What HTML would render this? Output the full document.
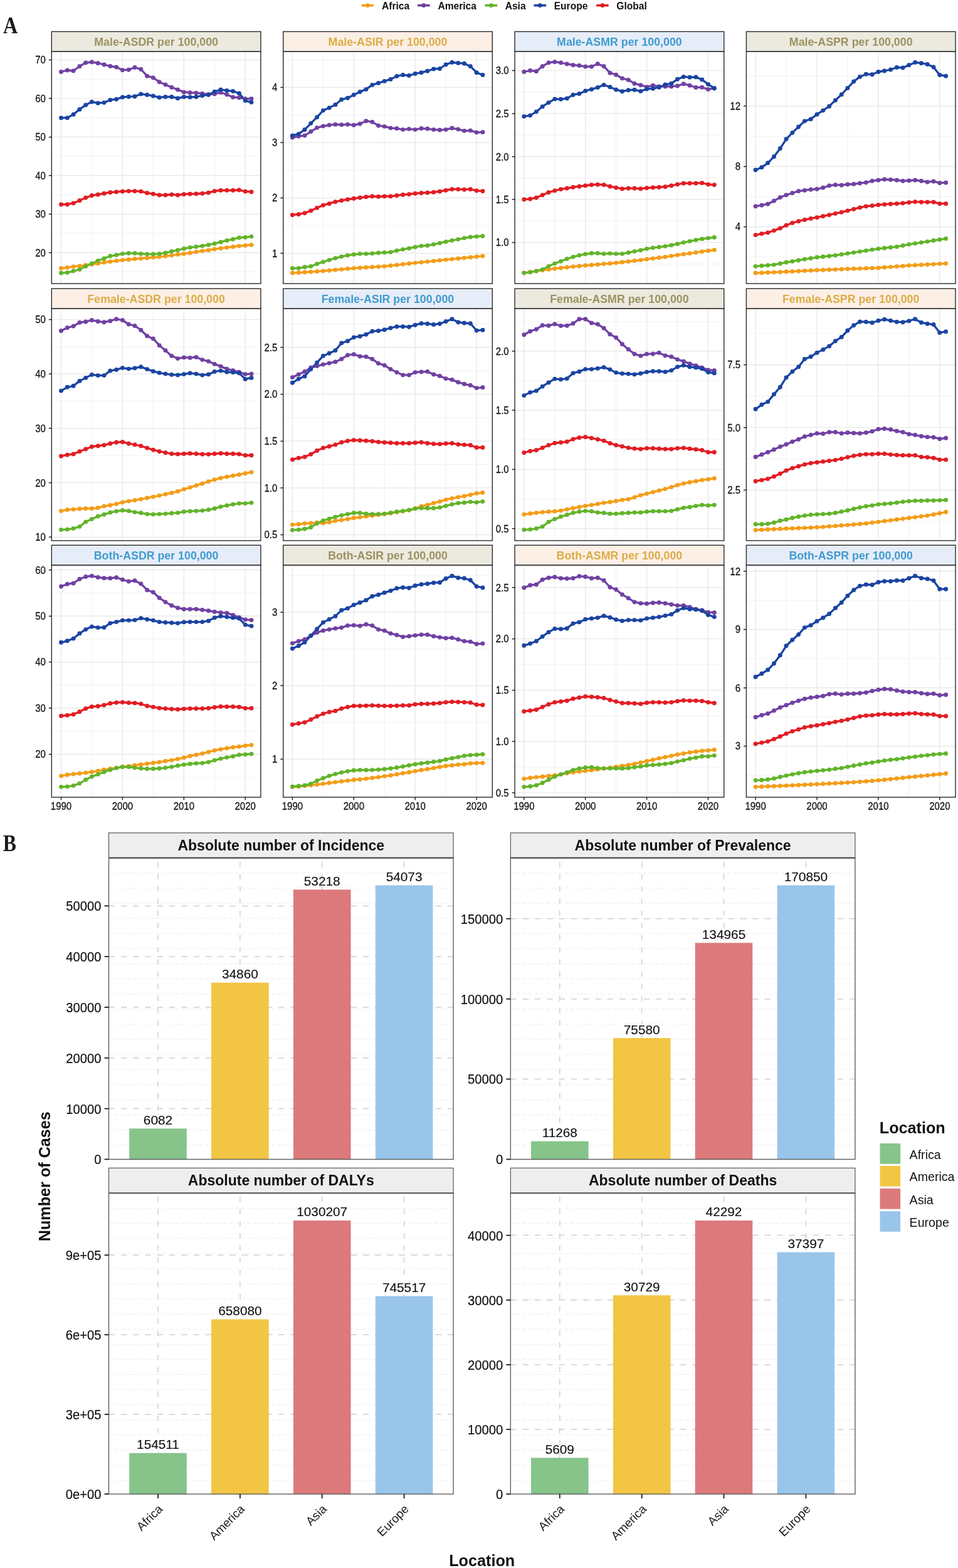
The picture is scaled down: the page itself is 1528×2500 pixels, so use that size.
<!DOCTYPE html><html><head><meta charset="utf-8"><title>Figure</title>
<style>html,body{margin:0;padding:0;background:#fff;}svg{display:block;}text{font-family:"Liberation Sans",Arial,Helvetica,sans-serif;}</style></head><body>
<svg width="1528" height="2500" viewBox="0 0 1528 2500">
<rect x="0" y="0" width="1528" height="2500" fill="#ffffff"/>
<line x1="576.6" y1="8.6" x2="596.2" y2="8.6" stroke="#F49D18" stroke-width="3.6"/>
<circle cx="586.4" cy="8.6" r="3.4" fill="#F49D18"/>
<text x="609.0" y="14.6" font-size="15.6" font-weight="bold" fill="#111">Africa</text>
<line x1="666.0" y1="8.6" x2="685.6" y2="8.6" stroke="#7041A3" stroke-width="3.6"/>
<circle cx="675.8" cy="8.6" r="3.4" fill="#7041A3"/>
<text x="698.4" y="14.6" font-size="15.6" font-weight="bold" fill="#111">America</text>
<line x1="773.5" y1="8.6" x2="793.1" y2="8.6" stroke="#62B42A" stroke-width="3.6"/>
<circle cx="783.3" cy="8.6" r="3.4" fill="#62B42A"/>
<text x="805.7" y="14.6" font-size="15.6" font-weight="bold" fill="#111">Asia</text>
<line x1="851.5" y1="8.6" x2="871.1" y2="8.6" stroke="#1A44A2" stroke-width="3.6"/>
<circle cx="861.3" cy="8.6" r="3.4" fill="#1A44A2"/>
<text x="883.7" y="14.6" font-size="15.6" font-weight="bold" fill="#111">Europe</text>
<line x1="951.1" y1="8.6" x2="970.7" y2="8.6" stroke="#E21D23" stroke-width="3.6"/>
<circle cx="960.9" cy="8.6" r="3.4" fill="#E21D23"/>
<text x="983.3" y="14.6" font-size="15.6" font-weight="bold" fill="#111">Global</text>
<text x="0" y="0" font-size="37.5" font-weight="bold" fill="#1a1a1a" style="font-family:'Liberation Serif',serif" transform="translate(5 52.8) scale(0.86 1)">A</text>
<text x="0" y="0" font-size="37" font-weight="bold" fill="#1a1a1a" style="font-family:'Liberation Serif',serif" transform="translate(4.8 1357.1) scale(0.86 1)">B</text>
<rect x="82.3" y="50.4" width="333.6" height="31.9" fill="#ECEADF" stroke="#2a2a2a" stroke-width="1.4"/>
<text x="249.1" y="73.0" font-size="17.8" font-weight="bold" fill="#9C9262" text-anchor="middle">Male-ASDR per 100,000</text>
<rect x="82.3" y="82.3" width="333.6" height="369.9" fill="#ffffff"/>
<line x1="82.3" y1="433.5" x2="415.9" y2="433.5" stroke="#EDEDED" stroke-width="0.8"/>
<line x1="82.3" y1="372.1" x2="415.9" y2="372.1" stroke="#EDEDED" stroke-width="0.8"/>
<line x1="82.3" y1="310.6" x2="415.9" y2="310.6" stroke="#EDEDED" stroke-width="0.8"/>
<line x1="82.3" y1="249.2" x2="415.9" y2="249.2" stroke="#EDEDED" stroke-width="0.8"/>
<line x1="82.3" y1="187.7" x2="415.9" y2="187.7" stroke="#EDEDED" stroke-width="0.8"/>
<line x1="82.3" y1="126.2" x2="415.9" y2="126.2" stroke="#EDEDED" stroke-width="0.8"/>
<line x1="146.4" y1="82.3" x2="146.4" y2="452.2" stroke="#EDEDED" stroke-width="0.8"/>
<line x1="244.3" y1="82.3" x2="244.3" y2="452.2" stroke="#EDEDED" stroke-width="0.8"/>
<line x1="342.2" y1="82.3" x2="342.2" y2="452.2" stroke="#EDEDED" stroke-width="0.8"/>
<line x1="82.3" y1="402.8" x2="415.9" y2="402.8" stroke="#E6E6E6" stroke-width="1.2"/>
<line x1="82.3" y1="341.3" x2="415.9" y2="341.3" stroke="#E6E6E6" stroke-width="1.2"/>
<line x1="82.3" y1="279.9" x2="415.9" y2="279.9" stroke="#E6E6E6" stroke-width="1.2"/>
<line x1="82.3" y1="218.4" x2="415.9" y2="218.4" stroke="#E6E6E6" stroke-width="1.2"/>
<line x1="82.3" y1="157.0" x2="415.9" y2="157.0" stroke="#E6E6E6" stroke-width="1.2"/>
<line x1="82.3" y1="95.5" x2="415.9" y2="95.5" stroke="#E6E6E6" stroke-width="1.2"/>
<line x1="97.5" y1="82.3" x2="97.5" y2="452.2" stroke="#E6E6E6" stroke-width="1.2"/>
<line x1="195.4" y1="82.3" x2="195.4" y2="452.2" stroke="#E6E6E6" stroke-width="1.2"/>
<line x1="293.3" y1="82.3" x2="293.3" y2="452.2" stroke="#E6E6E6" stroke-width="1.2"/>
<line x1="391.2" y1="82.3" x2="391.2" y2="452.2" stroke="#E6E6E6" stroke-width="1.2"/>
<polyline points="97.5,427.8 107.3,426.6 117.1,425.1 126.9,424.1 136.7,422.8 146.4,421.6 156.2,420.1 166.0,418.3 175.8,417.1 185.6,415.8 195.4,414.6 205.2,413.8 215.0,412.8 224.8,412.1 234.6,411.3 244.3,410.3 254.1,409.6 263.9,408.3 273.7,407.1 283.5,405.8 293.3,404.6 303.1,403.3 312.9,401.6 322.7,400.1 332.5,398.9 342.2,397.1 352.0,395.9 361.8,394.6 371.6,393.4 381.4,392.1 391.2,391.4 401.0,390.4" fill="none" stroke="#F49D18" stroke-width="3.3" stroke-linejoin="round"/>
<polyline points="97.5,114.5 107.3,112.0 117.1,113.0 126.9,105.7 136.7,100.0 146.4,99.0 156.2,100.7 166.0,103.0 175.8,105.5 185.6,107.0 195.4,111.7 205.2,111.2 215.0,107.5 224.8,110.5 234.6,121.2 244.3,123.9 254.1,130.7 263.9,134.9 273.7,139.2 283.5,142.9 293.3,146.9 303.1,147.7 312.9,148.2 322.7,149.2 332.5,150.4 342.2,149.9 352.0,147.4 361.8,150.7 371.6,154.9 381.4,155.7 391.2,157.4 401.0,157.4" fill="none" stroke="#7041A3" stroke-width="3.3" stroke-linejoin="round"/>
<polyline points="97.5,435.3 107.3,434.6 117.1,432.1 126.9,429.6 136.7,424.6 146.4,420.1 156.2,415.8 166.0,412.1 175.8,408.3 185.6,406.6 195.4,404.6 205.2,403.8 215.0,403.8 224.8,404.6 234.6,405.1 244.3,405.3 254.1,404.6 263.9,403.3 273.7,400.8 283.5,398.9 293.3,396.4 303.1,394.6 312.9,393.4 322.7,392.1 332.5,390.4 342.2,388.4 352.0,385.9 361.8,383.4 371.6,381.4 381.4,378.9 391.2,378.4 401.0,377.1" fill="none" stroke="#62B42A" stroke-width="3.3" stroke-linejoin="round"/>
<polyline points="97.5,187.9 107.3,187.9 117.1,182.4 126.9,174.4 136.7,167.4 146.4,162.4 156.2,164.4 166.0,163.6 175.8,159.4 185.6,158.2 195.4,154.9 205.2,154.2 215.0,153.7 224.8,149.9 234.6,151.2 244.3,152.9 254.1,155.4 263.9,154.4 273.7,154.4 283.5,156.7 293.3,154.4 303.1,154.9 312.9,154.4 322.7,152.4 332.5,151.2 342.2,146.2 352.0,142.9 361.8,144.4 371.6,145.4 381.4,148.7 391.2,160.4 401.0,163.1" fill="none" stroke="#1A44A2" stroke-width="3.3" stroke-linejoin="round"/>
<polyline points="97.5,325.9 107.3,325.9 117.1,323.9 126.9,319.7 136.7,315.2 146.4,311.7 156.2,310.2 166.0,308.5 175.8,306.7 185.6,306.0 195.4,305.2 205.2,304.7 215.0,304.7 224.8,305.2 234.6,307.7 244.3,309.2 254.1,311.0 263.9,311.0 273.7,310.2 283.5,311.0 293.3,309.7 303.1,309.2 312.9,309.0 322.7,308.5 332.5,307.2 342.2,304.7 352.0,303.5 361.8,303.5 371.6,303.5 381.4,303.0 391.2,305.2 401.0,306.0" fill="none" stroke="#E21D23" stroke-width="3.3" stroke-linejoin="round"/>
<g fill="#F49D18"><circle cx="97.5" cy="427.8" r="3.45"/><circle cx="107.3" cy="426.6" r="3.45"/><circle cx="117.1" cy="425.1" r="3.45"/><circle cx="126.9" cy="424.1" r="3.45"/><circle cx="136.7" cy="422.8" r="3.45"/><circle cx="146.4" cy="421.6" r="3.45"/><circle cx="156.2" cy="420.1" r="3.45"/><circle cx="166.0" cy="418.3" r="3.45"/><circle cx="175.8" cy="417.1" r="3.45"/><circle cx="185.6" cy="415.8" r="3.45"/><circle cx="195.4" cy="414.6" r="3.45"/><circle cx="205.2" cy="413.8" r="3.45"/><circle cx="215.0" cy="412.8" r="3.45"/><circle cx="224.8" cy="412.1" r="3.45"/><circle cx="234.6" cy="411.3" r="3.45"/><circle cx="244.3" cy="410.3" r="3.45"/><circle cx="254.1" cy="409.6" r="3.45"/><circle cx="263.9" cy="408.3" r="3.45"/><circle cx="273.7" cy="407.1" r="3.45"/><circle cx="283.5" cy="405.8" r="3.45"/><circle cx="293.3" cy="404.6" r="3.45"/><circle cx="303.1" cy="403.3" r="3.45"/><circle cx="312.9" cy="401.6" r="3.45"/><circle cx="322.7" cy="400.1" r="3.45"/><circle cx="332.5" cy="398.9" r="3.45"/><circle cx="342.2" cy="397.1" r="3.45"/><circle cx="352.0" cy="395.9" r="3.45"/><circle cx="361.8" cy="394.6" r="3.45"/><circle cx="371.6" cy="393.4" r="3.45"/><circle cx="381.4" cy="392.1" r="3.45"/><circle cx="391.2" cy="391.4" r="3.45"/><circle cx="401.0" cy="390.4" r="3.45"/></g>
<g fill="#7041A3"><circle cx="97.5" cy="114.5" r="3.45"/><circle cx="107.3" cy="112.0" r="3.45"/><circle cx="117.1" cy="113.0" r="3.45"/><circle cx="126.9" cy="105.7" r="3.45"/><circle cx="136.7" cy="100.0" r="3.45"/><circle cx="146.4" cy="99.0" r="3.45"/><circle cx="156.2" cy="100.7" r="3.45"/><circle cx="166.0" cy="103.0" r="3.45"/><circle cx="175.8" cy="105.5" r="3.45"/><circle cx="185.6" cy="107.0" r="3.45"/><circle cx="195.4" cy="111.7" r="3.45"/><circle cx="205.2" cy="111.2" r="3.45"/><circle cx="215.0" cy="107.5" r="3.45"/><circle cx="224.8" cy="110.5" r="3.45"/><circle cx="234.6" cy="121.2" r="3.45"/><circle cx="244.3" cy="123.9" r="3.45"/><circle cx="254.1" cy="130.7" r="3.45"/><circle cx="263.9" cy="134.9" r="3.45"/><circle cx="273.7" cy="139.2" r="3.45"/><circle cx="283.5" cy="142.9" r="3.45"/><circle cx="293.3" cy="146.9" r="3.45"/><circle cx="303.1" cy="147.7" r="3.45"/><circle cx="312.9" cy="148.2" r="3.45"/><circle cx="322.7" cy="149.2" r="3.45"/><circle cx="332.5" cy="150.4" r="3.45"/><circle cx="342.2" cy="149.9" r="3.45"/><circle cx="352.0" cy="147.4" r="3.45"/><circle cx="361.8" cy="150.7" r="3.45"/><circle cx="371.6" cy="154.9" r="3.45"/><circle cx="381.4" cy="155.7" r="3.45"/><circle cx="391.2" cy="157.4" r="3.45"/><circle cx="401.0" cy="157.4" r="3.45"/></g>
<g fill="#62B42A"><circle cx="97.5" cy="435.3" r="3.45"/><circle cx="107.3" cy="434.6" r="3.45"/><circle cx="117.1" cy="432.1" r="3.45"/><circle cx="126.9" cy="429.6" r="3.45"/><circle cx="136.7" cy="424.6" r="3.45"/><circle cx="146.4" cy="420.1" r="3.45"/><circle cx="156.2" cy="415.8" r="3.45"/><circle cx="166.0" cy="412.1" r="3.45"/><circle cx="175.8" cy="408.3" r="3.45"/><circle cx="185.6" cy="406.6" r="3.45"/><circle cx="195.4" cy="404.6" r="3.45"/><circle cx="205.2" cy="403.8" r="3.45"/><circle cx="215.0" cy="403.8" r="3.45"/><circle cx="224.8" cy="404.6" r="3.45"/><circle cx="234.6" cy="405.1" r="3.45"/><circle cx="244.3" cy="405.3" r="3.45"/><circle cx="254.1" cy="404.6" r="3.45"/><circle cx="263.9" cy="403.3" r="3.45"/><circle cx="273.7" cy="400.8" r="3.45"/><circle cx="283.5" cy="398.9" r="3.45"/><circle cx="293.3" cy="396.4" r="3.45"/><circle cx="303.1" cy="394.6" r="3.45"/><circle cx="312.9" cy="393.4" r="3.45"/><circle cx="322.7" cy="392.1" r="3.45"/><circle cx="332.5" cy="390.4" r="3.45"/><circle cx="342.2" cy="388.4" r="3.45"/><circle cx="352.0" cy="385.9" r="3.45"/><circle cx="361.8" cy="383.4" r="3.45"/><circle cx="371.6" cy="381.4" r="3.45"/><circle cx="381.4" cy="378.9" r="3.45"/><circle cx="391.2" cy="378.4" r="3.45"/><circle cx="401.0" cy="377.1" r="3.45"/></g>
<g fill="#1A44A2"><circle cx="97.5" cy="187.9" r="3.45"/><circle cx="107.3" cy="187.9" r="3.45"/><circle cx="117.1" cy="182.4" r="3.45"/><circle cx="126.9" cy="174.4" r="3.45"/><circle cx="136.7" cy="167.4" r="3.45"/><circle cx="146.4" cy="162.4" r="3.45"/><circle cx="156.2" cy="164.4" r="3.45"/><circle cx="166.0" cy="163.6" r="3.45"/><circle cx="175.8" cy="159.4" r="3.45"/><circle cx="185.6" cy="158.2" r="3.45"/><circle cx="195.4" cy="154.9" r="3.45"/><circle cx="205.2" cy="154.2" r="3.45"/><circle cx="215.0" cy="153.7" r="3.45"/><circle cx="224.8" cy="149.9" r="3.45"/><circle cx="234.6" cy="151.2" r="3.45"/><circle cx="244.3" cy="152.9" r="3.45"/><circle cx="254.1" cy="155.4" r="3.45"/><circle cx="263.9" cy="154.4" r="3.45"/><circle cx="273.7" cy="154.4" r="3.45"/><circle cx="283.5" cy="156.7" r="3.45"/><circle cx="293.3" cy="154.4" r="3.45"/><circle cx="303.1" cy="154.9" r="3.45"/><circle cx="312.9" cy="154.4" r="3.45"/><circle cx="322.7" cy="152.4" r="3.45"/><circle cx="332.5" cy="151.2" r="3.45"/><circle cx="342.2" cy="146.2" r="3.45"/><circle cx="352.0" cy="142.9" r="3.45"/><circle cx="361.8" cy="144.4" r="3.45"/><circle cx="371.6" cy="145.4" r="3.45"/><circle cx="381.4" cy="148.7" r="3.45"/><circle cx="391.2" cy="160.4" r="3.45"/><circle cx="401.0" cy="163.1" r="3.45"/></g>
<g fill="#E21D23"><circle cx="97.5" cy="325.9" r="3.45"/><circle cx="107.3" cy="325.9" r="3.45"/><circle cx="117.1" cy="323.9" r="3.45"/><circle cx="126.9" cy="319.7" r="3.45"/><circle cx="136.7" cy="315.2" r="3.45"/><circle cx="146.4" cy="311.7" r="3.45"/><circle cx="156.2" cy="310.2" r="3.45"/><circle cx="166.0" cy="308.5" r="3.45"/><circle cx="175.8" cy="306.7" r="3.45"/><circle cx="185.6" cy="306.0" r="3.45"/><circle cx="195.4" cy="305.2" r="3.45"/><circle cx="205.2" cy="304.7" r="3.45"/><circle cx="215.0" cy="304.7" r="3.45"/><circle cx="224.8" cy="305.2" r="3.45"/><circle cx="234.6" cy="307.7" r="3.45"/><circle cx="244.3" cy="309.2" r="3.45"/><circle cx="254.1" cy="311.0" r="3.45"/><circle cx="263.9" cy="311.0" r="3.45"/><circle cx="273.7" cy="310.2" r="3.45"/><circle cx="283.5" cy="311.0" r="3.45"/><circle cx="293.3" cy="309.7" r="3.45"/><circle cx="303.1" cy="309.2" r="3.45"/><circle cx="312.9" cy="309.0" r="3.45"/><circle cx="322.7" cy="308.5" r="3.45"/><circle cx="332.5" cy="307.2" r="3.45"/><circle cx="342.2" cy="304.7" r="3.45"/><circle cx="352.0" cy="303.5" r="3.45"/><circle cx="361.8" cy="303.5" r="3.45"/><circle cx="371.6" cy="303.5" r="3.45"/><circle cx="381.4" cy="303.0" r="3.45"/><circle cx="391.2" cy="305.2" r="3.45"/><circle cx="401.0" cy="306.0" r="3.45"/></g>
<rect x="82.3" y="82.3" width="333.6" height="369.9" fill="none" stroke="#2a2a2a" stroke-width="1.4"/>
<line x1="77.9" y1="95.5" x2="82.3" y2="95.5" stroke="#222" stroke-width="1.5"/>
<text transform="translate(72.9 101.3) scale(1 1.09)" font-size="15" fill="#111" stroke="#111" stroke-width="0.25" text-anchor="end">70</text>
<line x1="77.9" y1="156.9" x2="82.3" y2="156.9" stroke="#222" stroke-width="1.5"/>
<text transform="translate(72.9 162.7) scale(1 1.09)" font-size="15" fill="#111" stroke="#111" stroke-width="0.25" text-anchor="end">60</text>
<line x1="77.9" y1="218.6" x2="82.3" y2="218.6" stroke="#222" stroke-width="1.5"/>
<text transform="translate(72.9 224.4) scale(1 1.09)" font-size="15" fill="#111" stroke="#111" stroke-width="0.25" text-anchor="end">50</text>
<line x1="77.9" y1="279.8" x2="82.3" y2="279.8" stroke="#222" stroke-width="1.5"/>
<text transform="translate(72.9 285.6) scale(1 1.09)" font-size="15" fill="#111" stroke="#111" stroke-width="0.25" text-anchor="end">40</text>
<line x1="77.9" y1="341.4" x2="82.3" y2="341.4" stroke="#222" stroke-width="1.5"/>
<text transform="translate(72.9 347.2) scale(1 1.09)" font-size="15" fill="#111" stroke="#111" stroke-width="0.25" text-anchor="end">30</text>
<line x1="77.9" y1="402.8" x2="82.3" y2="402.8" stroke="#222" stroke-width="1.5"/>
<text transform="translate(72.9 408.6) scale(1 1.09)" font-size="15" fill="#111" stroke="#111" stroke-width="0.25" text-anchor="end">20</text>
<rect x="451.7" y="50.4" width="333.6" height="31.9" fill="#FCEFE6" stroke="#2a2a2a" stroke-width="1.4"/>
<text x="618.5" y="73.0" font-size="17.8" font-weight="bold" fill="#DCAD46" text-anchor="middle">Male-ASIR per 100,000</text>
<rect x="451.7" y="82.3" width="333.6" height="369.9" fill="#ffffff"/>
<line x1="451.7" y1="447.9" x2="785.3" y2="447.9" stroke="#EDEDED" stroke-width="0.8"/>
<line x1="451.7" y1="359.7" x2="785.3" y2="359.7" stroke="#EDEDED" stroke-width="0.8"/>
<line x1="451.7" y1="271.6" x2="785.3" y2="271.6" stroke="#EDEDED" stroke-width="0.8"/>
<line x1="451.7" y1="183.5" x2="785.3" y2="183.5" stroke="#EDEDED" stroke-width="0.8"/>
<line x1="451.7" y1="95.3" x2="785.3" y2="95.3" stroke="#EDEDED" stroke-width="0.8"/>
<line x1="515.4" y1="82.3" x2="515.4" y2="452.2" stroke="#EDEDED" stroke-width="0.8"/>
<line x1="613.2" y1="82.3" x2="613.2" y2="452.2" stroke="#EDEDED" stroke-width="0.8"/>
<line x1="711.1" y1="82.3" x2="711.1" y2="452.2" stroke="#EDEDED" stroke-width="0.8"/>
<line x1="451.7" y1="403.8" x2="785.3" y2="403.8" stroke="#E6E6E6" stroke-width="1.2"/>
<line x1="451.7" y1="315.7" x2="785.3" y2="315.7" stroke="#E6E6E6" stroke-width="1.2"/>
<line x1="451.7" y1="227.5" x2="785.3" y2="227.5" stroke="#E6E6E6" stroke-width="1.2"/>
<line x1="451.7" y1="139.4" x2="785.3" y2="139.4" stroke="#E6E6E6" stroke-width="1.2"/>
<line x1="466.4" y1="82.3" x2="466.4" y2="452.2" stroke="#E6E6E6" stroke-width="1.2"/>
<line x1="564.3" y1="82.3" x2="564.3" y2="452.2" stroke="#E6E6E6" stroke-width="1.2"/>
<line x1="662.2" y1="82.3" x2="662.2" y2="452.2" stroke="#E6E6E6" stroke-width="1.2"/>
<line x1="760.1" y1="82.3" x2="760.1" y2="452.2" stroke="#E6E6E6" stroke-width="1.2"/>
<polyline points="466.4,435.3 476.2,434.7 486.0,434.0 495.8,433.4 505.6,432.7 515.4,432.1 525.1,431.2 534.9,430.3 544.7,429.4 554.5,428.5 564.3,427.6 574.1,427.0 583.9,426.4 593.7,425.8 603.5,425.2 613.2,424.6 623.0,423.5 632.8,422.4 642.6,421.3 652.4,420.2 662.2,419.1 672.0,418.1 681.8,417.1 691.6,416.1 701.4,415.1 711.1,414.1 720.9,413.1 730.7,412.2 740.5,411.2 750.3,410.3 760.1,409.3 769.9,408.3" fill="none" stroke="#F49D18" stroke-width="3.3" stroke-linejoin="round"/>
<polyline points="466.4,219.3 476.2,217.3 486.0,216.1 495.8,209.8 505.6,203.6 515.4,201.1 525.1,199.4 534.9,198.4 544.7,198.9 554.5,198.4 564.3,199.4 574.1,197.4 583.9,192.9 593.7,194.4 603.5,200.3 613.2,201.6 623.0,204.1 632.8,204.8 642.6,206.6 652.4,205.6 662.2,206.6 672.0,204.8 681.8,205.3 691.6,206.6 701.4,207.3 711.1,206.6 720.9,204.3 730.7,206.1 740.5,208.6 750.3,208.1 760.1,211.1 769.9,210.8" fill="none" stroke="#7041A3" stroke-width="3.3" stroke-linejoin="round"/>
<polyline points="466.4,427.8 476.2,427.6 486.0,425.8 495.8,424.6 505.6,420.8 515.4,417.6 525.1,414.6 534.9,411.6 544.7,409.1 554.5,407.1 564.3,405.8 574.1,404.6 583.9,404.6 593.7,404.1 603.5,403.3 613.2,402.6 623.0,402.1 632.8,399.6 642.6,397.6 652.4,395.9 662.2,393.9 672.0,392.1 681.8,391.4 691.6,389.6 701.4,387.6 711.1,385.4 720.9,383.4 730.7,381.6 740.5,379.6 750.3,377.9 760.1,377.1 769.9,376.4" fill="none" stroke="#62B42A" stroke-width="3.3" stroke-linejoin="round"/>
<polyline points="466.4,216.1 476.2,213.6 486.0,206.8 495.8,196.6 505.6,186.9 515.4,176.1 525.1,171.9 534.9,166.9 544.7,158.7 554.5,156.2 564.3,151.2 574.1,146.4 583.9,142.4 593.7,135.4 603.5,132.4 613.2,129.4 623.0,126.4 632.8,121.4 642.6,119.5 652.4,120.4 662.2,117.5 672.0,115.7 681.8,113.2 691.6,110.0 701.4,109.5 711.1,103.0 720.9,99.5 730.7,100.5 740.5,101.2 750.3,105.7 760.1,115.7 769.9,119.5" fill="none" stroke="#1A44A2" stroke-width="3.3" stroke-linejoin="round"/>
<polyline points="466.4,342.7 476.2,341.7 486.0,339.7 495.8,335.9 505.6,331.4 515.4,327.2 525.1,324.7 534.9,321.7 544.7,319.7 554.5,318.0 564.3,316.5 574.1,315.2 583.9,314.0 593.7,313.0 603.5,313.5 613.2,313.0 623.0,313.0 632.8,311.7 642.6,310.5 652.4,309.7 662.2,308.5 672.0,307.7 681.8,307.2 691.6,306.5 701.4,305.2 711.1,303.5 720.9,301.7 730.7,301.7 740.5,302.2 750.3,301.7 760.1,304.0 769.9,304.7" fill="none" stroke="#E21D23" stroke-width="3.3" stroke-linejoin="round"/>
<g fill="#F49D18"><circle cx="466.4" cy="435.3" r="3.45"/><circle cx="476.2" cy="434.7" r="3.45"/><circle cx="486.0" cy="434.0" r="3.45"/><circle cx="495.8" cy="433.4" r="3.45"/><circle cx="505.6" cy="432.7" r="3.45"/><circle cx="515.4" cy="432.1" r="3.45"/><circle cx="525.1" cy="431.2" r="3.45"/><circle cx="534.9" cy="430.3" r="3.45"/><circle cx="544.7" cy="429.4" r="3.45"/><circle cx="554.5" cy="428.5" r="3.45"/><circle cx="564.3" cy="427.6" r="3.45"/><circle cx="574.1" cy="427.0" r="3.45"/><circle cx="583.9" cy="426.4" r="3.45"/><circle cx="593.7" cy="425.8" r="3.45"/><circle cx="603.5" cy="425.2" r="3.45"/><circle cx="613.2" cy="424.6" r="3.45"/><circle cx="623.0" cy="423.5" r="3.45"/><circle cx="632.8" cy="422.4" r="3.45"/><circle cx="642.6" cy="421.3" r="3.45"/><circle cx="652.4" cy="420.2" r="3.45"/><circle cx="662.2" cy="419.1" r="3.45"/><circle cx="672.0" cy="418.1" r="3.45"/><circle cx="681.8" cy="417.1" r="3.45"/><circle cx="691.6" cy="416.1" r="3.45"/><circle cx="701.4" cy="415.1" r="3.45"/><circle cx="711.1" cy="414.1" r="3.45"/><circle cx="720.9" cy="413.1" r="3.45"/><circle cx="730.7" cy="412.2" r="3.45"/><circle cx="740.5" cy="411.2" r="3.45"/><circle cx="750.3" cy="410.3" r="3.45"/><circle cx="760.1" cy="409.3" r="3.45"/><circle cx="769.9" cy="408.3" r="3.45"/></g>
<g fill="#7041A3"><circle cx="466.4" cy="219.3" r="3.45"/><circle cx="476.2" cy="217.3" r="3.45"/><circle cx="486.0" cy="216.1" r="3.45"/><circle cx="495.8" cy="209.8" r="3.45"/><circle cx="505.6" cy="203.6" r="3.45"/><circle cx="515.4" cy="201.1" r="3.45"/><circle cx="525.1" cy="199.4" r="3.45"/><circle cx="534.9" cy="198.4" r="3.45"/><circle cx="544.7" cy="198.9" r="3.45"/><circle cx="554.5" cy="198.4" r="3.45"/><circle cx="564.3" cy="199.4" r="3.45"/><circle cx="574.1" cy="197.4" r="3.45"/><circle cx="583.9" cy="192.9" r="3.45"/><circle cx="593.7" cy="194.4" r="3.45"/><circle cx="603.5" cy="200.3" r="3.45"/><circle cx="613.2" cy="201.6" r="3.45"/><circle cx="623.0" cy="204.1" r="3.45"/><circle cx="632.8" cy="204.8" r="3.45"/><circle cx="642.6" cy="206.6" r="3.45"/><circle cx="652.4" cy="205.6" r="3.45"/><circle cx="662.2" cy="206.6" r="3.45"/><circle cx="672.0" cy="204.8" r="3.45"/><circle cx="681.8" cy="205.3" r="3.45"/><circle cx="691.6" cy="206.6" r="3.45"/><circle cx="701.4" cy="207.3" r="3.45"/><circle cx="711.1" cy="206.6" r="3.45"/><circle cx="720.9" cy="204.3" r="3.45"/><circle cx="730.7" cy="206.1" r="3.45"/><circle cx="740.5" cy="208.6" r="3.45"/><circle cx="750.3" cy="208.1" r="3.45"/><circle cx="760.1" cy="211.1" r="3.45"/><circle cx="769.9" cy="210.8" r="3.45"/></g>
<g fill="#62B42A"><circle cx="466.4" cy="427.8" r="3.45"/><circle cx="476.2" cy="427.6" r="3.45"/><circle cx="486.0" cy="425.8" r="3.45"/><circle cx="495.8" cy="424.6" r="3.45"/><circle cx="505.6" cy="420.8" r="3.45"/><circle cx="515.4" cy="417.6" r="3.45"/><circle cx="525.1" cy="414.6" r="3.45"/><circle cx="534.9" cy="411.6" r="3.45"/><circle cx="544.7" cy="409.1" r="3.45"/><circle cx="554.5" cy="407.1" r="3.45"/><circle cx="564.3" cy="405.8" r="3.45"/><circle cx="574.1" cy="404.6" r="3.45"/><circle cx="583.9" cy="404.6" r="3.45"/><circle cx="593.7" cy="404.1" r="3.45"/><circle cx="603.5" cy="403.3" r="3.45"/><circle cx="613.2" cy="402.6" r="3.45"/><circle cx="623.0" cy="402.1" r="3.45"/><circle cx="632.8" cy="399.6" r="3.45"/><circle cx="642.6" cy="397.6" r="3.45"/><circle cx="652.4" cy="395.9" r="3.45"/><circle cx="662.2" cy="393.9" r="3.45"/><circle cx="672.0" cy="392.1" r="3.45"/><circle cx="681.8" cy="391.4" r="3.45"/><circle cx="691.6" cy="389.6" r="3.45"/><circle cx="701.4" cy="387.6" r="3.45"/><circle cx="711.1" cy="385.4" r="3.45"/><circle cx="720.9" cy="383.4" r="3.45"/><circle cx="730.7" cy="381.6" r="3.45"/><circle cx="740.5" cy="379.6" r="3.45"/><circle cx="750.3" cy="377.9" r="3.45"/><circle cx="760.1" cy="377.1" r="3.45"/><circle cx="769.9" cy="376.4" r="3.45"/></g>
<g fill="#1A44A2"><circle cx="466.4" cy="216.1" r="3.45"/><circle cx="476.2" cy="213.6" r="3.45"/><circle cx="486.0" cy="206.8" r="3.45"/><circle cx="495.8" cy="196.6" r="3.45"/><circle cx="505.6" cy="186.9" r="3.45"/><circle cx="515.4" cy="176.1" r="3.45"/><circle cx="525.1" cy="171.9" r="3.45"/><circle cx="534.9" cy="166.9" r="3.45"/><circle cx="544.7" cy="158.7" r="3.45"/><circle cx="554.5" cy="156.2" r="3.45"/><circle cx="564.3" cy="151.2" r="3.45"/><circle cx="574.1" cy="146.4" r="3.45"/><circle cx="583.9" cy="142.4" r="3.45"/><circle cx="593.7" cy="135.4" r="3.45"/><circle cx="603.5" cy="132.4" r="3.45"/><circle cx="613.2" cy="129.4" r="3.45"/><circle cx="623.0" cy="126.4" r="3.45"/><circle cx="632.8" cy="121.4" r="3.45"/><circle cx="642.6" cy="119.5" r="3.45"/><circle cx="652.4" cy="120.4" r="3.45"/><circle cx="662.2" cy="117.5" r="3.45"/><circle cx="672.0" cy="115.7" r="3.45"/><circle cx="681.8" cy="113.2" r="3.45"/><circle cx="691.6" cy="110.0" r="3.45"/><circle cx="701.4" cy="109.5" r="3.45"/><circle cx="711.1" cy="103.0" r="3.45"/><circle cx="720.9" cy="99.5" r="3.45"/><circle cx="730.7" cy="100.5" r="3.45"/><circle cx="740.5" cy="101.2" r="3.45"/><circle cx="750.3" cy="105.7" r="3.45"/><circle cx="760.1" cy="115.7" r="3.45"/><circle cx="769.9" cy="119.5" r="3.45"/></g>
<g fill="#E21D23"><circle cx="466.4" cy="342.7" r="3.45"/><circle cx="476.2" cy="341.7" r="3.45"/><circle cx="486.0" cy="339.7" r="3.45"/><circle cx="495.8" cy="335.9" r="3.45"/><circle cx="505.6" cy="331.4" r="3.45"/><circle cx="515.4" cy="327.2" r="3.45"/><circle cx="525.1" cy="324.7" r="3.45"/><circle cx="534.9" cy="321.7" r="3.45"/><circle cx="544.7" cy="319.7" r="3.45"/><circle cx="554.5" cy="318.0" r="3.45"/><circle cx="564.3" cy="316.5" r="3.45"/><circle cx="574.1" cy="315.2" r="3.45"/><circle cx="583.9" cy="314.0" r="3.45"/><circle cx="593.7" cy="313.0" r="3.45"/><circle cx="603.5" cy="313.5" r="3.45"/><circle cx="613.2" cy="313.0" r="3.45"/><circle cx="623.0" cy="313.0" r="3.45"/><circle cx="632.8" cy="311.7" r="3.45"/><circle cx="642.6" cy="310.5" r="3.45"/><circle cx="652.4" cy="309.7" r="3.45"/><circle cx="662.2" cy="308.5" r="3.45"/><circle cx="672.0" cy="307.7" r="3.45"/><circle cx="681.8" cy="307.2" r="3.45"/><circle cx="691.6" cy="306.5" r="3.45"/><circle cx="701.4" cy="305.2" r="3.45"/><circle cx="711.1" cy="303.5" r="3.45"/><circle cx="720.9" cy="301.7" r="3.45"/><circle cx="730.7" cy="301.7" r="3.45"/><circle cx="740.5" cy="302.2" r="3.45"/><circle cx="750.3" cy="301.7" r="3.45"/><circle cx="760.1" cy="304.0" r="3.45"/><circle cx="769.9" cy="304.7" r="3.45"/></g>
<rect x="451.7" y="82.3" width="333.6" height="369.9" fill="none" stroke="#2a2a2a" stroke-width="1.4"/>
<line x1="447.3" y1="139.4" x2="451.7" y2="139.4" stroke="#222" stroke-width="1.5"/>
<text transform="translate(442.3 145.2) scale(1 1.09)" font-size="15" fill="#111" stroke="#111" stroke-width="0.25" text-anchor="end">4</text>
<line x1="447.3" y1="227.3" x2="451.7" y2="227.3" stroke="#222" stroke-width="1.5"/>
<text transform="translate(442.3 233.1) scale(1 1.09)" font-size="15" fill="#111" stroke="#111" stroke-width="0.25" text-anchor="end">3</text>
<line x1="447.3" y1="315.5" x2="451.7" y2="315.5" stroke="#222" stroke-width="1.5"/>
<text transform="translate(442.3 321.3) scale(1 1.09)" font-size="15" fill="#111" stroke="#111" stroke-width="0.25" text-anchor="end">2</text>
<line x1="447.3" y1="403.8" x2="451.7" y2="403.8" stroke="#222" stroke-width="1.5"/>
<text transform="translate(442.3 409.6) scale(1 1.09)" font-size="15" fill="#111" stroke="#111" stroke-width="0.25" text-anchor="end">1</text>
<rect x="821.1" y="50.4" width="333.6" height="31.9" fill="#E6EDF8" stroke="#2a2a2a" stroke-width="1.4"/>
<text x="987.9" y="73.0" font-size="17.8" font-weight="bold" fill="#409BD0" text-anchor="middle">Male-ASMR per 100,000</text>
<rect x="821.1" y="82.3" width="333.6" height="369.9" fill="#ffffff"/>
<line x1="821.1" y1="420.9" x2="1154.7" y2="420.9" stroke="#EDEDED" stroke-width="0.8"/>
<line x1="821.1" y1="352.3" x2="1154.7" y2="352.3" stroke="#EDEDED" stroke-width="0.8"/>
<line x1="821.1" y1="283.8" x2="1154.7" y2="283.8" stroke="#EDEDED" stroke-width="0.8"/>
<line x1="821.1" y1="215.3" x2="1154.7" y2="215.3" stroke="#EDEDED" stroke-width="0.8"/>
<line x1="821.1" y1="146.8" x2="1154.7" y2="146.8" stroke="#EDEDED" stroke-width="0.8"/>
<line x1="884.8" y1="82.3" x2="884.8" y2="452.2" stroke="#EDEDED" stroke-width="0.8"/>
<line x1="982.6" y1="82.3" x2="982.6" y2="452.2" stroke="#EDEDED" stroke-width="0.8"/>
<line x1="1080.5" y1="82.3" x2="1080.5" y2="452.2" stroke="#EDEDED" stroke-width="0.8"/>
<line x1="821.1" y1="386.6" x2="1154.7" y2="386.6" stroke="#E6E6E6" stroke-width="1.2"/>
<line x1="821.1" y1="318.1" x2="1154.7" y2="318.1" stroke="#E6E6E6" stroke-width="1.2"/>
<line x1="821.1" y1="249.6" x2="1154.7" y2="249.6" stroke="#E6E6E6" stroke-width="1.2"/>
<line x1="821.1" y1="181.0" x2="1154.7" y2="181.0" stroke="#E6E6E6" stroke-width="1.2"/>
<line x1="821.1" y1="112.5" x2="1154.7" y2="112.5" stroke="#E6E6E6" stroke-width="1.2"/>
<line x1="835.8" y1="82.3" x2="835.8" y2="452.2" stroke="#E6E6E6" stroke-width="1.2"/>
<line x1="933.7" y1="82.3" x2="933.7" y2="452.2" stroke="#E6E6E6" stroke-width="1.2"/>
<line x1="1031.6" y1="82.3" x2="1031.6" y2="452.2" stroke="#E6E6E6" stroke-width="1.2"/>
<line x1="1129.5" y1="82.3" x2="1129.5" y2="452.2" stroke="#E6E6E6" stroke-width="1.2"/>
<polyline points="835.8,435.1 845.6,433.6 855.4,432.2 865.2,430.8 875.0,429.6 884.8,428.3 894.5,427.2 904.3,426.2 914.1,425.1 923.9,424.2 933.7,423.3 943.5,422.5 953.3,421.7 963.1,420.8 972.9,420.0 982.6,419.1 992.4,418.0 1002.2,416.9 1012.0,415.8 1021.8,414.6 1031.6,413.3 1041.4,412.1 1051.2,410.8 1061.0,409.6 1070.8,408.1 1080.5,406.6 1090.3,405.3 1100.1,403.9 1109.9,402.6 1119.7,401.2 1129.5,399.8 1139.3,398.4" fill="none" stroke="#F49D18" stroke-width="3.3" stroke-linejoin="round"/>
<polyline points="835.8,114.5 845.6,112.5 855.4,113.7 865.2,105.7 875.0,100.0 884.8,98.7 894.5,100.0 904.3,102.0 914.1,103.7 923.9,104.5 933.7,106.2 943.5,106.2 953.3,101.7 963.1,105.7 972.9,116.2 982.6,119.2 992.4,124.9 1002.2,127.4 1012.0,133.2 1021.8,135.7 1031.6,138.7 1041.4,136.2 1051.2,137.9 1061.0,137.9 1070.8,137.9 1080.5,136.9 1090.3,133.7 1100.1,136.2 1109.9,139.4 1119.7,139.2 1129.5,142.4 1139.3,140.7" fill="none" stroke="#7041A3" stroke-width="3.3" stroke-linejoin="round"/>
<polyline points="835.8,435.1 845.6,434.1 855.4,432.1 865.2,429.6 875.0,424.6 884.8,420.1 894.5,416.6 904.3,412.8 914.1,409.6 923.9,407.1 933.7,405.1 943.5,403.8 953.3,403.8 963.1,404.6 972.9,404.1 982.6,404.6 992.4,404.6 1002.2,402.8 1012.0,400.8 1021.8,398.9 1031.6,396.6 1041.4,395.1 1051.2,393.9 1061.0,392.6 1070.8,390.9 1080.5,388.9 1090.3,386.6 1100.1,384.6 1109.9,382.6 1119.7,380.9 1129.5,379.6 1139.3,378.4" fill="none" stroke="#62B42A" stroke-width="3.3" stroke-linejoin="round"/>
<polyline points="835.8,185.6 845.6,184.1 855.4,178.1 865.2,169.9 875.0,163.6 884.8,157.9 894.5,158.2 904.3,156.9 914.1,151.2 923.9,149.4 933.7,144.9 943.5,142.4 953.3,139.4 963.1,135.4 972.9,138.7 982.6,142.9 992.4,145.7 1002.2,143.7 1012.0,143.2 1021.8,145.4 1031.6,141.9 1041.4,141.2 1051.2,139.2 1061.0,134.9 1070.8,133.2 1080.5,126.2 1090.3,122.4 1100.1,123.2 1109.9,122.9 1119.7,126.9 1129.5,134.4 1139.3,140.7" fill="none" stroke="#1A44A2" stroke-width="3.3" stroke-linejoin="round"/>
<polyline points="835.8,318.0 845.6,317.2 855.4,315.2 865.2,311.0 875.0,306.7 884.8,304.0 894.5,301.7 904.3,300.2 914.1,298.5 923.9,297.2 933.7,296.0 943.5,294.7 953.3,294.2 963.1,294.7 972.9,297.2 982.6,299.2 992.4,301.0 1002.2,300.2 1012.0,300.2 1021.8,301.0 1031.6,299.7 1041.4,299.0 1051.2,298.5 1061.0,297.7 1070.8,296.0 1080.5,294.0 1090.3,292.2 1100.1,292.2 1109.9,292.2 1119.7,291.7 1129.5,294.0 1139.3,294.7" fill="none" stroke="#E21D23" stroke-width="3.3" stroke-linejoin="round"/>
<g fill="#F49D18"><circle cx="835.8" cy="435.1" r="3.45"/><circle cx="845.6" cy="433.6" r="3.45"/><circle cx="855.4" cy="432.2" r="3.45"/><circle cx="865.2" cy="430.8" r="3.45"/><circle cx="875.0" cy="429.6" r="3.45"/><circle cx="884.8" cy="428.3" r="3.45"/><circle cx="894.5" cy="427.2" r="3.45"/><circle cx="904.3" cy="426.2" r="3.45"/><circle cx="914.1" cy="425.1" r="3.45"/><circle cx="923.9" cy="424.2" r="3.45"/><circle cx="933.7" cy="423.3" r="3.45"/><circle cx="943.5" cy="422.5" r="3.45"/><circle cx="953.3" cy="421.7" r="3.45"/><circle cx="963.1" cy="420.8" r="3.45"/><circle cx="972.9" cy="420.0" r="3.45"/><circle cx="982.6" cy="419.1" r="3.45"/><circle cx="992.4" cy="418.0" r="3.45"/><circle cx="1002.2" cy="416.9" r="3.45"/><circle cx="1012.0" cy="415.8" r="3.45"/><circle cx="1021.8" cy="414.6" r="3.45"/><circle cx="1031.6" cy="413.3" r="3.45"/><circle cx="1041.4" cy="412.1" r="3.45"/><circle cx="1051.2" cy="410.8" r="3.45"/><circle cx="1061.0" cy="409.6" r="3.45"/><circle cx="1070.8" cy="408.1" r="3.45"/><circle cx="1080.5" cy="406.6" r="3.45"/><circle cx="1090.3" cy="405.3" r="3.45"/><circle cx="1100.1" cy="403.9" r="3.45"/><circle cx="1109.9" cy="402.6" r="3.45"/><circle cx="1119.7" cy="401.2" r="3.45"/><circle cx="1129.5" cy="399.8" r="3.45"/><circle cx="1139.3" cy="398.4" r="3.45"/></g>
<g fill="#7041A3"><circle cx="835.8" cy="114.5" r="3.45"/><circle cx="845.6" cy="112.5" r="3.45"/><circle cx="855.4" cy="113.7" r="3.45"/><circle cx="865.2" cy="105.7" r="3.45"/><circle cx="875.0" cy="100.0" r="3.45"/><circle cx="884.8" cy="98.7" r="3.45"/><circle cx="894.5" cy="100.0" r="3.45"/><circle cx="904.3" cy="102.0" r="3.45"/><circle cx="914.1" cy="103.7" r="3.45"/><circle cx="923.9" cy="104.5" r="3.45"/><circle cx="933.7" cy="106.2" r="3.45"/><circle cx="943.5" cy="106.2" r="3.45"/><circle cx="953.3" cy="101.7" r="3.45"/><circle cx="963.1" cy="105.7" r="3.45"/><circle cx="972.9" cy="116.2" r="3.45"/><circle cx="982.6" cy="119.2" r="3.45"/><circle cx="992.4" cy="124.9" r="3.45"/><circle cx="1002.2" cy="127.4" r="3.45"/><circle cx="1012.0" cy="133.2" r="3.45"/><circle cx="1021.8" cy="135.7" r="3.45"/><circle cx="1031.6" cy="138.7" r="3.45"/><circle cx="1041.4" cy="136.2" r="3.45"/><circle cx="1051.2" cy="137.9" r="3.45"/><circle cx="1061.0" cy="137.9" r="3.45"/><circle cx="1070.8" cy="137.9" r="3.45"/><circle cx="1080.5" cy="136.9" r="3.45"/><circle cx="1090.3" cy="133.7" r="3.45"/><circle cx="1100.1" cy="136.2" r="3.45"/><circle cx="1109.9" cy="139.4" r="3.45"/><circle cx="1119.7" cy="139.2" r="3.45"/><circle cx="1129.5" cy="142.4" r="3.45"/><circle cx="1139.3" cy="140.7" r="3.45"/></g>
<g fill="#62B42A"><circle cx="835.8" cy="435.1" r="3.45"/><circle cx="845.6" cy="434.1" r="3.45"/><circle cx="855.4" cy="432.1" r="3.45"/><circle cx="865.2" cy="429.6" r="3.45"/><circle cx="875.0" cy="424.6" r="3.45"/><circle cx="884.8" cy="420.1" r="3.45"/><circle cx="894.5" cy="416.6" r="3.45"/><circle cx="904.3" cy="412.8" r="3.45"/><circle cx="914.1" cy="409.6" r="3.45"/><circle cx="923.9" cy="407.1" r="3.45"/><circle cx="933.7" cy="405.1" r="3.45"/><circle cx="943.5" cy="403.8" r="3.45"/><circle cx="953.3" cy="403.8" r="3.45"/><circle cx="963.1" cy="404.6" r="3.45"/><circle cx="972.9" cy="404.1" r="3.45"/><circle cx="982.6" cy="404.6" r="3.45"/><circle cx="992.4" cy="404.6" r="3.45"/><circle cx="1002.2" cy="402.8" r="3.45"/><circle cx="1012.0" cy="400.8" r="3.45"/><circle cx="1021.8" cy="398.9" r="3.45"/><circle cx="1031.6" cy="396.6" r="3.45"/><circle cx="1041.4" cy="395.1" r="3.45"/><circle cx="1051.2" cy="393.9" r="3.45"/><circle cx="1061.0" cy="392.6" r="3.45"/><circle cx="1070.8" cy="390.9" r="3.45"/><circle cx="1080.5" cy="388.9" r="3.45"/><circle cx="1090.3" cy="386.6" r="3.45"/><circle cx="1100.1" cy="384.6" r="3.45"/><circle cx="1109.9" cy="382.6" r="3.45"/><circle cx="1119.7" cy="380.9" r="3.45"/><circle cx="1129.5" cy="379.6" r="3.45"/><circle cx="1139.3" cy="378.4" r="3.45"/></g>
<g fill="#1A44A2"><circle cx="835.8" cy="185.6" r="3.45"/><circle cx="845.6" cy="184.1" r="3.45"/><circle cx="855.4" cy="178.1" r="3.45"/><circle cx="865.2" cy="169.9" r="3.45"/><circle cx="875.0" cy="163.6" r="3.45"/><circle cx="884.8" cy="157.9" r="3.45"/><circle cx="894.5" cy="158.2" r="3.45"/><circle cx="904.3" cy="156.9" r="3.45"/><circle cx="914.1" cy="151.2" r="3.45"/><circle cx="923.9" cy="149.4" r="3.45"/><circle cx="933.7" cy="144.9" r="3.45"/><circle cx="943.5" cy="142.4" r="3.45"/><circle cx="953.3" cy="139.4" r="3.45"/><circle cx="963.1" cy="135.4" r="3.45"/><circle cx="972.9" cy="138.7" r="3.45"/><circle cx="982.6" cy="142.9" r="3.45"/><circle cx="992.4" cy="145.7" r="3.45"/><circle cx="1002.2" cy="143.7" r="3.45"/><circle cx="1012.0" cy="143.2" r="3.45"/><circle cx="1021.8" cy="145.4" r="3.45"/><circle cx="1031.6" cy="141.9" r="3.45"/><circle cx="1041.4" cy="141.2" r="3.45"/><circle cx="1051.2" cy="139.2" r="3.45"/><circle cx="1061.0" cy="134.9" r="3.45"/><circle cx="1070.8" cy="133.2" r="3.45"/><circle cx="1080.5" cy="126.2" r="3.45"/><circle cx="1090.3" cy="122.4" r="3.45"/><circle cx="1100.1" cy="123.2" r="3.45"/><circle cx="1109.9" cy="122.9" r="3.45"/><circle cx="1119.7" cy="126.9" r="3.45"/><circle cx="1129.5" cy="134.4" r="3.45"/><circle cx="1139.3" cy="140.7" r="3.45"/></g>
<g fill="#E21D23"><circle cx="835.8" cy="318.0" r="3.45"/><circle cx="845.6" cy="317.2" r="3.45"/><circle cx="855.4" cy="315.2" r="3.45"/><circle cx="865.2" cy="311.0" r="3.45"/><circle cx="875.0" cy="306.7" r="3.45"/><circle cx="884.8" cy="304.0" r="3.45"/><circle cx="894.5" cy="301.7" r="3.45"/><circle cx="904.3" cy="300.2" r="3.45"/><circle cx="914.1" cy="298.5" r="3.45"/><circle cx="923.9" cy="297.2" r="3.45"/><circle cx="933.7" cy="296.0" r="3.45"/><circle cx="943.5" cy="294.7" r="3.45"/><circle cx="953.3" cy="294.2" r="3.45"/><circle cx="963.1" cy="294.7" r="3.45"/><circle cx="972.9" cy="297.2" r="3.45"/><circle cx="982.6" cy="299.2" r="3.45"/><circle cx="992.4" cy="301.0" r="3.45"/><circle cx="1002.2" cy="300.2" r="3.45"/><circle cx="1012.0" cy="300.2" r="3.45"/><circle cx="1021.8" cy="301.0" r="3.45"/><circle cx="1031.6" cy="299.7" r="3.45"/><circle cx="1041.4" cy="299.0" r="3.45"/><circle cx="1051.2" cy="298.5" r="3.45"/><circle cx="1061.0" cy="297.7" r="3.45"/><circle cx="1070.8" cy="296.0" r="3.45"/><circle cx="1080.5" cy="294.0" r="3.45"/><circle cx="1090.3" cy="292.2" r="3.45"/><circle cx="1100.1" cy="292.2" r="3.45"/><circle cx="1109.9" cy="292.2" r="3.45"/><circle cx="1119.7" cy="291.7" r="3.45"/><circle cx="1129.5" cy="294.0" r="3.45"/><circle cx="1139.3" cy="294.7" r="3.45"/></g>
<rect x="821.1" y="82.3" width="333.6" height="369.9" fill="none" stroke="#2a2a2a" stroke-width="1.4"/>
<line x1="816.7" y1="112.5" x2="821.1" y2="112.5" stroke="#222" stroke-width="1.5"/>
<text transform="translate(811.7 118.3) scale(1 1.09)" font-size="15" fill="#111" stroke="#111" stroke-width="0.25" text-anchor="end">3.0</text>
<line x1="816.7" y1="181.1" x2="821.1" y2="181.1" stroke="#222" stroke-width="1.5"/>
<text transform="translate(811.7 186.9) scale(1 1.09)" font-size="15" fill="#111" stroke="#111" stroke-width="0.25" text-anchor="end">2.5</text>
<line x1="816.7" y1="249.8" x2="821.1" y2="249.8" stroke="#222" stroke-width="1.5"/>
<text transform="translate(811.7 255.6) scale(1 1.09)" font-size="15" fill="#111" stroke="#111" stroke-width="0.25" text-anchor="end">2.0</text>
<line x1="816.7" y1="318.0" x2="821.1" y2="318.0" stroke="#222" stroke-width="1.5"/>
<text transform="translate(811.7 323.8) scale(1 1.09)" font-size="15" fill="#111" stroke="#111" stroke-width="0.25" text-anchor="end">1.5</text>
<line x1="816.7" y1="386.6" x2="821.1" y2="386.6" stroke="#222" stroke-width="1.5"/>
<text transform="translate(811.7 392.4) scale(1 1.09)" font-size="15" fill="#111" stroke="#111" stroke-width="0.25" text-anchor="end">1.0</text>
<rect x="1190.4" y="50.4" width="333.6" height="31.9" fill="#ECEADF" stroke="#2a2a2a" stroke-width="1.4"/>
<text x="1357.2" y="73.0" font-size="17.8" font-weight="bold" fill="#9C9262" text-anchor="middle">Male-ASPR per 100,000</text>
<rect x="1190.4" y="82.3" width="333.6" height="369.9" fill="#ffffff"/>
<line x1="1190.4" y1="409.7" x2="1524.0" y2="409.7" stroke="#EDEDED" stroke-width="0.8"/>
<line x1="1190.4" y1="313.5" x2="1524.0" y2="313.5" stroke="#EDEDED" stroke-width="0.8"/>
<line x1="1190.4" y1="217.2" x2="1524.0" y2="217.2" stroke="#EDEDED" stroke-width="0.8"/>
<line x1="1190.4" y1="121.0" x2="1524.0" y2="121.0" stroke="#EDEDED" stroke-width="0.8"/>
<line x1="1254.0" y1="82.3" x2="1254.0" y2="452.2" stroke="#EDEDED" stroke-width="0.8"/>
<line x1="1351.9" y1="82.3" x2="1351.9" y2="452.2" stroke="#EDEDED" stroke-width="0.8"/>
<line x1="1449.8" y1="82.3" x2="1449.8" y2="452.2" stroke="#EDEDED" stroke-width="0.8"/>
<line x1="1190.4" y1="361.6" x2="1524.0" y2="361.6" stroke="#E6E6E6" stroke-width="1.2"/>
<line x1="1190.4" y1="265.4" x2="1524.0" y2="265.4" stroke="#E6E6E6" stroke-width="1.2"/>
<line x1="1190.4" y1="169.1" x2="1524.0" y2="169.1" stroke="#E6E6E6" stroke-width="1.2"/>
<line x1="1205.1" y1="82.3" x2="1205.1" y2="452.2" stroke="#E6E6E6" stroke-width="1.2"/>
<line x1="1303.0" y1="82.3" x2="1303.0" y2="452.2" stroke="#E6E6E6" stroke-width="1.2"/>
<line x1="1400.9" y1="82.3" x2="1400.9" y2="452.2" stroke="#E6E6E6" stroke-width="1.2"/>
<line x1="1498.8" y1="82.3" x2="1498.8" y2="452.2" stroke="#E6E6E6" stroke-width="1.2"/>
<polyline points="1205.1,435.3 1214.9,434.9 1224.7,434.5 1234.5,434.1 1244.3,433.7 1254.0,433.3 1263.8,432.8 1273.6,432.3 1283.4,431.8 1293.2,431.3 1303.0,430.8 1312.8,430.4 1322.6,430.0 1332.4,429.6 1342.2,429.2 1351.9,428.8 1361.7,428.5 1371.5,428.1 1381.3,427.8 1391.1,427.4 1400.9,427.1 1410.7,426.3 1420.5,425.6 1430.3,424.8 1440.1,424.1 1449.8,423.3 1459.6,422.8 1469.4,422.2 1479.2,421.7 1489.0,421.2 1498.8,420.6 1508.6,420.1" fill="none" stroke="#F49D18" stroke-width="3.3" stroke-linejoin="round"/>
<polyline points="1205.1,328.9 1214.9,327.2 1224.7,325.2 1234.5,320.2 1244.3,314.7 1254.0,311.0 1263.8,307.7 1273.6,304.7 1283.4,303.5 1293.2,302.2 1303.0,301.5 1312.8,299.2 1322.6,296.0 1332.4,294.7 1342.2,295.2 1351.9,294.0 1361.7,293.5 1371.5,292.2 1381.3,291.0 1391.1,288.5 1400.9,287.2 1410.7,286.0 1420.5,286.5 1430.3,287.2 1440.1,288.5 1449.8,288.0 1459.6,287.2 1469.4,288.5 1479.2,290.2 1489.0,289.2 1498.8,291.7 1508.6,291.2" fill="none" stroke="#7041A3" stroke-width="3.3" stroke-linejoin="round"/>
<polyline points="1205.1,424.6 1214.9,423.7 1224.7,422.9 1234.5,422.1 1244.3,420.2 1254.0,418.3 1263.8,416.7 1273.6,415.0 1283.4,413.3 1293.2,411.8 1303.0,410.3 1312.8,409.3 1322.6,408.2 1332.4,407.1 1342.2,405.6 1351.9,404.1 1361.7,402.6 1371.5,401.1 1381.3,399.6 1391.1,398.1 1400.9,396.6 1410.7,395.5 1420.5,394.4 1430.3,393.4 1440.1,391.5 1449.8,389.6 1459.6,388.1 1469.4,386.6 1479.2,385.1 1489.0,383.5 1498.8,382.0 1508.6,380.4" fill="none" stroke="#62B42A" stroke-width="3.3" stroke-linejoin="round"/>
<polyline points="1205.1,271.0 1214.9,266.8 1224.7,259.8 1234.5,249.8 1244.3,236.8 1254.0,221.8 1263.8,211.6 1273.6,202.3 1283.4,193.1 1293.2,189.9 1303.0,182.4 1312.8,176.1 1322.6,169.4 1332.4,159.9 1342.2,150.7 1351.9,140.4 1361.7,129.9 1371.5,122.4 1381.3,118.2 1391.1,118.7 1400.9,114.5 1410.7,113.0 1420.5,111.0 1430.3,107.5 1440.1,108.0 1449.8,103.7 1459.6,99.5 1469.4,100.7 1479.2,102.5 1489.0,107.0 1498.8,119.5 1508.6,121.2" fill="none" stroke="#1A44A2" stroke-width="3.3" stroke-linejoin="round"/>
<polyline points="1205.1,374.6 1214.9,372.6 1224.7,370.9 1234.5,367.6 1244.3,363.9 1254.0,359.2 1263.8,355.4 1273.6,352.7 1283.4,350.4 1293.2,348.4 1303.0,346.7 1312.8,344.7 1322.6,342.7 1332.4,340.4 1342.2,338.4 1351.9,335.9 1361.7,333.4 1371.5,330.9 1381.3,328.9 1391.1,327.9 1400.9,326.7 1410.7,325.9 1420.5,325.2 1430.3,324.7 1440.1,323.9 1449.8,322.7 1459.6,321.7 1469.4,322.2 1479.2,322.2 1489.0,322.2 1498.8,324.7 1508.6,324.7" fill="none" stroke="#E21D23" stroke-width="3.3" stroke-linejoin="round"/>
<g fill="#F49D18"><circle cx="1205.1" cy="435.3" r="3.45"/><circle cx="1214.9" cy="434.9" r="3.45"/><circle cx="1224.7" cy="434.5" r="3.45"/><circle cx="1234.5" cy="434.1" r="3.45"/><circle cx="1244.3" cy="433.7" r="3.45"/><circle cx="1254.0" cy="433.3" r="3.45"/><circle cx="1263.8" cy="432.8" r="3.45"/><circle cx="1273.6" cy="432.3" r="3.45"/><circle cx="1283.4" cy="431.8" r="3.45"/><circle cx="1293.2" cy="431.3" r="3.45"/><circle cx="1303.0" cy="430.8" r="3.45"/><circle cx="1312.8" cy="430.4" r="3.45"/><circle cx="1322.6" cy="430.0" r="3.45"/><circle cx="1332.4" cy="429.6" r="3.45"/><circle cx="1342.2" cy="429.2" r="3.45"/><circle cx="1351.9" cy="428.8" r="3.45"/><circle cx="1361.7" cy="428.5" r="3.45"/><circle cx="1371.5" cy="428.1" r="3.45"/><circle cx="1381.3" cy="427.8" r="3.45"/><circle cx="1391.1" cy="427.4" r="3.45"/><circle cx="1400.9" cy="427.1" r="3.45"/><circle cx="1410.7" cy="426.3" r="3.45"/><circle cx="1420.5" cy="425.6" r="3.45"/><circle cx="1430.3" cy="424.8" r="3.45"/><circle cx="1440.1" cy="424.1" r="3.45"/><circle cx="1449.8" cy="423.3" r="3.45"/><circle cx="1459.6" cy="422.8" r="3.45"/><circle cx="1469.4" cy="422.2" r="3.45"/><circle cx="1479.2" cy="421.7" r="3.45"/><circle cx="1489.0" cy="421.2" r="3.45"/><circle cx="1498.8" cy="420.6" r="3.45"/><circle cx="1508.6" cy="420.1" r="3.45"/></g>
<g fill="#7041A3"><circle cx="1205.1" cy="328.9" r="3.45"/><circle cx="1214.9" cy="327.2" r="3.45"/><circle cx="1224.7" cy="325.2" r="3.45"/><circle cx="1234.5" cy="320.2" r="3.45"/><circle cx="1244.3" cy="314.7" r="3.45"/><circle cx="1254.0" cy="311.0" r="3.45"/><circle cx="1263.8" cy="307.7" r="3.45"/><circle cx="1273.6" cy="304.7" r="3.45"/><circle cx="1283.4" cy="303.5" r="3.45"/><circle cx="1293.2" cy="302.2" r="3.45"/><circle cx="1303.0" cy="301.5" r="3.45"/><circle cx="1312.8" cy="299.2" r="3.45"/><circle cx="1322.6" cy="296.0" r="3.45"/><circle cx="1332.4" cy="294.7" r="3.45"/><circle cx="1342.2" cy="295.2" r="3.45"/><circle cx="1351.9" cy="294.0" r="3.45"/><circle cx="1361.7" cy="293.5" r="3.45"/><circle cx="1371.5" cy="292.2" r="3.45"/><circle cx="1381.3" cy="291.0" r="3.45"/><circle cx="1391.1" cy="288.5" r="3.45"/><circle cx="1400.9" cy="287.2" r="3.45"/><circle cx="1410.7" cy="286.0" r="3.45"/><circle cx="1420.5" cy="286.5" r="3.45"/><circle cx="1430.3" cy="287.2" r="3.45"/><circle cx="1440.1" cy="288.5" r="3.45"/><circle cx="1449.8" cy="288.0" r="3.45"/><circle cx="1459.6" cy="287.2" r="3.45"/><circle cx="1469.4" cy="288.5" r="3.45"/><circle cx="1479.2" cy="290.2" r="3.45"/><circle cx="1489.0" cy="289.2" r="3.45"/><circle cx="1498.8" cy="291.7" r="3.45"/><circle cx="1508.6" cy="291.2" r="3.45"/></g>
<g fill="#62B42A"><circle cx="1205.1" cy="424.6" r="3.45"/><circle cx="1214.9" cy="423.7" r="3.45"/><circle cx="1224.7" cy="422.9" r="3.45"/><circle cx="1234.5" cy="422.1" r="3.45"/><circle cx="1244.3" cy="420.2" r="3.45"/><circle cx="1254.0" cy="418.3" r="3.45"/><circle cx="1263.8" cy="416.7" r="3.45"/><circle cx="1273.6" cy="415.0" r="3.45"/><circle cx="1283.4" cy="413.3" r="3.45"/><circle cx="1293.2" cy="411.8" r="3.45"/><circle cx="1303.0" cy="410.3" r="3.45"/><circle cx="1312.8" cy="409.3" r="3.45"/><circle cx="1322.6" cy="408.2" r="3.45"/><circle cx="1332.4" cy="407.1" r="3.45"/><circle cx="1342.2" cy="405.6" r="3.45"/><circle cx="1351.9" cy="404.1" r="3.45"/><circle cx="1361.7" cy="402.6" r="3.45"/><circle cx="1371.5" cy="401.1" r="3.45"/><circle cx="1381.3" cy="399.6" r="3.45"/><circle cx="1391.1" cy="398.1" r="3.45"/><circle cx="1400.9" cy="396.6" r="3.45"/><circle cx="1410.7" cy="395.5" r="3.45"/><circle cx="1420.5" cy="394.4" r="3.45"/><circle cx="1430.3" cy="393.4" r="3.45"/><circle cx="1440.1" cy="391.5" r="3.45"/><circle cx="1449.8" cy="389.6" r="3.45"/><circle cx="1459.6" cy="388.1" r="3.45"/><circle cx="1469.4" cy="386.6" r="3.45"/><circle cx="1479.2" cy="385.1" r="3.45"/><circle cx="1489.0" cy="383.5" r="3.45"/><circle cx="1498.8" cy="382.0" r="3.45"/><circle cx="1508.6" cy="380.4" r="3.45"/></g>
<g fill="#1A44A2"><circle cx="1205.1" cy="271.0" r="3.45"/><circle cx="1214.9" cy="266.8" r="3.45"/><circle cx="1224.7" cy="259.8" r="3.45"/><circle cx="1234.5" cy="249.8" r="3.45"/><circle cx="1244.3" cy="236.8" r="3.45"/><circle cx="1254.0" cy="221.8" r="3.45"/><circle cx="1263.8" cy="211.6" r="3.45"/><circle cx="1273.6" cy="202.3" r="3.45"/><circle cx="1283.4" cy="193.1" r="3.45"/><circle cx="1293.2" cy="189.9" r="3.45"/><circle cx="1303.0" cy="182.4" r="3.45"/><circle cx="1312.8" cy="176.1" r="3.45"/><circle cx="1322.6" cy="169.4" r="3.45"/><circle cx="1332.4" cy="159.9" r="3.45"/><circle cx="1342.2" cy="150.7" r="3.45"/><circle cx="1351.9" cy="140.4" r="3.45"/><circle cx="1361.7" cy="129.9" r="3.45"/><circle cx="1371.5" cy="122.4" r="3.45"/><circle cx="1381.3" cy="118.2" r="3.45"/><circle cx="1391.1" cy="118.7" r="3.45"/><circle cx="1400.9" cy="114.5" r="3.45"/><circle cx="1410.7" cy="113.0" r="3.45"/><circle cx="1420.5" cy="111.0" r="3.45"/><circle cx="1430.3" cy="107.5" r="3.45"/><circle cx="1440.1" cy="108.0" r="3.45"/><circle cx="1449.8" cy="103.7" r="3.45"/><circle cx="1459.6" cy="99.5" r="3.45"/><circle cx="1469.4" cy="100.7" r="3.45"/><circle cx="1479.2" cy="102.5" r="3.45"/><circle cx="1489.0" cy="107.0" r="3.45"/><circle cx="1498.8" cy="119.5" r="3.45"/><circle cx="1508.6" cy="121.2" r="3.45"/></g>
<g fill="#E21D23"><circle cx="1205.1" cy="374.6" r="3.45"/><circle cx="1214.9" cy="372.6" r="3.45"/><circle cx="1224.7" cy="370.9" r="3.45"/><circle cx="1234.5" cy="367.6" r="3.45"/><circle cx="1244.3" cy="363.9" r="3.45"/><circle cx="1254.0" cy="359.2" r="3.45"/><circle cx="1263.8" cy="355.4" r="3.45"/><circle cx="1273.6" cy="352.7" r="3.45"/><circle cx="1283.4" cy="350.4" r="3.45"/><circle cx="1293.2" cy="348.4" r="3.45"/><circle cx="1303.0" cy="346.7" r="3.45"/><circle cx="1312.8" cy="344.7" r="3.45"/><circle cx="1322.6" cy="342.7" r="3.45"/><circle cx="1332.4" cy="340.4" r="3.45"/><circle cx="1342.2" cy="338.4" r="3.45"/><circle cx="1351.9" cy="335.9" r="3.45"/><circle cx="1361.7" cy="333.4" r="3.45"/><circle cx="1371.5" cy="330.9" r="3.45"/><circle cx="1381.3" cy="328.9" r="3.45"/><circle cx="1391.1" cy="327.9" r="3.45"/><circle cx="1400.9" cy="326.7" r="3.45"/><circle cx="1410.7" cy="325.9" r="3.45"/><circle cx="1420.5" cy="325.2" r="3.45"/><circle cx="1430.3" cy="324.7" r="3.45"/><circle cx="1440.1" cy="323.9" r="3.45"/><circle cx="1449.8" cy="322.7" r="3.45"/><circle cx="1459.6" cy="321.7" r="3.45"/><circle cx="1469.4" cy="322.2" r="3.45"/><circle cx="1479.2" cy="322.2" r="3.45"/><circle cx="1489.0" cy="322.2" r="3.45"/><circle cx="1498.8" cy="324.7" r="3.45"/><circle cx="1508.6" cy="324.7" r="3.45"/></g>
<rect x="1190.4" y="82.3" width="333.6" height="369.9" fill="none" stroke="#2a2a2a" stroke-width="1.4"/>
<line x1="1186.0" y1="169.1" x2="1190.4" y2="169.1" stroke="#222" stroke-width="1.5"/>
<text transform="translate(1181.0 174.9) scale(1 1.09)" font-size="15" fill="#111" stroke="#111" stroke-width="0.25" text-anchor="end">12</text>
<line x1="1186.0" y1="265.5" x2="1190.4" y2="265.5" stroke="#222" stroke-width="1.5"/>
<text transform="translate(1181.0 271.3) scale(1 1.09)" font-size="15" fill="#111" stroke="#111" stroke-width="0.25" text-anchor="end">8</text>
<line x1="1186.0" y1="361.6" x2="1190.4" y2="361.6" stroke="#222" stroke-width="1.5"/>
<text transform="translate(1181.0 367.4) scale(1 1.09)" font-size="15" fill="#111" stroke="#111" stroke-width="0.25" text-anchor="end">4</text>
<rect x="82.3" y="460.2" width="333.6" height="31.9" fill="#FCEFE6" stroke="#2a2a2a" stroke-width="1.4"/>
<text x="249.1" y="482.8" font-size="17.8" font-weight="bold" fill="#DCAD46" text-anchor="middle">Female-ASDR per 100,000</text>
<rect x="82.3" y="492.1" width="333.6" height="369.9" fill="#ffffff"/>
<line x1="82.3" y1="812.9" x2="415.9" y2="812.9" stroke="#EDEDED" stroke-width="0.8"/>
<line x1="82.3" y1="726.2" x2="415.9" y2="726.2" stroke="#EDEDED" stroke-width="0.8"/>
<line x1="82.3" y1="639.5" x2="415.9" y2="639.5" stroke="#EDEDED" stroke-width="0.8"/>
<line x1="82.3" y1="552.9" x2="415.9" y2="552.9" stroke="#EDEDED" stroke-width="0.8"/>
<line x1="146.4" y1="492.1" x2="146.4" y2="862.0" stroke="#EDEDED" stroke-width="0.8"/>
<line x1="244.3" y1="492.1" x2="244.3" y2="862.0" stroke="#EDEDED" stroke-width="0.8"/>
<line x1="342.2" y1="492.1" x2="342.2" y2="862.0" stroke="#EDEDED" stroke-width="0.8"/>
<line x1="82.3" y1="856.3" x2="415.9" y2="856.3" stroke="#E6E6E6" stroke-width="1.2"/>
<line x1="82.3" y1="769.6" x2="415.9" y2="769.6" stroke="#E6E6E6" stroke-width="1.2"/>
<line x1="82.3" y1="682.9" x2="415.9" y2="682.9" stroke="#E6E6E6" stroke-width="1.2"/>
<line x1="82.3" y1="596.2" x2="415.9" y2="596.2" stroke="#E6E6E6" stroke-width="1.2"/>
<line x1="82.3" y1="509.5" x2="415.9" y2="509.5" stroke="#E6E6E6" stroke-width="1.2"/>
<line x1="97.5" y1="492.1" x2="97.5" y2="862.0" stroke="#E6E6E6" stroke-width="1.2"/>
<line x1="195.4" y1="492.1" x2="195.4" y2="862.0" stroke="#E6E6E6" stroke-width="1.2"/>
<line x1="293.3" y1="492.1" x2="293.3" y2="862.0" stroke="#E6E6E6" stroke-width="1.2"/>
<line x1="391.2" y1="492.1" x2="391.2" y2="862.0" stroke="#E6E6E6" stroke-width="1.2"/>
<polyline points="97.5,814.6 107.3,812.8 117.1,812.1 126.9,811.3 136.7,810.8 146.4,810.8 156.2,809.6 166.0,807.1 175.8,805.4 185.6,803.4 195.4,800.9 205.2,799.1 215.0,797.6 224.8,795.9 234.6,793.9 244.3,792.1 254.1,790.1 263.9,787.9 273.7,785.9 283.5,783.4 293.3,780.1 303.1,777.1 312.9,774.1 322.7,770.9 332.5,767.7 342.2,764.7 352.0,762.2 361.8,760.2 371.6,758.4 381.4,756.7 391.2,754.7 401.0,752.9" fill="none" stroke="#F49D18" stroke-width="3.3" stroke-linejoin="round"/>
<polyline points="97.5,527.5 107.3,522.5 117.1,520.0 126.9,514.2 136.7,513.0 146.4,510.5 156.2,512.5 166.0,513.7 175.8,511.7 185.6,508.7 195.4,510.5 205.2,517.0 215.0,519.5 224.8,526.2 234.6,535.7 244.3,539.9 254.1,550.7 263.9,558.7 273.7,567.4 283.5,571.6 293.3,569.9 303.1,570.4 312.9,569.4 322.7,573.6 332.5,576.1 342.2,580.4 352.0,584.1 361.8,588.1 371.6,590.6 381.4,593.1 391.2,596.6 401.0,596.1" fill="none" stroke="#7041A3" stroke-width="3.3" stroke-linejoin="round"/>
<polyline points="97.5,844.6 107.3,844.1 117.1,842.6 126.9,839.6 136.7,832.1 146.4,827.6 156.2,823.3 166.0,820.3 175.8,817.1 185.6,815.1 195.4,813.8 205.2,814.6 215.0,816.6 224.8,817.8 234.6,819.6 244.3,820.1 254.1,819.6 263.9,819.1 273.7,818.3 283.5,817.6 293.3,815.8 303.1,815.1 312.9,814.6 322.7,814.1 332.5,812.8 342.2,810.8 352.0,807.9 361.8,805.9 371.6,804.1 381.4,802.6 391.2,802.6 401.0,801.6" fill="none" stroke="#62B42A" stroke-width="3.3" stroke-linejoin="round"/>
<polyline points="97.5,623.1 107.3,617.3 117.1,615.3 126.9,607.4 136.7,602.4 146.4,597.4 156.2,598.6 166.0,598.6 175.8,591.1 185.6,589.4 195.4,586.6 205.2,588.1 215.0,586.9 224.8,584.9 234.6,588.6 244.3,591.9 254.1,594.4 263.9,596.1 273.7,597.4 283.5,597.9 293.3,596.6 303.1,594.9 312.9,596.1 322.7,598.1 332.5,596.9 342.2,592.4 352.0,591.1 361.8,593.1 371.6,593.6 381.4,594.9 391.2,604.4 401.0,602.4" fill="none" stroke="#1A44A2" stroke-width="3.3" stroke-linejoin="round"/>
<polyline points="97.5,727.2 107.3,725.2 117.1,724.0 126.9,719.7 136.7,716.0 146.4,712.2 156.2,711.0 166.0,709.7 175.8,707.2 185.6,705.2 195.4,704.7 205.2,707.2 215.0,709.0 224.8,711.0 234.6,714.2 244.3,717.2 254.1,719.7 263.9,721.7 273.7,723.5 283.5,724.0 293.3,723.5 303.1,723.0 312.9,723.5 322.7,724.2 332.5,724.2 342.2,723.5 352.0,722.7 361.8,723.5 371.6,723.5 381.4,724.0 391.2,726.0 401.0,726.0" fill="none" stroke="#E21D23" stroke-width="3.3" stroke-linejoin="round"/>
<g fill="#F49D18"><circle cx="97.5" cy="814.6" r="3.45"/><circle cx="107.3" cy="812.8" r="3.45"/><circle cx="117.1" cy="812.1" r="3.45"/><circle cx="126.9" cy="811.3" r="3.45"/><circle cx="136.7" cy="810.8" r="3.45"/><circle cx="146.4" cy="810.8" r="3.45"/><circle cx="156.2" cy="809.6" r="3.45"/><circle cx="166.0" cy="807.1" r="3.45"/><circle cx="175.8" cy="805.4" r="3.45"/><circle cx="185.6" cy="803.4" r="3.45"/><circle cx="195.4" cy="800.9" r="3.45"/><circle cx="205.2" cy="799.1" r="3.45"/><circle cx="215.0" cy="797.6" r="3.45"/><circle cx="224.8" cy="795.9" r="3.45"/><circle cx="234.6" cy="793.9" r="3.45"/><circle cx="244.3" cy="792.1" r="3.45"/><circle cx="254.1" cy="790.1" r="3.45"/><circle cx="263.9" cy="787.9" r="3.45"/><circle cx="273.7" cy="785.9" r="3.45"/><circle cx="283.5" cy="783.4" r="3.45"/><circle cx="293.3" cy="780.1" r="3.45"/><circle cx="303.1" cy="777.1" r="3.45"/><circle cx="312.9" cy="774.1" r="3.45"/><circle cx="322.7" cy="770.9" r="3.45"/><circle cx="332.5" cy="767.7" r="3.45"/><circle cx="342.2" cy="764.7" r="3.45"/><circle cx="352.0" cy="762.2" r="3.45"/><circle cx="361.8" cy="760.2" r="3.45"/><circle cx="371.6" cy="758.4" r="3.45"/><circle cx="381.4" cy="756.7" r="3.45"/><circle cx="391.2" cy="754.7" r="3.45"/><circle cx="401.0" cy="752.9" r="3.45"/></g>
<g fill="#7041A3"><circle cx="97.5" cy="527.5" r="3.45"/><circle cx="107.3" cy="522.5" r="3.45"/><circle cx="117.1" cy="520.0" r="3.45"/><circle cx="126.9" cy="514.2" r="3.45"/><circle cx="136.7" cy="513.0" r="3.45"/><circle cx="146.4" cy="510.5" r="3.45"/><circle cx="156.2" cy="512.5" r="3.45"/><circle cx="166.0" cy="513.7" r="3.45"/><circle cx="175.8" cy="511.7" r="3.45"/><circle cx="185.6" cy="508.7" r="3.45"/><circle cx="195.4" cy="510.5" r="3.45"/><circle cx="205.2" cy="517.0" r="3.45"/><circle cx="215.0" cy="519.5" r="3.45"/><circle cx="224.8" cy="526.2" r="3.45"/><circle cx="234.6" cy="535.7" r="3.45"/><circle cx="244.3" cy="539.9" r="3.45"/><circle cx="254.1" cy="550.7" r="3.45"/><circle cx="263.9" cy="558.7" r="3.45"/><circle cx="273.7" cy="567.4" r="3.45"/><circle cx="283.5" cy="571.6" r="3.45"/><circle cx="293.3" cy="569.9" r="3.45"/><circle cx="303.1" cy="570.4" r="3.45"/><circle cx="312.9" cy="569.4" r="3.45"/><circle cx="322.7" cy="573.6" r="3.45"/><circle cx="332.5" cy="576.1" r="3.45"/><circle cx="342.2" cy="580.4" r="3.45"/><circle cx="352.0" cy="584.1" r="3.45"/><circle cx="361.8" cy="588.1" r="3.45"/><circle cx="371.6" cy="590.6" r="3.45"/><circle cx="381.4" cy="593.1" r="3.45"/><circle cx="391.2" cy="596.6" r="3.45"/><circle cx="401.0" cy="596.1" r="3.45"/></g>
<g fill="#62B42A"><circle cx="97.5" cy="844.6" r="3.45"/><circle cx="107.3" cy="844.1" r="3.45"/><circle cx="117.1" cy="842.6" r="3.45"/><circle cx="126.9" cy="839.6" r="3.45"/><circle cx="136.7" cy="832.1" r="3.45"/><circle cx="146.4" cy="827.6" r="3.45"/><circle cx="156.2" cy="823.3" r="3.45"/><circle cx="166.0" cy="820.3" r="3.45"/><circle cx="175.8" cy="817.1" r="3.45"/><circle cx="185.6" cy="815.1" r="3.45"/><circle cx="195.4" cy="813.8" r="3.45"/><circle cx="205.2" cy="814.6" r="3.45"/><circle cx="215.0" cy="816.6" r="3.45"/><circle cx="224.8" cy="817.8" r="3.45"/><circle cx="234.6" cy="819.6" r="3.45"/><circle cx="244.3" cy="820.1" r="3.45"/><circle cx="254.1" cy="819.6" r="3.45"/><circle cx="263.9" cy="819.1" r="3.45"/><circle cx="273.7" cy="818.3" r="3.45"/><circle cx="283.5" cy="817.6" r="3.45"/><circle cx="293.3" cy="815.8" r="3.45"/><circle cx="303.1" cy="815.1" r="3.45"/><circle cx="312.9" cy="814.6" r="3.45"/><circle cx="322.7" cy="814.1" r="3.45"/><circle cx="332.5" cy="812.8" r="3.45"/><circle cx="342.2" cy="810.8" r="3.45"/><circle cx="352.0" cy="807.9" r="3.45"/><circle cx="361.8" cy="805.9" r="3.45"/><circle cx="371.6" cy="804.1" r="3.45"/><circle cx="381.4" cy="802.6" r="3.45"/><circle cx="391.2" cy="802.6" r="3.45"/><circle cx="401.0" cy="801.6" r="3.45"/></g>
<g fill="#1A44A2"><circle cx="97.5" cy="623.1" r="3.45"/><circle cx="107.3" cy="617.3" r="3.45"/><circle cx="117.1" cy="615.3" r="3.45"/><circle cx="126.9" cy="607.4" r="3.45"/><circle cx="136.7" cy="602.4" r="3.45"/><circle cx="146.4" cy="597.4" r="3.45"/><circle cx="156.2" cy="598.6" r="3.45"/><circle cx="166.0" cy="598.6" r="3.45"/><circle cx="175.8" cy="591.1" r="3.45"/><circle cx="185.6" cy="589.4" r="3.45"/><circle cx="195.4" cy="586.6" r="3.45"/><circle cx="205.2" cy="588.1" r="3.45"/><circle cx="215.0" cy="586.9" r="3.45"/><circle cx="224.8" cy="584.9" r="3.45"/><circle cx="234.6" cy="588.6" r="3.45"/><circle cx="244.3" cy="591.9" r="3.45"/><circle cx="254.1" cy="594.4" r="3.45"/><circle cx="263.9" cy="596.1" r="3.45"/><circle cx="273.7" cy="597.4" r="3.45"/><circle cx="283.5" cy="597.9" r="3.45"/><circle cx="293.3" cy="596.6" r="3.45"/><circle cx="303.1" cy="594.9" r="3.45"/><circle cx="312.9" cy="596.1" r="3.45"/><circle cx="322.7" cy="598.1" r="3.45"/><circle cx="332.5" cy="596.9" r="3.45"/><circle cx="342.2" cy="592.4" r="3.45"/><circle cx="352.0" cy="591.1" r="3.45"/><circle cx="361.8" cy="593.1" r="3.45"/><circle cx="371.6" cy="593.6" r="3.45"/><circle cx="381.4" cy="594.9" r="3.45"/><circle cx="391.2" cy="604.4" r="3.45"/><circle cx="401.0" cy="602.4" r="3.45"/></g>
<g fill="#E21D23"><circle cx="97.5" cy="727.2" r="3.45"/><circle cx="107.3" cy="725.2" r="3.45"/><circle cx="117.1" cy="724.0" r="3.45"/><circle cx="126.9" cy="719.7" r="3.45"/><circle cx="136.7" cy="716.0" r="3.45"/><circle cx="146.4" cy="712.2" r="3.45"/><circle cx="156.2" cy="711.0" r="3.45"/><circle cx="166.0" cy="709.7" r="3.45"/><circle cx="175.8" cy="707.2" r="3.45"/><circle cx="185.6" cy="705.2" r="3.45"/><circle cx="195.4" cy="704.7" r="3.45"/><circle cx="205.2" cy="707.2" r="3.45"/><circle cx="215.0" cy="709.0" r="3.45"/><circle cx="224.8" cy="711.0" r="3.45"/><circle cx="234.6" cy="714.2" r="3.45"/><circle cx="244.3" cy="717.2" r="3.45"/><circle cx="254.1" cy="719.7" r="3.45"/><circle cx="263.9" cy="721.7" r="3.45"/><circle cx="273.7" cy="723.5" r="3.45"/><circle cx="283.5" cy="724.0" r="3.45"/><circle cx="293.3" cy="723.5" r="3.45"/><circle cx="303.1" cy="723.0" r="3.45"/><circle cx="312.9" cy="723.5" r="3.45"/><circle cx="322.7" cy="724.2" r="3.45"/><circle cx="332.5" cy="724.2" r="3.45"/><circle cx="342.2" cy="723.5" r="3.45"/><circle cx="352.0" cy="722.7" r="3.45"/><circle cx="361.8" cy="723.5" r="3.45"/><circle cx="371.6" cy="723.5" r="3.45"/><circle cx="381.4" cy="724.0" r="3.45"/><circle cx="391.2" cy="726.0" r="3.45"/><circle cx="401.0" cy="726.0" r="3.45"/></g>
<rect x="82.3" y="492.1" width="333.6" height="369.9" fill="none" stroke="#2a2a2a" stroke-width="1.4"/>
<line x1="77.9" y1="509.5" x2="82.3" y2="509.5" stroke="#222" stroke-width="1.5"/>
<text transform="translate(72.9 515.3) scale(1 1.09)" font-size="15" fill="#111" stroke="#111" stroke-width="0.25" text-anchor="end">50</text>
<line x1="77.9" y1="596.1" x2="82.3" y2="596.1" stroke="#222" stroke-width="1.5"/>
<text transform="translate(72.9 601.9) scale(1 1.09)" font-size="15" fill="#111" stroke="#111" stroke-width="0.25" text-anchor="end">40</text>
<line x1="77.9" y1="682.8" x2="82.3" y2="682.8" stroke="#222" stroke-width="1.5"/>
<text transform="translate(72.9 688.6) scale(1 1.09)" font-size="15" fill="#111" stroke="#111" stroke-width="0.25" text-anchor="end">30</text>
<line x1="77.9" y1="769.7" x2="82.3" y2="769.7" stroke="#222" stroke-width="1.5"/>
<text transform="translate(72.9 775.5) scale(1 1.09)" font-size="15" fill="#111" stroke="#111" stroke-width="0.25" text-anchor="end">20</text>
<line x1="77.9" y1="856.3" x2="82.3" y2="856.3" stroke="#222" stroke-width="1.5"/>
<text transform="translate(72.9 862.1) scale(1 1.09)" font-size="15" fill="#111" stroke="#111" stroke-width="0.25" text-anchor="end">10</text>
<rect x="451.7" y="460.2" width="333.6" height="31.9" fill="#E6EDF8" stroke="#2a2a2a" stroke-width="1.4"/>
<text x="618.5" y="482.8" font-size="17.8" font-weight="bold" fill="#409BD0" text-anchor="middle">Female-ASIR per 100,000</text>
<rect x="451.7" y="492.1" width="333.6" height="369.9" fill="#ffffff"/>
<line x1="451.7" y1="815.2" x2="785.3" y2="815.2" stroke="#EDEDED" stroke-width="0.8"/>
<line x1="451.7" y1="740.5" x2="785.3" y2="740.5" stroke="#EDEDED" stroke-width="0.8"/>
<line x1="451.7" y1="665.8" x2="785.3" y2="665.8" stroke="#EDEDED" stroke-width="0.8"/>
<line x1="451.7" y1="591.1" x2="785.3" y2="591.1" stroke="#EDEDED" stroke-width="0.8"/>
<line x1="451.7" y1="516.3" x2="785.3" y2="516.3" stroke="#EDEDED" stroke-width="0.8"/>
<line x1="515.4" y1="492.1" x2="515.4" y2="862.0" stroke="#EDEDED" stroke-width="0.8"/>
<line x1="613.2" y1="492.1" x2="613.2" y2="862.0" stroke="#EDEDED" stroke-width="0.8"/>
<line x1="711.1" y1="492.1" x2="711.1" y2="862.0" stroke="#EDEDED" stroke-width="0.8"/>
<line x1="451.7" y1="852.6" x2="785.3" y2="852.6" stroke="#E6E6E6" stroke-width="1.2"/>
<line x1="451.7" y1="777.9" x2="785.3" y2="777.9" stroke="#E6E6E6" stroke-width="1.2"/>
<line x1="451.7" y1="703.2" x2="785.3" y2="703.2" stroke="#E6E6E6" stroke-width="1.2"/>
<line x1="451.7" y1="628.4" x2="785.3" y2="628.4" stroke="#E6E6E6" stroke-width="1.2"/>
<line x1="451.7" y1="553.7" x2="785.3" y2="553.7" stroke="#E6E6E6" stroke-width="1.2"/>
<line x1="466.4" y1="492.1" x2="466.4" y2="862.0" stroke="#E6E6E6" stroke-width="1.2"/>
<line x1="564.3" y1="492.1" x2="564.3" y2="862.0" stroke="#E6E6E6" stroke-width="1.2"/>
<line x1="662.2" y1="492.1" x2="662.2" y2="862.0" stroke="#E6E6E6" stroke-width="1.2"/>
<line x1="760.1" y1="492.1" x2="760.1" y2="862.0" stroke="#E6E6E6" stroke-width="1.2"/>
<polyline points="466.4,836.6 476.2,835.8 486.0,834.6 495.8,834.1 505.6,833.3 515.4,834.1 525.1,832.6 534.9,830.3 544.7,829.1 554.5,827.6 564.3,825.8 574.1,824.6 583.9,823.3 593.7,822.1 603.5,820.8 613.2,819.6 623.0,818.3 632.8,816.6 642.6,815.1 652.4,813.3 662.2,810.8 672.0,807.1 681.8,805.1 691.6,802.1 701.4,799.6 711.1,796.6 720.9,794.6 730.7,792.6 740.5,790.9 750.3,788.9 760.1,786.6 769.9,785.4" fill="none" stroke="#F49D18" stroke-width="3.3" stroke-linejoin="round"/>
<polyline points="466.4,601.6 476.2,596.9 486.0,592.4 495.8,586.1 505.6,583.6 515.4,581.1 525.1,579.1 534.9,576.9 544.7,572.4 554.5,566.2 564.3,564.9 574.1,568.2 583.9,568.7 593.7,572.4 603.5,579.4 613.2,582.4 623.0,588.6 632.8,593.6 642.6,597.9 652.4,597.9 662.2,593.6 672.0,592.9 681.8,592.4 691.6,596.9 701.4,599.4 711.1,603.6 720.9,605.4 730.7,609.4 740.5,612.3 750.3,614.3 760.1,618.6 769.9,617.8" fill="none" stroke="#7041A3" stroke-width="3.3" stroke-linejoin="round"/>
<polyline points="466.4,845.1 476.2,844.6 486.0,843.3 495.8,840.8 505.6,834.6 515.4,830.1 525.1,827.1 534.9,824.1 544.7,821.6 554.5,819.6 564.3,817.8 574.1,817.6 583.9,819.1 593.7,819.6 603.5,819.6 613.2,819.1 623.0,817.6 632.8,815.8 642.6,814.6 652.4,813.3 662.2,810.8 672.0,810.1 681.8,810.3 691.6,810.3 701.4,809.1 711.1,806.6 720.9,804.1 730.7,802.1 740.5,801.4 750.3,800.1 760.1,800.9 769.9,799.6" fill="none" stroke="#62B42A" stroke-width="3.3" stroke-linejoin="round"/>
<polyline points="466.4,610.3 476.2,604.1 486.0,599.9 495.8,588.6 505.6,578.1 515.4,567.4 525.1,563.2 534.9,558.7 544.7,546.9 554.5,543.7 564.3,537.9 574.1,536.2 583.9,533.2 593.7,528.2 603.5,527.5 613.2,525.7 623.0,523.0 632.8,520.7 642.6,520.7 652.4,521.2 662.2,518.2 672.0,515.7 681.8,516.2 691.6,517.5 701.4,516.2 711.1,512.5 720.9,508.7 730.7,513.7 740.5,515.0 750.3,515.7 760.1,527.0 769.9,526.2" fill="none" stroke="#1A44A2" stroke-width="3.3" stroke-linejoin="round"/>
<polyline points="466.4,732.7 476.2,730.2 486.0,728.5 495.8,724.2 505.6,718.5 515.4,714.2 525.1,711.7 534.9,709.0 544.7,705.2 554.5,703.0 564.3,701.7 574.1,702.2 583.9,702.7 593.7,703.5 603.5,704.7 613.2,705.5 623.0,706.0 632.8,706.7 642.6,706.7 652.4,706.7 662.2,706.0 672.0,705.2 681.8,706.7 691.6,707.7 701.4,708.0 711.1,707.2 720.9,706.7 730.7,708.5 740.5,709.2 750.3,709.7 760.1,713.5 769.9,713.5" fill="none" stroke="#E21D23" stroke-width="3.3" stroke-linejoin="round"/>
<g fill="#F49D18"><circle cx="466.4" cy="836.6" r="3.45"/><circle cx="476.2" cy="835.8" r="3.45"/><circle cx="486.0" cy="834.6" r="3.45"/><circle cx="495.8" cy="834.1" r="3.45"/><circle cx="505.6" cy="833.3" r="3.45"/><circle cx="515.4" cy="834.1" r="3.45"/><circle cx="525.1" cy="832.6" r="3.45"/><circle cx="534.9" cy="830.3" r="3.45"/><circle cx="544.7" cy="829.1" r="3.45"/><circle cx="554.5" cy="827.6" r="3.45"/><circle cx="564.3" cy="825.8" r="3.45"/><circle cx="574.1" cy="824.6" r="3.45"/><circle cx="583.9" cy="823.3" r="3.45"/><circle cx="593.7" cy="822.1" r="3.45"/><circle cx="603.5" cy="820.8" r="3.45"/><circle cx="613.2" cy="819.6" r="3.45"/><circle cx="623.0" cy="818.3" r="3.45"/><circle cx="632.8" cy="816.6" r="3.45"/><circle cx="642.6" cy="815.1" r="3.45"/><circle cx="652.4" cy="813.3" r="3.45"/><circle cx="662.2" cy="810.8" r="3.45"/><circle cx="672.0" cy="807.1" r="3.45"/><circle cx="681.8" cy="805.1" r="3.45"/><circle cx="691.6" cy="802.1" r="3.45"/><circle cx="701.4" cy="799.6" r="3.45"/><circle cx="711.1" cy="796.6" r="3.45"/><circle cx="720.9" cy="794.6" r="3.45"/><circle cx="730.7" cy="792.6" r="3.45"/><circle cx="740.5" cy="790.9" r="3.45"/><circle cx="750.3" cy="788.9" r="3.45"/><circle cx="760.1" cy="786.6" r="3.45"/><circle cx="769.9" cy="785.4" r="3.45"/></g>
<g fill="#7041A3"><circle cx="466.4" cy="601.6" r="3.45"/><circle cx="476.2" cy="596.9" r="3.45"/><circle cx="486.0" cy="592.4" r="3.45"/><circle cx="495.8" cy="586.1" r="3.45"/><circle cx="505.6" cy="583.6" r="3.45"/><circle cx="515.4" cy="581.1" r="3.45"/><circle cx="525.1" cy="579.1" r="3.45"/><circle cx="534.9" cy="576.9" r="3.45"/><circle cx="544.7" cy="572.4" r="3.45"/><circle cx="554.5" cy="566.2" r="3.45"/><circle cx="564.3" cy="564.9" r="3.45"/><circle cx="574.1" cy="568.2" r="3.45"/><circle cx="583.9" cy="568.7" r="3.45"/><circle cx="593.7" cy="572.4" r="3.45"/><circle cx="603.5" cy="579.4" r="3.45"/><circle cx="613.2" cy="582.4" r="3.45"/><circle cx="623.0" cy="588.6" r="3.45"/><circle cx="632.8" cy="593.6" r="3.45"/><circle cx="642.6" cy="597.9" r="3.45"/><circle cx="652.4" cy="597.9" r="3.45"/><circle cx="662.2" cy="593.6" r="3.45"/><circle cx="672.0" cy="592.9" r="3.45"/><circle cx="681.8" cy="592.4" r="3.45"/><circle cx="691.6" cy="596.9" r="3.45"/><circle cx="701.4" cy="599.4" r="3.45"/><circle cx="711.1" cy="603.6" r="3.45"/><circle cx="720.9" cy="605.4" r="3.45"/><circle cx="730.7" cy="609.4" r="3.45"/><circle cx="740.5" cy="612.3" r="3.45"/><circle cx="750.3" cy="614.3" r="3.45"/><circle cx="760.1" cy="618.6" r="3.45"/><circle cx="769.9" cy="617.8" r="3.45"/></g>
<g fill="#62B42A"><circle cx="466.4" cy="845.1" r="3.45"/><circle cx="476.2" cy="844.6" r="3.45"/><circle cx="486.0" cy="843.3" r="3.45"/><circle cx="495.8" cy="840.8" r="3.45"/><circle cx="505.6" cy="834.6" r="3.45"/><circle cx="515.4" cy="830.1" r="3.45"/><circle cx="525.1" cy="827.1" r="3.45"/><circle cx="534.9" cy="824.1" r="3.45"/><circle cx="544.7" cy="821.6" r="3.45"/><circle cx="554.5" cy="819.6" r="3.45"/><circle cx="564.3" cy="817.8" r="3.45"/><circle cx="574.1" cy="817.6" r="3.45"/><circle cx="583.9" cy="819.1" r="3.45"/><circle cx="593.7" cy="819.6" r="3.45"/><circle cx="603.5" cy="819.6" r="3.45"/><circle cx="613.2" cy="819.1" r="3.45"/><circle cx="623.0" cy="817.6" r="3.45"/><circle cx="632.8" cy="815.8" r="3.45"/><circle cx="642.6" cy="814.6" r="3.45"/><circle cx="652.4" cy="813.3" r="3.45"/><circle cx="662.2" cy="810.8" r="3.45"/><circle cx="672.0" cy="810.1" r="3.45"/><circle cx="681.8" cy="810.3" r="3.45"/><circle cx="691.6" cy="810.3" r="3.45"/><circle cx="701.4" cy="809.1" r="3.45"/><circle cx="711.1" cy="806.6" r="3.45"/><circle cx="720.9" cy="804.1" r="3.45"/><circle cx="730.7" cy="802.1" r="3.45"/><circle cx="740.5" cy="801.4" r="3.45"/><circle cx="750.3" cy="800.1" r="3.45"/><circle cx="760.1" cy="800.9" r="3.45"/><circle cx="769.9" cy="799.6" r="3.45"/></g>
<g fill="#1A44A2"><circle cx="466.4" cy="610.3" r="3.45"/><circle cx="476.2" cy="604.1" r="3.45"/><circle cx="486.0" cy="599.9" r="3.45"/><circle cx="495.8" cy="588.6" r="3.45"/><circle cx="505.6" cy="578.1" r="3.45"/><circle cx="515.4" cy="567.4" r="3.45"/><circle cx="525.1" cy="563.2" r="3.45"/><circle cx="534.9" cy="558.7" r="3.45"/><circle cx="544.7" cy="546.9" r="3.45"/><circle cx="554.5" cy="543.7" r="3.45"/><circle cx="564.3" cy="537.9" r="3.45"/><circle cx="574.1" cy="536.2" r="3.45"/><circle cx="583.9" cy="533.2" r="3.45"/><circle cx="593.7" cy="528.2" r="3.45"/><circle cx="603.5" cy="527.5" r="3.45"/><circle cx="613.2" cy="525.7" r="3.45"/><circle cx="623.0" cy="523.0" r="3.45"/><circle cx="632.8" cy="520.7" r="3.45"/><circle cx="642.6" cy="520.7" r="3.45"/><circle cx="652.4" cy="521.2" r="3.45"/><circle cx="662.2" cy="518.2" r="3.45"/><circle cx="672.0" cy="515.7" r="3.45"/><circle cx="681.8" cy="516.2" r="3.45"/><circle cx="691.6" cy="517.5" r="3.45"/><circle cx="701.4" cy="516.2" r="3.45"/><circle cx="711.1" cy="512.5" r="3.45"/><circle cx="720.9" cy="508.7" r="3.45"/><circle cx="730.7" cy="513.7" r="3.45"/><circle cx="740.5" cy="515.0" r="3.45"/><circle cx="750.3" cy="515.7" r="3.45"/><circle cx="760.1" cy="527.0" r="3.45"/><circle cx="769.9" cy="526.2" r="3.45"/></g>
<g fill="#E21D23"><circle cx="466.4" cy="732.7" r="3.45"/><circle cx="476.2" cy="730.2" r="3.45"/><circle cx="486.0" cy="728.5" r="3.45"/><circle cx="495.8" cy="724.2" r="3.45"/><circle cx="505.6" cy="718.5" r="3.45"/><circle cx="515.4" cy="714.2" r="3.45"/><circle cx="525.1" cy="711.7" r="3.45"/><circle cx="534.9" cy="709.0" r="3.45"/><circle cx="544.7" cy="705.2" r="3.45"/><circle cx="554.5" cy="703.0" r="3.45"/><circle cx="564.3" cy="701.7" r="3.45"/><circle cx="574.1" cy="702.2" r="3.45"/><circle cx="583.9" cy="702.7" r="3.45"/><circle cx="593.7" cy="703.5" r="3.45"/><circle cx="603.5" cy="704.7" r="3.45"/><circle cx="613.2" cy="705.5" r="3.45"/><circle cx="623.0" cy="706.0" r="3.45"/><circle cx="632.8" cy="706.7" r="3.45"/><circle cx="642.6" cy="706.7" r="3.45"/><circle cx="652.4" cy="706.7" r="3.45"/><circle cx="662.2" cy="706.0" r="3.45"/><circle cx="672.0" cy="705.2" r="3.45"/><circle cx="681.8" cy="706.7" r="3.45"/><circle cx="691.6" cy="707.7" r="3.45"/><circle cx="701.4" cy="708.0" r="3.45"/><circle cx="711.1" cy="707.2" r="3.45"/><circle cx="720.9" cy="706.7" r="3.45"/><circle cx="730.7" cy="708.5" r="3.45"/><circle cx="740.5" cy="709.2" r="3.45"/><circle cx="750.3" cy="709.7" r="3.45"/><circle cx="760.1" cy="713.5" r="3.45"/><circle cx="769.9" cy="713.5" r="3.45"/></g>
<rect x="451.7" y="492.1" width="333.6" height="369.9" fill="none" stroke="#2a2a2a" stroke-width="1.4"/>
<line x1="447.3" y1="553.7" x2="451.7" y2="553.7" stroke="#222" stroke-width="1.5"/>
<text transform="translate(442.3 559.5) scale(1 1.09)" font-size="15" fill="#111" stroke="#111" stroke-width="0.25" text-anchor="end">2.5</text>
<line x1="447.3" y1="628.6" x2="451.7" y2="628.6" stroke="#222" stroke-width="1.5"/>
<text transform="translate(442.3 634.4) scale(1 1.09)" font-size="15" fill="#111" stroke="#111" stroke-width="0.25" text-anchor="end">2.0</text>
<line x1="447.3" y1="703.5" x2="451.7" y2="703.5" stroke="#222" stroke-width="1.5"/>
<text transform="translate(442.3 709.3) scale(1 1.09)" font-size="15" fill="#111" stroke="#111" stroke-width="0.25" text-anchor="end">1.5</text>
<line x1="447.3" y1="777.9" x2="451.7" y2="777.9" stroke="#222" stroke-width="1.5"/>
<text transform="translate(442.3 783.7) scale(1 1.09)" font-size="15" fill="#111" stroke="#111" stroke-width="0.25" text-anchor="end">1.0</text>
<line x1="447.3" y1="852.6" x2="451.7" y2="852.6" stroke="#222" stroke-width="1.5"/>
<text transform="translate(442.3 858.4) scale(1 1.09)" font-size="15" fill="#111" stroke="#111" stroke-width="0.25" text-anchor="end">0.5</text>
<rect x="821.1" y="460.2" width="333.6" height="31.9" fill="#ECEADF" stroke="#2a2a2a" stroke-width="1.4"/>
<text x="987.9" y="482.8" font-size="17.8" font-weight="bold" fill="#9C9262" text-anchor="middle">Female-ASMR per 100,000</text>
<rect x="821.1" y="492.1" width="333.6" height="369.9" fill="#ffffff"/>
<line x1="821.1" y1="795.6" x2="1154.7" y2="795.6" stroke="#EDEDED" stroke-width="0.8"/>
<line x1="821.1" y1="701.3" x2="1154.7" y2="701.3" stroke="#EDEDED" stroke-width="0.8"/>
<line x1="821.1" y1="607.0" x2="1154.7" y2="607.0" stroke="#EDEDED" stroke-width="0.8"/>
<line x1="821.1" y1="512.8" x2="1154.7" y2="512.8" stroke="#EDEDED" stroke-width="0.8"/>
<line x1="884.8" y1="492.1" x2="884.8" y2="862.0" stroke="#EDEDED" stroke-width="0.8"/>
<line x1="982.6" y1="492.1" x2="982.6" y2="862.0" stroke="#EDEDED" stroke-width="0.8"/>
<line x1="1080.5" y1="492.1" x2="1080.5" y2="862.0" stroke="#EDEDED" stroke-width="0.8"/>
<line x1="821.1" y1="842.8" x2="1154.7" y2="842.8" stroke="#E6E6E6" stroke-width="1.2"/>
<line x1="821.1" y1="748.5" x2="1154.7" y2="748.5" stroke="#E6E6E6" stroke-width="1.2"/>
<line x1="821.1" y1="654.2" x2="1154.7" y2="654.2" stroke="#E6E6E6" stroke-width="1.2"/>
<line x1="821.1" y1="559.9" x2="1154.7" y2="559.9" stroke="#E6E6E6" stroke-width="1.2"/>
<line x1="835.8" y1="492.1" x2="835.8" y2="862.0" stroke="#E6E6E6" stroke-width="1.2"/>
<line x1="933.7" y1="492.1" x2="933.7" y2="862.0" stroke="#E6E6E6" stroke-width="1.2"/>
<line x1="1031.6" y1="492.1" x2="1031.6" y2="862.0" stroke="#E6E6E6" stroke-width="1.2"/>
<line x1="1129.5" y1="492.1" x2="1129.5" y2="862.0" stroke="#E6E6E6" stroke-width="1.2"/>
<polyline points="835.8,820.1 845.6,818.8 855.4,817.6 865.2,816.6 875.0,815.8 884.8,815.3 894.5,814.1 904.3,812.1 914.1,810.3 923.9,808.4 933.7,806.6 943.5,805.1 953.3,803.4 963.1,801.6 972.9,800.4 982.6,798.9 992.4,797.1 1002.2,795.9 1012.0,792.9 1021.8,789.6 1031.6,787.1 1041.4,784.6 1051.2,782.1 1061.0,779.6 1070.8,776.6 1080.5,773.4 1090.3,770.9 1100.1,768.9 1109.9,767.2 1119.7,765.4 1129.5,764.2 1139.3,762.7" fill="none" stroke="#F49D18" stroke-width="3.3" stroke-linejoin="round"/>
<polyline points="835.8,533.7 845.6,528.2 855.4,525.0 865.2,518.7 875.0,519.2 884.8,516.7 894.5,519.5 904.3,519.2 914.1,515.7 923.9,508.7 933.7,508.7 943.5,515.0 953.3,517.0 963.1,523.2 972.9,532.9 982.6,538.2 992.4,548.7 1002.2,556.9 1012.0,564.4 1021.8,567.4 1031.6,564.4 1041.4,564.2 1051.2,562.4 1061.0,566.9 1070.8,568.7 1080.5,573.1 1090.3,576.1 1100.1,579.9 1109.9,582.9 1119.7,586.1 1129.5,589.9 1139.3,590.6" fill="none" stroke="#7041A3" stroke-width="3.3" stroke-linejoin="round"/>
<polyline points="835.8,844.6 845.6,844.1 855.4,842.8 865.2,839.6 875.0,832.1 884.8,827.6 894.5,823.8 904.3,820.8 914.1,817.6 923.9,815.8 933.7,814.6 943.5,815.3 953.3,817.1 963.1,817.8 972.9,819.1 982.6,819.1 992.4,818.3 1002.2,817.8 1012.0,817.1 1021.8,817.1 1031.6,815.8 1041.4,815.1 1051.2,815.1 1061.0,815.1 1070.8,814.6 1080.5,812.1 1090.3,809.6 1100.1,808.4 1109.9,806.6 1119.7,805.1 1129.5,805.9 1139.3,805.1" fill="none" stroke="#62B42A" stroke-width="3.3" stroke-linejoin="round"/>
<polyline points="835.8,630.6 845.6,625.6 855.4,623.1 865.2,616.1 875.0,609.9 884.8,604.1 894.5,604.9 904.3,603.6 914.1,594.9 923.9,592.4 933.7,588.6 943.5,588.6 953.3,587.4 963.1,585.6 972.9,589.1 982.6,594.1 992.4,595.6 1002.2,596.1 1012.0,596.9 1021.8,595.4 1031.6,593.1 1041.4,591.9 1051.2,591.9 1061.0,592.9 1070.8,590.6 1080.5,584.9 1090.3,582.4 1100.1,584.9 1109.9,586.1 1119.7,587.9 1129.5,593.6 1139.3,594.9" fill="none" stroke="#1A44A2" stroke-width="3.3" stroke-linejoin="round"/>
<polyline points="835.8,721.7 845.6,719.2 855.4,717.7 865.2,714.0 875.0,709.7 884.8,706.5 894.5,705.5 904.3,704.2 914.1,700.2 923.9,697.7 933.7,696.7 943.5,698.5 953.3,700.5 963.1,702.7 972.9,706.7 982.6,709.7 992.4,711.7 1002.2,714.0 1012.0,715.2 1021.8,716.0 1031.6,714.7 1041.4,714.7 1051.2,715.5 1061.0,716.0 1070.8,716.0 1080.5,714.7 1090.3,714.2 1100.1,715.5 1109.9,716.5 1119.7,717.7 1129.5,721.0 1139.3,721.0" fill="none" stroke="#E21D23" stroke-width="3.3" stroke-linejoin="round"/>
<g fill="#F49D18"><circle cx="835.8" cy="820.1" r="3.45"/><circle cx="845.6" cy="818.8" r="3.45"/><circle cx="855.4" cy="817.6" r="3.45"/><circle cx="865.2" cy="816.6" r="3.45"/><circle cx="875.0" cy="815.8" r="3.45"/><circle cx="884.8" cy="815.3" r="3.45"/><circle cx="894.5" cy="814.1" r="3.45"/><circle cx="904.3" cy="812.1" r="3.45"/><circle cx="914.1" cy="810.3" r="3.45"/><circle cx="923.9" cy="808.4" r="3.45"/><circle cx="933.7" cy="806.6" r="3.45"/><circle cx="943.5" cy="805.1" r="3.45"/><circle cx="953.3" cy="803.4" r="3.45"/><circle cx="963.1" cy="801.6" r="3.45"/><circle cx="972.9" cy="800.4" r="3.45"/><circle cx="982.6" cy="798.9" r="3.45"/><circle cx="992.4" cy="797.1" r="3.45"/><circle cx="1002.2" cy="795.9" r="3.45"/><circle cx="1012.0" cy="792.9" r="3.45"/><circle cx="1021.8" cy="789.6" r="3.45"/><circle cx="1031.6" cy="787.1" r="3.45"/><circle cx="1041.4" cy="784.6" r="3.45"/><circle cx="1051.2" cy="782.1" r="3.45"/><circle cx="1061.0" cy="779.6" r="3.45"/><circle cx="1070.8" cy="776.6" r="3.45"/><circle cx="1080.5" cy="773.4" r="3.45"/><circle cx="1090.3" cy="770.9" r="3.45"/><circle cx="1100.1" cy="768.9" r="3.45"/><circle cx="1109.9" cy="767.2" r="3.45"/><circle cx="1119.7" cy="765.4" r="3.45"/><circle cx="1129.5" cy="764.2" r="3.45"/><circle cx="1139.3" cy="762.7" r="3.45"/></g>
<g fill="#7041A3"><circle cx="835.8" cy="533.7" r="3.45"/><circle cx="845.6" cy="528.2" r="3.45"/><circle cx="855.4" cy="525.0" r="3.45"/><circle cx="865.2" cy="518.7" r="3.45"/><circle cx="875.0" cy="519.2" r="3.45"/><circle cx="884.8" cy="516.7" r="3.45"/><circle cx="894.5" cy="519.5" r="3.45"/><circle cx="904.3" cy="519.2" r="3.45"/><circle cx="914.1" cy="515.7" r="3.45"/><circle cx="923.9" cy="508.7" r="3.45"/><circle cx="933.7" cy="508.7" r="3.45"/><circle cx="943.5" cy="515.0" r="3.45"/><circle cx="953.3" cy="517.0" r="3.45"/><circle cx="963.1" cy="523.2" r="3.45"/><circle cx="972.9" cy="532.9" r="3.45"/><circle cx="982.6" cy="538.2" r="3.45"/><circle cx="992.4" cy="548.7" r="3.45"/><circle cx="1002.2" cy="556.9" r="3.45"/><circle cx="1012.0" cy="564.4" r="3.45"/><circle cx="1021.8" cy="567.4" r="3.45"/><circle cx="1031.6" cy="564.4" r="3.45"/><circle cx="1041.4" cy="564.2" r="3.45"/><circle cx="1051.2" cy="562.4" r="3.45"/><circle cx="1061.0" cy="566.9" r="3.45"/><circle cx="1070.8" cy="568.7" r="3.45"/><circle cx="1080.5" cy="573.1" r="3.45"/><circle cx="1090.3" cy="576.1" r="3.45"/><circle cx="1100.1" cy="579.9" r="3.45"/><circle cx="1109.9" cy="582.9" r="3.45"/><circle cx="1119.7" cy="586.1" r="3.45"/><circle cx="1129.5" cy="589.9" r="3.45"/><circle cx="1139.3" cy="590.6" r="3.45"/></g>
<g fill="#62B42A"><circle cx="835.8" cy="844.6" r="3.45"/><circle cx="845.6" cy="844.1" r="3.45"/><circle cx="855.4" cy="842.8" r="3.45"/><circle cx="865.2" cy="839.6" r="3.45"/><circle cx="875.0" cy="832.1" r="3.45"/><circle cx="884.8" cy="827.6" r="3.45"/><circle cx="894.5" cy="823.8" r="3.45"/><circle cx="904.3" cy="820.8" r="3.45"/><circle cx="914.1" cy="817.6" r="3.45"/><circle cx="923.9" cy="815.8" r="3.45"/><circle cx="933.7" cy="814.6" r="3.45"/><circle cx="943.5" cy="815.3" r="3.45"/><circle cx="953.3" cy="817.1" r="3.45"/><circle cx="963.1" cy="817.8" r="3.45"/><circle cx="972.9" cy="819.1" r="3.45"/><circle cx="982.6" cy="819.1" r="3.45"/><circle cx="992.4" cy="818.3" r="3.45"/><circle cx="1002.2" cy="817.8" r="3.45"/><circle cx="1012.0" cy="817.1" r="3.45"/><circle cx="1021.8" cy="817.1" r="3.45"/><circle cx="1031.6" cy="815.8" r="3.45"/><circle cx="1041.4" cy="815.1" r="3.45"/><circle cx="1051.2" cy="815.1" r="3.45"/><circle cx="1061.0" cy="815.1" r="3.45"/><circle cx="1070.8" cy="814.6" r="3.45"/><circle cx="1080.5" cy="812.1" r="3.45"/><circle cx="1090.3" cy="809.6" r="3.45"/><circle cx="1100.1" cy="808.4" r="3.45"/><circle cx="1109.9" cy="806.6" r="3.45"/><circle cx="1119.7" cy="805.1" r="3.45"/><circle cx="1129.5" cy="805.9" r="3.45"/><circle cx="1139.3" cy="805.1" r="3.45"/></g>
<g fill="#1A44A2"><circle cx="835.8" cy="630.6" r="3.45"/><circle cx="845.6" cy="625.6" r="3.45"/><circle cx="855.4" cy="623.1" r="3.45"/><circle cx="865.2" cy="616.1" r="3.45"/><circle cx="875.0" cy="609.9" r="3.45"/><circle cx="884.8" cy="604.1" r="3.45"/><circle cx="894.5" cy="604.9" r="3.45"/><circle cx="904.3" cy="603.6" r="3.45"/><circle cx="914.1" cy="594.9" r="3.45"/><circle cx="923.9" cy="592.4" r="3.45"/><circle cx="933.7" cy="588.6" r="3.45"/><circle cx="943.5" cy="588.6" r="3.45"/><circle cx="953.3" cy="587.4" r="3.45"/><circle cx="963.1" cy="585.6" r="3.45"/><circle cx="972.9" cy="589.1" r="3.45"/><circle cx="982.6" cy="594.1" r="3.45"/><circle cx="992.4" cy="595.6" r="3.45"/><circle cx="1002.2" cy="596.1" r="3.45"/><circle cx="1012.0" cy="596.9" r="3.45"/><circle cx="1021.8" cy="595.4" r="3.45"/><circle cx="1031.6" cy="593.1" r="3.45"/><circle cx="1041.4" cy="591.9" r="3.45"/><circle cx="1051.2" cy="591.9" r="3.45"/><circle cx="1061.0" cy="592.9" r="3.45"/><circle cx="1070.8" cy="590.6" r="3.45"/><circle cx="1080.5" cy="584.9" r="3.45"/><circle cx="1090.3" cy="582.4" r="3.45"/><circle cx="1100.1" cy="584.9" r="3.45"/><circle cx="1109.9" cy="586.1" r="3.45"/><circle cx="1119.7" cy="587.9" r="3.45"/><circle cx="1129.5" cy="593.6" r="3.45"/><circle cx="1139.3" cy="594.9" r="3.45"/></g>
<g fill="#E21D23"><circle cx="835.8" cy="721.7" r="3.45"/><circle cx="845.6" cy="719.2" r="3.45"/><circle cx="855.4" cy="717.7" r="3.45"/><circle cx="865.2" cy="714.0" r="3.45"/><circle cx="875.0" cy="709.7" r="3.45"/><circle cx="884.8" cy="706.5" r="3.45"/><circle cx="894.5" cy="705.5" r="3.45"/><circle cx="904.3" cy="704.2" r="3.45"/><circle cx="914.1" cy="700.2" r="3.45"/><circle cx="923.9" cy="697.7" r="3.45"/><circle cx="933.7" cy="696.7" r="3.45"/><circle cx="943.5" cy="698.5" r="3.45"/><circle cx="953.3" cy="700.5" r="3.45"/><circle cx="963.1" cy="702.7" r="3.45"/><circle cx="972.9" cy="706.7" r="3.45"/><circle cx="982.6" cy="709.7" r="3.45"/><circle cx="992.4" cy="711.7" r="3.45"/><circle cx="1002.2" cy="714.0" r="3.45"/><circle cx="1012.0" cy="715.2" r="3.45"/><circle cx="1021.8" cy="716.0" r="3.45"/><circle cx="1031.6" cy="714.7" r="3.45"/><circle cx="1041.4" cy="714.7" r="3.45"/><circle cx="1051.2" cy="715.5" r="3.45"/><circle cx="1061.0" cy="716.0" r="3.45"/><circle cx="1070.8" cy="716.0" r="3.45"/><circle cx="1080.5" cy="714.7" r="3.45"/><circle cx="1090.3" cy="714.2" r="3.45"/><circle cx="1100.1" cy="715.5" r="3.45"/><circle cx="1109.9" cy="716.5" r="3.45"/><circle cx="1119.7" cy="717.7" r="3.45"/><circle cx="1129.5" cy="721.0" r="3.45"/><circle cx="1139.3" cy="721.0" r="3.45"/></g>
<rect x="821.1" y="492.1" width="333.6" height="369.9" fill="none" stroke="#2a2a2a" stroke-width="1.4"/>
<line x1="816.7" y1="559.9" x2="821.1" y2="559.9" stroke="#222" stroke-width="1.5"/>
<text transform="translate(811.7 565.7) scale(1 1.09)" font-size="15" fill="#111" stroke="#111" stroke-width="0.25" text-anchor="end">2.0</text>
<line x1="816.7" y1="654.0" x2="821.1" y2="654.0" stroke="#222" stroke-width="1.5"/>
<text transform="translate(811.7 659.8) scale(1 1.09)" font-size="15" fill="#111" stroke="#111" stroke-width="0.25" text-anchor="end">1.5</text>
<line x1="816.7" y1="748.4" x2="821.1" y2="748.4" stroke="#222" stroke-width="1.5"/>
<text transform="translate(811.7 754.2) scale(1 1.09)" font-size="15" fill="#111" stroke="#111" stroke-width="0.25" text-anchor="end">1.0</text>
<line x1="816.7" y1="842.8" x2="821.1" y2="842.8" stroke="#222" stroke-width="1.5"/>
<text transform="translate(811.7 848.6) scale(1 1.09)" font-size="15" fill="#111" stroke="#111" stroke-width="0.25" text-anchor="end">0.5</text>
<rect x="1190.4" y="460.2" width="333.6" height="31.9" fill="#FCEFE6" stroke="#2a2a2a" stroke-width="1.4"/>
<text x="1357.2" y="482.8" font-size="17.8" font-weight="bold" fill="#DCAD46" text-anchor="middle">Female-ASPR per 100,000</text>
<rect x="1190.4" y="492.1" width="333.6" height="369.9" fill="#ffffff"/>
<line x1="1190.4" y1="831.4" x2="1524.0" y2="831.4" stroke="#EDEDED" stroke-width="0.8"/>
<line x1="1190.4" y1="731.5" x2="1524.0" y2="731.5" stroke="#EDEDED" stroke-width="0.8"/>
<line x1="1190.4" y1="631.5" x2="1524.0" y2="631.5" stroke="#EDEDED" stroke-width="0.8"/>
<line x1="1190.4" y1="531.7" x2="1524.0" y2="531.7" stroke="#EDEDED" stroke-width="0.8"/>
<line x1="1254.0" y1="492.1" x2="1254.0" y2="862.0" stroke="#EDEDED" stroke-width="0.8"/>
<line x1="1351.9" y1="492.1" x2="1351.9" y2="862.0" stroke="#EDEDED" stroke-width="0.8"/>
<line x1="1449.8" y1="492.1" x2="1449.8" y2="862.0" stroke="#EDEDED" stroke-width="0.8"/>
<line x1="1190.4" y1="781.4" x2="1524.0" y2="781.4" stroke="#E6E6E6" stroke-width="1.2"/>
<line x1="1190.4" y1="681.5" x2="1524.0" y2="681.5" stroke="#E6E6E6" stroke-width="1.2"/>
<line x1="1190.4" y1="581.6" x2="1524.0" y2="581.6" stroke="#E6E6E6" stroke-width="1.2"/>
<line x1="1205.1" y1="492.1" x2="1205.1" y2="862.0" stroke="#E6E6E6" stroke-width="1.2"/>
<line x1="1303.0" y1="492.1" x2="1303.0" y2="862.0" stroke="#E6E6E6" stroke-width="1.2"/>
<line x1="1400.9" y1="492.1" x2="1400.9" y2="862.0" stroke="#E6E6E6" stroke-width="1.2"/>
<line x1="1498.8" y1="492.1" x2="1498.8" y2="862.0" stroke="#E6E6E6" stroke-width="1.2"/>
<polyline points="1205.1,845.1 1214.9,844.6 1224.7,844.2 1234.5,843.7 1244.3,843.3 1254.0,842.8 1263.8,842.4 1273.6,842.0 1283.4,841.6 1293.2,841.2 1303.0,840.8 1312.8,840.1 1322.6,839.3 1332.4,838.6 1342.2,837.8 1351.9,837.1 1361.7,836.2 1371.5,835.4 1381.3,834.6 1391.1,833.3 1400.9,832.1 1410.7,830.8 1420.5,829.6 1430.3,828.3 1440.1,827.1 1449.8,825.8 1459.6,824.6 1469.4,823.3 1479.2,822.1 1489.0,820.2 1498.8,818.3 1508.6,816.3" fill="none" stroke="#F49D18" stroke-width="3.3" stroke-linejoin="round"/>
<polyline points="1205.1,728.5 1214.9,724.7 1224.7,721.0 1234.5,716.7 1244.3,712.2 1254.0,708.5 1263.8,704.2 1273.6,700.5 1283.4,696.0 1293.2,693.5 1303.0,691.0 1312.8,691.5 1322.6,689.0 1332.4,689.0 1342.2,691.0 1351.9,689.8 1361.7,690.5 1371.5,691.0 1381.3,689.8 1391.1,687.8 1400.9,684.3 1410.7,683.5 1420.5,684.8 1430.3,687.3 1440.1,689.0 1449.8,692.2 1459.6,693.5 1469.4,695.5 1479.2,696.7 1489.0,697.2 1498.8,699.7 1508.6,698.5" fill="none" stroke="#7041A3" stroke-width="3.3" stroke-linejoin="round"/>
<polyline points="1205.1,835.8 1214.9,835.8 1224.7,835.1 1234.5,833.3 1244.3,830.3 1254.0,828.3 1263.8,825.8 1273.6,823.8 1283.4,822.1 1293.2,820.8 1303.0,820.1 1312.8,819.6 1322.6,819.1 1332.4,817.8 1342.2,815.8 1351.9,813.8 1361.7,811.3 1371.5,809.1 1381.3,807.1 1391.1,805.9 1400.9,804.1 1410.7,803.4 1420.5,802.6 1430.3,801.4 1440.1,800.1 1449.8,799.1 1459.6,798.4 1469.4,798.4 1479.2,797.9 1489.0,797.9 1498.8,797.6 1508.6,797.1" fill="none" stroke="#62B42A" stroke-width="3.3" stroke-linejoin="round"/>
<polyline points="1205.1,652.3 1214.9,645.3 1224.7,640.6 1234.5,628.6 1244.3,617.3 1254.0,601.9 1263.8,592.4 1273.6,584.9 1283.4,572.4 1293.2,568.7 1303.0,562.4 1312.8,557.4 1322.6,551.9 1332.4,543.7 1342.2,537.4 1351.9,527.0 1361.7,518.7 1371.5,513.0 1381.3,513.2 1391.1,514.5 1400.9,511.2 1410.7,509.2 1420.5,511.2 1430.3,513.2 1440.1,513.7 1449.8,511.7 1459.6,508.7 1469.4,514.2 1479.2,516.2 1489.0,517.5 1498.8,530.4 1508.6,528.7" fill="none" stroke="#1A44A2" stroke-width="3.3" stroke-linejoin="round"/>
<polyline points="1205.1,767.2 1214.9,765.4 1224.7,763.4 1234.5,759.7 1244.3,755.2 1254.0,750.2 1263.8,746.4 1273.6,743.4 1283.4,740.4 1293.2,738.4 1303.0,737.2 1312.8,735.9 1322.6,734.7 1332.4,733.4 1342.2,731.4 1351.9,729.0 1361.7,726.7 1371.5,725.2 1381.3,724.2 1391.1,724.2 1400.9,723.5 1410.7,723.5 1420.5,724.7 1430.3,725.5 1440.1,726.0 1449.8,726.0 1459.6,726.0 1469.4,728.5 1479.2,729.0 1489.0,730.2 1498.8,732.9 1508.6,732.9" fill="none" stroke="#E21D23" stroke-width="3.3" stroke-linejoin="round"/>
<g fill="#F49D18"><circle cx="1205.1" cy="845.1" r="3.45"/><circle cx="1214.9" cy="844.6" r="3.45"/><circle cx="1224.7" cy="844.2" r="3.45"/><circle cx="1234.5" cy="843.7" r="3.45"/><circle cx="1244.3" cy="843.3" r="3.45"/><circle cx="1254.0" cy="842.8" r="3.45"/><circle cx="1263.8" cy="842.4" r="3.45"/><circle cx="1273.6" cy="842.0" r="3.45"/><circle cx="1283.4" cy="841.6" r="3.45"/><circle cx="1293.2" cy="841.2" r="3.45"/><circle cx="1303.0" cy="840.8" r="3.45"/><circle cx="1312.8" cy="840.1" r="3.45"/><circle cx="1322.6" cy="839.3" r="3.45"/><circle cx="1332.4" cy="838.6" r="3.45"/><circle cx="1342.2" cy="837.8" r="3.45"/><circle cx="1351.9" cy="837.1" r="3.45"/><circle cx="1361.7" cy="836.2" r="3.45"/><circle cx="1371.5" cy="835.4" r="3.45"/><circle cx="1381.3" cy="834.6" r="3.45"/><circle cx="1391.1" cy="833.3" r="3.45"/><circle cx="1400.9" cy="832.1" r="3.45"/><circle cx="1410.7" cy="830.8" r="3.45"/><circle cx="1420.5" cy="829.6" r="3.45"/><circle cx="1430.3" cy="828.3" r="3.45"/><circle cx="1440.1" cy="827.1" r="3.45"/><circle cx="1449.8" cy="825.8" r="3.45"/><circle cx="1459.6" cy="824.6" r="3.45"/><circle cx="1469.4" cy="823.3" r="3.45"/><circle cx="1479.2" cy="822.1" r="3.45"/><circle cx="1489.0" cy="820.2" r="3.45"/><circle cx="1498.8" cy="818.3" r="3.45"/><circle cx="1508.6" cy="816.3" r="3.45"/></g>
<g fill="#7041A3"><circle cx="1205.1" cy="728.5" r="3.45"/><circle cx="1214.9" cy="724.7" r="3.45"/><circle cx="1224.7" cy="721.0" r="3.45"/><circle cx="1234.5" cy="716.7" r="3.45"/><circle cx="1244.3" cy="712.2" r="3.45"/><circle cx="1254.0" cy="708.5" r="3.45"/><circle cx="1263.8" cy="704.2" r="3.45"/><circle cx="1273.6" cy="700.5" r="3.45"/><circle cx="1283.4" cy="696.0" r="3.45"/><circle cx="1293.2" cy="693.5" r="3.45"/><circle cx="1303.0" cy="691.0" r="3.45"/><circle cx="1312.8" cy="691.5" r="3.45"/><circle cx="1322.6" cy="689.0" r="3.45"/><circle cx="1332.4" cy="689.0" r="3.45"/><circle cx="1342.2" cy="691.0" r="3.45"/><circle cx="1351.9" cy="689.8" r="3.45"/><circle cx="1361.7" cy="690.5" r="3.45"/><circle cx="1371.5" cy="691.0" r="3.45"/><circle cx="1381.3" cy="689.8" r="3.45"/><circle cx="1391.1" cy="687.8" r="3.45"/><circle cx="1400.9" cy="684.3" r="3.45"/><circle cx="1410.7" cy="683.5" r="3.45"/><circle cx="1420.5" cy="684.8" r="3.45"/><circle cx="1430.3" cy="687.3" r="3.45"/><circle cx="1440.1" cy="689.0" r="3.45"/><circle cx="1449.8" cy="692.2" r="3.45"/><circle cx="1459.6" cy="693.5" r="3.45"/><circle cx="1469.4" cy="695.5" r="3.45"/><circle cx="1479.2" cy="696.7" r="3.45"/><circle cx="1489.0" cy="697.2" r="3.45"/><circle cx="1498.8" cy="699.7" r="3.45"/><circle cx="1508.6" cy="698.5" r="3.45"/></g>
<g fill="#62B42A"><circle cx="1205.1" cy="835.8" r="3.45"/><circle cx="1214.9" cy="835.8" r="3.45"/><circle cx="1224.7" cy="835.1" r="3.45"/><circle cx="1234.5" cy="833.3" r="3.45"/><circle cx="1244.3" cy="830.3" r="3.45"/><circle cx="1254.0" cy="828.3" r="3.45"/><circle cx="1263.8" cy="825.8" r="3.45"/><circle cx="1273.6" cy="823.8" r="3.45"/><circle cx="1283.4" cy="822.1" r="3.45"/><circle cx="1293.2" cy="820.8" r="3.45"/><circle cx="1303.0" cy="820.1" r="3.45"/><circle cx="1312.8" cy="819.6" r="3.45"/><circle cx="1322.6" cy="819.1" r="3.45"/><circle cx="1332.4" cy="817.8" r="3.45"/><circle cx="1342.2" cy="815.8" r="3.45"/><circle cx="1351.9" cy="813.8" r="3.45"/><circle cx="1361.7" cy="811.3" r="3.45"/><circle cx="1371.5" cy="809.1" r="3.45"/><circle cx="1381.3" cy="807.1" r="3.45"/><circle cx="1391.1" cy="805.9" r="3.45"/><circle cx="1400.9" cy="804.1" r="3.45"/><circle cx="1410.7" cy="803.4" r="3.45"/><circle cx="1420.5" cy="802.6" r="3.45"/><circle cx="1430.3" cy="801.4" r="3.45"/><circle cx="1440.1" cy="800.1" r="3.45"/><circle cx="1449.8" cy="799.1" r="3.45"/><circle cx="1459.6" cy="798.4" r="3.45"/><circle cx="1469.4" cy="798.4" r="3.45"/><circle cx="1479.2" cy="797.9" r="3.45"/><circle cx="1489.0" cy="797.9" r="3.45"/><circle cx="1498.8" cy="797.6" r="3.45"/><circle cx="1508.6" cy="797.1" r="3.45"/></g>
<g fill="#1A44A2"><circle cx="1205.1" cy="652.3" r="3.45"/><circle cx="1214.9" cy="645.3" r="3.45"/><circle cx="1224.7" cy="640.6" r="3.45"/><circle cx="1234.5" cy="628.6" r="3.45"/><circle cx="1244.3" cy="617.3" r="3.45"/><circle cx="1254.0" cy="601.9" r="3.45"/><circle cx="1263.8" cy="592.4" r="3.45"/><circle cx="1273.6" cy="584.9" r="3.45"/><circle cx="1283.4" cy="572.4" r="3.45"/><circle cx="1293.2" cy="568.7" r="3.45"/><circle cx="1303.0" cy="562.4" r="3.45"/><circle cx="1312.8" cy="557.4" r="3.45"/><circle cx="1322.6" cy="551.9" r="3.45"/><circle cx="1332.4" cy="543.7" r="3.45"/><circle cx="1342.2" cy="537.4" r="3.45"/><circle cx="1351.9" cy="527.0" r="3.45"/><circle cx="1361.7" cy="518.7" r="3.45"/><circle cx="1371.5" cy="513.0" r="3.45"/><circle cx="1381.3" cy="513.2" r="3.45"/><circle cx="1391.1" cy="514.5" r="3.45"/><circle cx="1400.9" cy="511.2" r="3.45"/><circle cx="1410.7" cy="509.2" r="3.45"/><circle cx="1420.5" cy="511.2" r="3.45"/><circle cx="1430.3" cy="513.2" r="3.45"/><circle cx="1440.1" cy="513.7" r="3.45"/><circle cx="1449.8" cy="511.7" r="3.45"/><circle cx="1459.6" cy="508.7" r="3.45"/><circle cx="1469.4" cy="514.2" r="3.45"/><circle cx="1479.2" cy="516.2" r="3.45"/><circle cx="1489.0" cy="517.5" r="3.45"/><circle cx="1498.8" cy="530.4" r="3.45"/><circle cx="1508.6" cy="528.7" r="3.45"/></g>
<g fill="#E21D23"><circle cx="1205.1" cy="767.2" r="3.45"/><circle cx="1214.9" cy="765.4" r="3.45"/><circle cx="1224.7" cy="763.4" r="3.45"/><circle cx="1234.5" cy="759.7" r="3.45"/><circle cx="1244.3" cy="755.2" r="3.45"/><circle cx="1254.0" cy="750.2" r="3.45"/><circle cx="1263.8" cy="746.4" r="3.45"/><circle cx="1273.6" cy="743.4" r="3.45"/><circle cx="1283.4" cy="740.4" r="3.45"/><circle cx="1293.2" cy="738.4" r="3.45"/><circle cx="1303.0" cy="737.2" r="3.45"/><circle cx="1312.8" cy="735.9" r="3.45"/><circle cx="1322.6" cy="734.7" r="3.45"/><circle cx="1332.4" cy="733.4" r="3.45"/><circle cx="1342.2" cy="731.4" r="3.45"/><circle cx="1351.9" cy="729.0" r="3.45"/><circle cx="1361.7" cy="726.7" r="3.45"/><circle cx="1371.5" cy="725.2" r="3.45"/><circle cx="1381.3" cy="724.2" r="3.45"/><circle cx="1391.1" cy="724.2" r="3.45"/><circle cx="1400.9" cy="723.5" r="3.45"/><circle cx="1410.7" cy="723.5" r="3.45"/><circle cx="1420.5" cy="724.7" r="3.45"/><circle cx="1430.3" cy="725.5" r="3.45"/><circle cx="1440.1" cy="726.0" r="3.45"/><circle cx="1449.8" cy="726.0" r="3.45"/><circle cx="1459.6" cy="726.0" r="3.45"/><circle cx="1469.4" cy="728.5" r="3.45"/><circle cx="1479.2" cy="729.0" r="3.45"/><circle cx="1489.0" cy="730.2" r="3.45"/><circle cx="1498.8" cy="732.9" r="3.45"/><circle cx="1508.6" cy="732.9" r="3.45"/></g>
<rect x="1190.4" y="492.1" width="333.6" height="369.9" fill="none" stroke="#2a2a2a" stroke-width="1.4"/>
<line x1="1186.0" y1="581.6" x2="1190.4" y2="581.6" stroke="#222" stroke-width="1.5"/>
<text transform="translate(1181.0 587.4) scale(1 1.09)" font-size="15" fill="#111" stroke="#111" stroke-width="0.25" text-anchor="end">7.5</text>
<line x1="1186.0" y1="681.8" x2="1190.4" y2="681.8" stroke="#222" stroke-width="1.5"/>
<text transform="translate(1181.0 687.6) scale(1 1.09)" font-size="15" fill="#111" stroke="#111" stroke-width="0.25" text-anchor="end">5.0</text>
<line x1="1186.0" y1="781.4" x2="1190.4" y2="781.4" stroke="#222" stroke-width="1.5"/>
<text transform="translate(1181.0 787.2) scale(1 1.09)" font-size="15" fill="#111" stroke="#111" stroke-width="0.25" text-anchor="end">2.5</text>
<rect x="82.3" y="869.3" width="333.6" height="31.9" fill="#E6EDF8" stroke="#2a2a2a" stroke-width="1.4"/>
<text x="249.1" y="891.9" font-size="17.8" font-weight="bold" fill="#409BD0" text-anchor="middle">Both-ASDR per 100,000</text>
<rect x="82.3" y="901.2" width="333.6" height="369.9" fill="#ffffff"/>
<line x1="82.3" y1="1239.3" x2="415.9" y2="1239.3" stroke="#EDEDED" stroke-width="0.8"/>
<line x1="82.3" y1="1165.9" x2="415.9" y2="1165.9" stroke="#EDEDED" stroke-width="0.8"/>
<line x1="82.3" y1="1092.4" x2="415.9" y2="1092.4" stroke="#EDEDED" stroke-width="0.8"/>
<line x1="82.3" y1="1018.9" x2="415.9" y2="1018.9" stroke="#EDEDED" stroke-width="0.8"/>
<line x1="82.3" y1="945.4" x2="415.9" y2="945.4" stroke="#EDEDED" stroke-width="0.8"/>
<line x1="146.4" y1="901.2" x2="146.4" y2="1271.1" stroke="#EDEDED" stroke-width="0.8"/>
<line x1="244.3" y1="901.2" x2="244.3" y2="1271.1" stroke="#EDEDED" stroke-width="0.8"/>
<line x1="342.2" y1="901.2" x2="342.2" y2="1271.1" stroke="#EDEDED" stroke-width="0.8"/>
<line x1="82.3" y1="1202.6" x2="415.9" y2="1202.6" stroke="#E6E6E6" stroke-width="1.2"/>
<line x1="82.3" y1="1129.1" x2="415.9" y2="1129.1" stroke="#E6E6E6" stroke-width="1.2"/>
<line x1="82.3" y1="1055.7" x2="415.9" y2="1055.7" stroke="#E6E6E6" stroke-width="1.2"/>
<line x1="82.3" y1="982.2" x2="415.9" y2="982.2" stroke="#E6E6E6" stroke-width="1.2"/>
<line x1="82.3" y1="908.7" x2="415.9" y2="908.7" stroke="#E6E6E6" stroke-width="1.2"/>
<line x1="97.5" y1="901.2" x2="97.5" y2="1271.1" stroke="#E6E6E6" stroke-width="1.2"/>
<line x1="195.4" y1="901.2" x2="195.4" y2="1271.1" stroke="#E6E6E6" stroke-width="1.2"/>
<line x1="293.3" y1="901.2" x2="293.3" y2="1271.1" stroke="#E6E6E6" stroke-width="1.2"/>
<line x1="391.2" y1="901.2" x2="391.2" y2="1271.1" stroke="#E6E6E6" stroke-width="1.2"/>
<polyline points="97.5,1237.1 107.3,1235.3 117.1,1234.1 126.9,1233.3 136.7,1232.1 146.4,1230.8 156.2,1229.1 166.0,1227.1 175.8,1225.8 185.6,1224.1 195.4,1222.6 205.2,1221.6 215.0,1220.3 224.8,1218.9 234.6,1217.6 244.3,1216.4 254.1,1215.1 263.9,1213.4 273.7,1212.1 283.5,1210.1 293.3,1207.9 303.1,1205.4 312.9,1203.4 322.7,1201.4 332.5,1198.9 342.2,1196.4 352.0,1194.6 361.8,1192.9 371.6,1191.4 381.4,1190.4 391.2,1188.9 401.0,1187.9" fill="none" stroke="#F49D18" stroke-width="3.3" stroke-linejoin="round"/>
<polyline points="97.5,935.0 107.3,931.2 117.1,930.0 126.9,923.2 136.7,919.5 146.4,918.2 156.2,920.5 166.0,921.7 175.8,922.0 185.6,920.7 195.4,924.2 205.2,927.0 215.0,925.7 224.8,930.7 234.6,940.7 244.3,944.2 254.1,953.2 263.9,959.9 273.7,965.4 283.5,969.2 293.3,971.2 303.1,971.2 312.9,971.2 322.7,972.4 332.5,973.7 342.2,975.4 352.0,976.7 361.8,977.4 371.6,980.6 381.4,984.4 391.2,987.9 401.0,988.6" fill="none" stroke="#7041A3" stroke-width="3.3" stroke-linejoin="round"/>
<polyline points="97.5,1254.6 107.3,1254.1 117.1,1252.6 126.9,1249.1 136.7,1243.3 146.4,1238.3 156.2,1234.6 166.0,1230.8 175.8,1227.6 185.6,1224.6 195.4,1222.8 205.2,1222.8 215.0,1224.1 224.8,1225.1 234.6,1225.8 244.3,1225.8 254.1,1225.3 263.9,1224.1 273.7,1222.6 283.5,1220.8 293.3,1219.1 303.1,1217.9 312.9,1217.1 322.7,1216.6 332.5,1215.1 342.2,1212.1 352.0,1209.6 361.8,1207.6 371.6,1205.9 381.4,1203.4 391.2,1202.9 401.0,1202.1" fill="none" stroke="#62B42A" stroke-width="3.3" stroke-linejoin="round"/>
<polyline points="97.5,1024.3 107.3,1021.8 117.1,1018.1 126.9,1009.9 136.7,1003.6 146.4,999.1 156.2,1000.6 166.0,1000.4 175.8,993.6 185.6,991.6 195.4,989.1 205.2,989.1 215.0,988.6 224.8,985.6 234.6,987.4 244.3,989.1 254.1,991.6 263.9,992.4 273.7,992.9 283.5,993.6 293.3,991.9 303.1,991.6 312.9,991.6 322.7,991.6 332.5,989.9 342.2,984.9 352.0,982.4 361.8,983.6 371.6,984.9 381.4,986.1 391.2,996.1 401.0,998.1" fill="none" stroke="#1A44A2" stroke-width="3.3" stroke-linejoin="round"/>
<polyline points="97.5,1141.4 107.3,1140.4 117.1,1139.0 126.9,1134.7 136.7,1129.7 146.4,1126.7 156.2,1126.0 166.0,1124.2 175.8,1121.5 185.6,1120.2 195.4,1119.7 205.2,1120.5 215.0,1121.0 224.8,1122.2 234.6,1125.5 244.3,1127.2 254.1,1129.0 263.9,1129.7 273.7,1130.5 283.5,1131.0 293.3,1130.2 303.1,1129.7 312.9,1129.7 322.7,1129.7 332.5,1129.2 342.2,1127.7 352.0,1126.5 361.8,1126.7 371.6,1126.7 381.4,1127.2 391.2,1129.2 401.0,1129.2" fill="none" stroke="#E21D23" stroke-width="3.3" stroke-linejoin="round"/>
<g fill="#F49D18"><circle cx="97.5" cy="1237.1" r="3.45"/><circle cx="107.3" cy="1235.3" r="3.45"/><circle cx="117.1" cy="1234.1" r="3.45"/><circle cx="126.9" cy="1233.3" r="3.45"/><circle cx="136.7" cy="1232.1" r="3.45"/><circle cx="146.4" cy="1230.8" r="3.45"/><circle cx="156.2" cy="1229.1" r="3.45"/><circle cx="166.0" cy="1227.1" r="3.45"/><circle cx="175.8" cy="1225.8" r="3.45"/><circle cx="185.6" cy="1224.1" r="3.45"/><circle cx="195.4" cy="1222.6" r="3.45"/><circle cx="205.2" cy="1221.6" r="3.45"/><circle cx="215.0" cy="1220.3" r="3.45"/><circle cx="224.8" cy="1218.9" r="3.45"/><circle cx="234.6" cy="1217.6" r="3.45"/><circle cx="244.3" cy="1216.4" r="3.45"/><circle cx="254.1" cy="1215.1" r="3.45"/><circle cx="263.9" cy="1213.4" r="3.45"/><circle cx="273.7" cy="1212.1" r="3.45"/><circle cx="283.5" cy="1210.1" r="3.45"/><circle cx="293.3" cy="1207.9" r="3.45"/><circle cx="303.1" cy="1205.4" r="3.45"/><circle cx="312.9" cy="1203.4" r="3.45"/><circle cx="322.7" cy="1201.4" r="3.45"/><circle cx="332.5" cy="1198.9" r="3.45"/><circle cx="342.2" cy="1196.4" r="3.45"/><circle cx="352.0" cy="1194.6" r="3.45"/><circle cx="361.8" cy="1192.9" r="3.45"/><circle cx="371.6" cy="1191.4" r="3.45"/><circle cx="381.4" cy="1190.4" r="3.45"/><circle cx="391.2" cy="1188.9" r="3.45"/><circle cx="401.0" cy="1187.9" r="3.45"/></g>
<g fill="#7041A3"><circle cx="97.5" cy="935.0" r="3.45"/><circle cx="107.3" cy="931.2" r="3.45"/><circle cx="117.1" cy="930.0" r="3.45"/><circle cx="126.9" cy="923.2" r="3.45"/><circle cx="136.7" cy="919.5" r="3.45"/><circle cx="146.4" cy="918.2" r="3.45"/><circle cx="156.2" cy="920.5" r="3.45"/><circle cx="166.0" cy="921.7" r="3.45"/><circle cx="175.8" cy="922.0" r="3.45"/><circle cx="185.6" cy="920.7" r="3.45"/><circle cx="195.4" cy="924.2" r="3.45"/><circle cx="205.2" cy="927.0" r="3.45"/><circle cx="215.0" cy="925.7" r="3.45"/><circle cx="224.8" cy="930.7" r="3.45"/><circle cx="234.6" cy="940.7" r="3.45"/><circle cx="244.3" cy="944.2" r="3.45"/><circle cx="254.1" cy="953.2" r="3.45"/><circle cx="263.9" cy="959.9" r="3.45"/><circle cx="273.7" cy="965.4" r="3.45"/><circle cx="283.5" cy="969.2" r="3.45"/><circle cx="293.3" cy="971.2" r="3.45"/><circle cx="303.1" cy="971.2" r="3.45"/><circle cx="312.9" cy="971.2" r="3.45"/><circle cx="322.7" cy="972.4" r="3.45"/><circle cx="332.5" cy="973.7" r="3.45"/><circle cx="342.2" cy="975.4" r="3.45"/><circle cx="352.0" cy="976.7" r="3.45"/><circle cx="361.8" cy="977.4" r="3.45"/><circle cx="371.6" cy="980.6" r="3.45"/><circle cx="381.4" cy="984.4" r="3.45"/><circle cx="391.2" cy="987.9" r="3.45"/><circle cx="401.0" cy="988.6" r="3.45"/></g>
<g fill="#62B42A"><circle cx="97.5" cy="1254.6" r="3.45"/><circle cx="107.3" cy="1254.1" r="3.45"/><circle cx="117.1" cy="1252.6" r="3.45"/><circle cx="126.9" cy="1249.1" r="3.45"/><circle cx="136.7" cy="1243.3" r="3.45"/><circle cx="146.4" cy="1238.3" r="3.45"/><circle cx="156.2" cy="1234.6" r="3.45"/><circle cx="166.0" cy="1230.8" r="3.45"/><circle cx="175.8" cy="1227.6" r="3.45"/><circle cx="185.6" cy="1224.6" r="3.45"/><circle cx="195.4" cy="1222.8" r="3.45"/><circle cx="205.2" cy="1222.8" r="3.45"/><circle cx="215.0" cy="1224.1" r="3.45"/><circle cx="224.8" cy="1225.1" r="3.45"/><circle cx="234.6" cy="1225.8" r="3.45"/><circle cx="244.3" cy="1225.8" r="3.45"/><circle cx="254.1" cy="1225.3" r="3.45"/><circle cx="263.9" cy="1224.1" r="3.45"/><circle cx="273.7" cy="1222.6" r="3.45"/><circle cx="283.5" cy="1220.8" r="3.45"/><circle cx="293.3" cy="1219.1" r="3.45"/><circle cx="303.1" cy="1217.9" r="3.45"/><circle cx="312.9" cy="1217.1" r="3.45"/><circle cx="322.7" cy="1216.6" r="3.45"/><circle cx="332.5" cy="1215.1" r="3.45"/><circle cx="342.2" cy="1212.1" r="3.45"/><circle cx="352.0" cy="1209.6" r="3.45"/><circle cx="361.8" cy="1207.6" r="3.45"/><circle cx="371.6" cy="1205.9" r="3.45"/><circle cx="381.4" cy="1203.4" r="3.45"/><circle cx="391.2" cy="1202.9" r="3.45"/><circle cx="401.0" cy="1202.1" r="3.45"/></g>
<g fill="#1A44A2"><circle cx="97.5" cy="1024.3" r="3.45"/><circle cx="107.3" cy="1021.8" r="3.45"/><circle cx="117.1" cy="1018.1" r="3.45"/><circle cx="126.9" cy="1009.9" r="3.45"/><circle cx="136.7" cy="1003.6" r="3.45"/><circle cx="146.4" cy="999.1" r="3.45"/><circle cx="156.2" cy="1000.6" r="3.45"/><circle cx="166.0" cy="1000.4" r="3.45"/><circle cx="175.8" cy="993.6" r="3.45"/><circle cx="185.6" cy="991.6" r="3.45"/><circle cx="195.4" cy="989.1" r="3.45"/><circle cx="205.2" cy="989.1" r="3.45"/><circle cx="215.0" cy="988.6" r="3.45"/><circle cx="224.8" cy="985.6" r="3.45"/><circle cx="234.6" cy="987.4" r="3.45"/><circle cx="244.3" cy="989.1" r="3.45"/><circle cx="254.1" cy="991.6" r="3.45"/><circle cx="263.9" cy="992.4" r="3.45"/><circle cx="273.7" cy="992.9" r="3.45"/><circle cx="283.5" cy="993.6" r="3.45"/><circle cx="293.3" cy="991.9" r="3.45"/><circle cx="303.1" cy="991.6" r="3.45"/><circle cx="312.9" cy="991.6" r="3.45"/><circle cx="322.7" cy="991.6" r="3.45"/><circle cx="332.5" cy="989.9" r="3.45"/><circle cx="342.2" cy="984.9" r="3.45"/><circle cx="352.0" cy="982.4" r="3.45"/><circle cx="361.8" cy="983.6" r="3.45"/><circle cx="371.6" cy="984.9" r="3.45"/><circle cx="381.4" cy="986.1" r="3.45"/><circle cx="391.2" cy="996.1" r="3.45"/><circle cx="401.0" cy="998.1" r="3.45"/></g>
<g fill="#E21D23"><circle cx="97.5" cy="1141.4" r="3.45"/><circle cx="107.3" cy="1140.4" r="3.45"/><circle cx="117.1" cy="1139.0" r="3.45"/><circle cx="126.9" cy="1134.7" r="3.45"/><circle cx="136.7" cy="1129.7" r="3.45"/><circle cx="146.4" cy="1126.7" r="3.45"/><circle cx="156.2" cy="1126.0" r="3.45"/><circle cx="166.0" cy="1124.2" r="3.45"/><circle cx="175.8" cy="1121.5" r="3.45"/><circle cx="185.6" cy="1120.2" r="3.45"/><circle cx="195.4" cy="1119.7" r="3.45"/><circle cx="205.2" cy="1120.5" r="3.45"/><circle cx="215.0" cy="1121.0" r="3.45"/><circle cx="224.8" cy="1122.2" r="3.45"/><circle cx="234.6" cy="1125.5" r="3.45"/><circle cx="244.3" cy="1127.2" r="3.45"/><circle cx="254.1" cy="1129.0" r="3.45"/><circle cx="263.9" cy="1129.7" r="3.45"/><circle cx="273.7" cy="1130.5" r="3.45"/><circle cx="283.5" cy="1131.0" r="3.45"/><circle cx="293.3" cy="1130.2" r="3.45"/><circle cx="303.1" cy="1129.7" r="3.45"/><circle cx="312.9" cy="1129.7" r="3.45"/><circle cx="322.7" cy="1129.7" r="3.45"/><circle cx="332.5" cy="1129.2" r="3.45"/><circle cx="342.2" cy="1127.7" r="3.45"/><circle cx="352.0" cy="1126.5" r="3.45"/><circle cx="361.8" cy="1126.7" r="3.45"/><circle cx="371.6" cy="1126.7" r="3.45"/><circle cx="381.4" cy="1127.2" r="3.45"/><circle cx="391.2" cy="1129.2" r="3.45"/><circle cx="401.0" cy="1129.2" r="3.45"/></g>
<rect x="82.3" y="901.2" width="333.6" height="369.9" fill="none" stroke="#2a2a2a" stroke-width="1.4"/>
<line x1="77.9" y1="908.7" x2="82.3" y2="908.7" stroke="#222" stroke-width="1.5"/>
<text transform="translate(72.9 914.5) scale(1 1.09)" font-size="15" fill="#111" stroke="#111" stroke-width="0.25" text-anchor="end">60</text>
<line x1="77.9" y1="982.4" x2="82.3" y2="982.4" stroke="#222" stroke-width="1.5"/>
<text transform="translate(72.9 988.2) scale(1 1.09)" font-size="15" fill="#111" stroke="#111" stroke-width="0.25" text-anchor="end">50</text>
<line x1="77.9" y1="1055.6" x2="82.3" y2="1055.6" stroke="#222" stroke-width="1.5"/>
<text transform="translate(72.9 1061.4) scale(1 1.09)" font-size="15" fill="#111" stroke="#111" stroke-width="0.25" text-anchor="end">40</text>
<line x1="77.9" y1="1129.0" x2="82.3" y2="1129.0" stroke="#222" stroke-width="1.5"/>
<text transform="translate(72.9 1134.8) scale(1 1.09)" font-size="15" fill="#111" stroke="#111" stroke-width="0.25" text-anchor="end">30</text>
<line x1="77.9" y1="1202.6" x2="82.3" y2="1202.6" stroke="#222" stroke-width="1.5"/>
<text transform="translate(72.9 1208.4) scale(1 1.09)" font-size="15" fill="#111" stroke="#111" stroke-width="0.25" text-anchor="end">20</text>
<line x1="97.5" y1="1271.1" x2="97.5" y2="1275.5" stroke="#222" stroke-width="1.5"/>
<text transform="translate(97.5 1291.3) scale(1 1.09)" font-size="15" fill="#111" stroke="#111" stroke-width="0.25" text-anchor="middle">1990</text>
<line x1="195.4" y1="1271.1" x2="195.4" y2="1275.5" stroke="#222" stroke-width="1.5"/>
<text transform="translate(195.4 1291.3) scale(1 1.09)" font-size="15" fill="#111" stroke="#111" stroke-width="0.25" text-anchor="middle">2000</text>
<line x1="293.3" y1="1271.1" x2="293.3" y2="1275.5" stroke="#222" stroke-width="1.5"/>
<text transform="translate(293.3 1291.3) scale(1 1.09)" font-size="15" fill="#111" stroke="#111" stroke-width="0.25" text-anchor="middle">2010</text>
<line x1="391.2" y1="1271.1" x2="391.2" y2="1275.5" stroke="#222" stroke-width="1.5"/>
<text transform="translate(391.2 1291.3) scale(1 1.09)" font-size="15" fill="#111" stroke="#111" stroke-width="0.25" text-anchor="middle">2020</text>
<rect x="451.7" y="869.3" width="333.6" height="31.9" fill="#ECEADF" stroke="#2a2a2a" stroke-width="1.4"/>
<text x="618.5" y="891.9" font-size="17.8" font-weight="bold" fill="#9C9262" text-anchor="middle">Both-ASIR per 100,000</text>
<rect x="451.7" y="901.2" width="333.6" height="369.9" fill="#ffffff"/>
<line x1="451.7" y1="1269.0" x2="785.3" y2="1269.0" stroke="#EDEDED" stroke-width="0.8"/>
<line x1="451.7" y1="1151.9" x2="785.3" y2="1151.9" stroke="#EDEDED" stroke-width="0.8"/>
<line x1="451.7" y1="1034.8" x2="785.3" y2="1034.8" stroke="#EDEDED" stroke-width="0.8"/>
<line x1="451.7" y1="917.7" x2="785.3" y2="917.7" stroke="#EDEDED" stroke-width="0.8"/>
<line x1="515.4" y1="901.2" x2="515.4" y2="1271.1" stroke="#EDEDED" stroke-width="0.8"/>
<line x1="613.2" y1="901.2" x2="613.2" y2="1271.1" stroke="#EDEDED" stroke-width="0.8"/>
<line x1="711.1" y1="901.2" x2="711.1" y2="1271.1" stroke="#EDEDED" stroke-width="0.8"/>
<line x1="451.7" y1="1210.4" x2="785.3" y2="1210.4" stroke="#E6E6E6" stroke-width="1.2"/>
<line x1="451.7" y1="1093.3" x2="785.3" y2="1093.3" stroke="#E6E6E6" stroke-width="1.2"/>
<line x1="451.7" y1="976.2" x2="785.3" y2="976.2" stroke="#E6E6E6" stroke-width="1.2"/>
<line x1="466.4" y1="901.2" x2="466.4" y2="1271.1" stroke="#E6E6E6" stroke-width="1.2"/>
<line x1="564.3" y1="901.2" x2="564.3" y2="1271.1" stroke="#E6E6E6" stroke-width="1.2"/>
<line x1="662.2" y1="901.2" x2="662.2" y2="1271.1" stroke="#E6E6E6" stroke-width="1.2"/>
<line x1="760.1" y1="901.2" x2="760.1" y2="1271.1" stroke="#E6E6E6" stroke-width="1.2"/>
<polyline points="466.4,1254.6 476.2,1254.1 486.0,1252.8 495.8,1252.1 505.6,1250.8 515.4,1249.6 525.1,1248.3 534.9,1247.1 544.7,1245.8 554.5,1244.6 564.3,1243.3 574.1,1242.6 583.9,1241.6 593.7,1240.3 603.5,1239.1 613.2,1237.6 623.0,1236.3 632.8,1234.6 642.6,1232.8 652.4,1231.3 662.2,1229.6 672.0,1227.8 681.8,1226.3 691.6,1224.6 701.4,1222.8 711.1,1221.3 720.9,1220.3 730.7,1219.1 740.5,1218.4 750.3,1217.1 760.1,1216.6 769.9,1216.4" fill="none" stroke="#F49D18" stroke-width="3.3" stroke-linejoin="round"/>
<polyline points="466.4,1025.6 476.2,1022.3 486.0,1019.4 495.8,1013.6 505.6,1008.6 515.4,1005.4 525.1,1003.6 534.9,1001.9 544.7,1000.6 554.5,997.4 564.3,996.9 574.1,997.9 583.9,995.4 593.7,997.4 603.5,1003.6 613.2,1005.4 623.0,1009.9 632.8,1012.4 642.6,1015.4 652.4,1014.4 662.2,1013.1 672.0,1011.9 681.8,1011.9 691.6,1014.4 701.4,1016.1 711.1,1017.4 720.9,1016.9 730.7,1019.4 740.5,1022.3 750.3,1023.1 760.1,1026.8 769.9,1026.1" fill="none" stroke="#7041A3" stroke-width="3.3" stroke-linejoin="round"/>
<polyline points="466.4,1254.1 476.2,1253.3 486.0,1252.1 495.8,1249.6 505.6,1244.6 515.4,1240.8 525.1,1237.1 534.9,1234.1 544.7,1231.6 554.5,1229.6 564.3,1228.3 574.1,1227.6 583.9,1227.8 593.7,1227.6 603.5,1227.1 613.2,1226.3 623.0,1225.3 632.8,1223.8 642.6,1222.1 652.4,1220.3 662.2,1218.4 672.0,1217.1 681.8,1215.9 691.6,1214.6 701.4,1213.4 711.1,1210.9 720.9,1208.9 730.7,1207.1 740.5,1205.1 750.3,1203.9 760.1,1203.4 769.9,1202.6" fill="none" stroke="#62B42A" stroke-width="3.3" stroke-linejoin="round"/>
<polyline points="466.4,1034.1 476.2,1029.8 486.0,1024.1 495.8,1013.6 505.6,1002.9 515.4,992.4 525.1,987.4 534.9,982.4 544.7,972.9 554.5,969.9 564.3,964.4 574.1,960.7 583.9,956.9 593.7,950.7 603.5,948.2 613.2,944.9 623.0,941.9 632.8,938.0 642.6,936.7 652.4,937.5 662.2,933.7 672.0,931.7 681.8,930.7 691.6,929.2 701.4,928.7 711.1,922.5 720.9,918.2 730.7,921.2 740.5,922.0 750.3,925.0 760.1,935.0 769.9,937.0" fill="none" stroke="#1A44A2" stroke-width="3.3" stroke-linejoin="round"/>
<polyline points="466.4,1155.2 476.2,1153.4 486.0,1151.7 495.8,1147.2 505.6,1142.2 515.4,1138.0 525.1,1135.2 534.9,1133.5 544.7,1129.7 554.5,1127.2 564.3,1125.5 574.1,1125.5 583.9,1125.2 593.7,1124.7 603.5,1125.2 613.2,1125.5 623.0,1125.5 632.8,1125.2 642.6,1124.7 652.4,1124.7 662.2,1123.0 672.0,1122.2 681.8,1122.2 691.6,1121.7 701.4,1121.0 711.1,1119.7 720.9,1119.0 730.7,1119.2 740.5,1119.7 750.3,1120.2 760.1,1123.5 769.9,1124.0" fill="none" stroke="#E21D23" stroke-width="3.3" stroke-linejoin="round"/>
<g fill="#F49D18"><circle cx="466.4" cy="1254.6" r="3.45"/><circle cx="476.2" cy="1254.1" r="3.45"/><circle cx="486.0" cy="1252.8" r="3.45"/><circle cx="495.8" cy="1252.1" r="3.45"/><circle cx="505.6" cy="1250.8" r="3.45"/><circle cx="515.4" cy="1249.6" r="3.45"/><circle cx="525.1" cy="1248.3" r="3.45"/><circle cx="534.9" cy="1247.1" r="3.45"/><circle cx="544.7" cy="1245.8" r="3.45"/><circle cx="554.5" cy="1244.6" r="3.45"/><circle cx="564.3" cy="1243.3" r="3.45"/><circle cx="574.1" cy="1242.6" r="3.45"/><circle cx="583.9" cy="1241.6" r="3.45"/><circle cx="593.7" cy="1240.3" r="3.45"/><circle cx="603.5" cy="1239.1" r="3.45"/><circle cx="613.2" cy="1237.6" r="3.45"/><circle cx="623.0" cy="1236.3" r="3.45"/><circle cx="632.8" cy="1234.6" r="3.45"/><circle cx="642.6" cy="1232.8" r="3.45"/><circle cx="652.4" cy="1231.3" r="3.45"/><circle cx="662.2" cy="1229.6" r="3.45"/><circle cx="672.0" cy="1227.8" r="3.45"/><circle cx="681.8" cy="1226.3" r="3.45"/><circle cx="691.6" cy="1224.6" r="3.45"/><circle cx="701.4" cy="1222.8" r="3.45"/><circle cx="711.1" cy="1221.3" r="3.45"/><circle cx="720.9" cy="1220.3" r="3.45"/><circle cx="730.7" cy="1219.1" r="3.45"/><circle cx="740.5" cy="1218.4" r="3.45"/><circle cx="750.3" cy="1217.1" r="3.45"/><circle cx="760.1" cy="1216.6" r="3.45"/><circle cx="769.9" cy="1216.4" r="3.45"/></g>
<g fill="#7041A3"><circle cx="466.4" cy="1025.6" r="3.45"/><circle cx="476.2" cy="1022.3" r="3.45"/><circle cx="486.0" cy="1019.4" r="3.45"/><circle cx="495.8" cy="1013.6" r="3.45"/><circle cx="505.6" cy="1008.6" r="3.45"/><circle cx="515.4" cy="1005.4" r="3.45"/><circle cx="525.1" cy="1003.6" r="3.45"/><circle cx="534.9" cy="1001.9" r="3.45"/><circle cx="544.7" cy="1000.6" r="3.45"/><circle cx="554.5" cy="997.4" r="3.45"/><circle cx="564.3" cy="996.9" r="3.45"/><circle cx="574.1" cy="997.9" r="3.45"/><circle cx="583.9" cy="995.4" r="3.45"/><circle cx="593.7" cy="997.4" r="3.45"/><circle cx="603.5" cy="1003.6" r="3.45"/><circle cx="613.2" cy="1005.4" r="3.45"/><circle cx="623.0" cy="1009.9" r="3.45"/><circle cx="632.8" cy="1012.4" r="3.45"/><circle cx="642.6" cy="1015.4" r="3.45"/><circle cx="652.4" cy="1014.4" r="3.45"/><circle cx="662.2" cy="1013.1" r="3.45"/><circle cx="672.0" cy="1011.9" r="3.45"/><circle cx="681.8" cy="1011.9" r="3.45"/><circle cx="691.6" cy="1014.4" r="3.45"/><circle cx="701.4" cy="1016.1" r="3.45"/><circle cx="711.1" cy="1017.4" r="3.45"/><circle cx="720.9" cy="1016.9" r="3.45"/><circle cx="730.7" cy="1019.4" r="3.45"/><circle cx="740.5" cy="1022.3" r="3.45"/><circle cx="750.3" cy="1023.1" r="3.45"/><circle cx="760.1" cy="1026.8" r="3.45"/><circle cx="769.9" cy="1026.1" r="3.45"/></g>
<g fill="#62B42A"><circle cx="466.4" cy="1254.1" r="3.45"/><circle cx="476.2" cy="1253.3" r="3.45"/><circle cx="486.0" cy="1252.1" r="3.45"/><circle cx="495.8" cy="1249.6" r="3.45"/><circle cx="505.6" cy="1244.6" r="3.45"/><circle cx="515.4" cy="1240.8" r="3.45"/><circle cx="525.1" cy="1237.1" r="3.45"/><circle cx="534.9" cy="1234.1" r="3.45"/><circle cx="544.7" cy="1231.6" r="3.45"/><circle cx="554.5" cy="1229.6" r="3.45"/><circle cx="564.3" cy="1228.3" r="3.45"/><circle cx="574.1" cy="1227.6" r="3.45"/><circle cx="583.9" cy="1227.8" r="3.45"/><circle cx="593.7" cy="1227.6" r="3.45"/><circle cx="603.5" cy="1227.1" r="3.45"/><circle cx="613.2" cy="1226.3" r="3.45"/><circle cx="623.0" cy="1225.3" r="3.45"/><circle cx="632.8" cy="1223.8" r="3.45"/><circle cx="642.6" cy="1222.1" r="3.45"/><circle cx="652.4" cy="1220.3" r="3.45"/><circle cx="662.2" cy="1218.4" r="3.45"/><circle cx="672.0" cy="1217.1" r="3.45"/><circle cx="681.8" cy="1215.9" r="3.45"/><circle cx="691.6" cy="1214.6" r="3.45"/><circle cx="701.4" cy="1213.4" r="3.45"/><circle cx="711.1" cy="1210.9" r="3.45"/><circle cx="720.9" cy="1208.9" r="3.45"/><circle cx="730.7" cy="1207.1" r="3.45"/><circle cx="740.5" cy="1205.1" r="3.45"/><circle cx="750.3" cy="1203.9" r="3.45"/><circle cx="760.1" cy="1203.4" r="3.45"/><circle cx="769.9" cy="1202.6" r="3.45"/></g>
<g fill="#1A44A2"><circle cx="466.4" cy="1034.1" r="3.45"/><circle cx="476.2" cy="1029.8" r="3.45"/><circle cx="486.0" cy="1024.1" r="3.45"/><circle cx="495.8" cy="1013.6" r="3.45"/><circle cx="505.6" cy="1002.9" r="3.45"/><circle cx="515.4" cy="992.4" r="3.45"/><circle cx="525.1" cy="987.4" r="3.45"/><circle cx="534.9" cy="982.4" r="3.45"/><circle cx="544.7" cy="972.9" r="3.45"/><circle cx="554.5" cy="969.9" r="3.45"/><circle cx="564.3" cy="964.4" r="3.45"/><circle cx="574.1" cy="960.7" r="3.45"/><circle cx="583.9" cy="956.9" r="3.45"/><circle cx="593.7" cy="950.7" r="3.45"/><circle cx="603.5" cy="948.2" r="3.45"/><circle cx="613.2" cy="944.9" r="3.45"/><circle cx="623.0" cy="941.9" r="3.45"/><circle cx="632.8" cy="938.0" r="3.45"/><circle cx="642.6" cy="936.7" r="3.45"/><circle cx="652.4" cy="937.5" r="3.45"/><circle cx="662.2" cy="933.7" r="3.45"/><circle cx="672.0" cy="931.7" r="3.45"/><circle cx="681.8" cy="930.7" r="3.45"/><circle cx="691.6" cy="929.2" r="3.45"/><circle cx="701.4" cy="928.7" r="3.45"/><circle cx="711.1" cy="922.5" r="3.45"/><circle cx="720.9" cy="918.2" r="3.45"/><circle cx="730.7" cy="921.2" r="3.45"/><circle cx="740.5" cy="922.0" r="3.45"/><circle cx="750.3" cy="925.0" r="3.45"/><circle cx="760.1" cy="935.0" r="3.45"/><circle cx="769.9" cy="937.0" r="3.45"/></g>
<g fill="#E21D23"><circle cx="466.4" cy="1155.2" r="3.45"/><circle cx="476.2" cy="1153.4" r="3.45"/><circle cx="486.0" cy="1151.7" r="3.45"/><circle cx="495.8" cy="1147.2" r="3.45"/><circle cx="505.6" cy="1142.2" r="3.45"/><circle cx="515.4" cy="1138.0" r="3.45"/><circle cx="525.1" cy="1135.2" r="3.45"/><circle cx="534.9" cy="1133.5" r="3.45"/><circle cx="544.7" cy="1129.7" r="3.45"/><circle cx="554.5" cy="1127.2" r="3.45"/><circle cx="564.3" cy="1125.5" r="3.45"/><circle cx="574.1" cy="1125.5" r="3.45"/><circle cx="583.9" cy="1125.2" r="3.45"/><circle cx="593.7" cy="1124.7" r="3.45"/><circle cx="603.5" cy="1125.2" r="3.45"/><circle cx="613.2" cy="1125.5" r="3.45"/><circle cx="623.0" cy="1125.5" r="3.45"/><circle cx="632.8" cy="1125.2" r="3.45"/><circle cx="642.6" cy="1124.7" r="3.45"/><circle cx="652.4" cy="1124.7" r="3.45"/><circle cx="662.2" cy="1123.0" r="3.45"/><circle cx="672.0" cy="1122.2" r="3.45"/><circle cx="681.8" cy="1122.2" r="3.45"/><circle cx="691.6" cy="1121.7" r="3.45"/><circle cx="701.4" cy="1121.0" r="3.45"/><circle cx="711.1" cy="1119.7" r="3.45"/><circle cx="720.9" cy="1119.0" r="3.45"/><circle cx="730.7" cy="1119.2" r="3.45"/><circle cx="740.5" cy="1119.7" r="3.45"/><circle cx="750.3" cy="1120.2" r="3.45"/><circle cx="760.1" cy="1123.5" r="3.45"/><circle cx="769.9" cy="1124.0" r="3.45"/></g>
<rect x="451.7" y="901.2" width="333.6" height="369.9" fill="none" stroke="#2a2a2a" stroke-width="1.4"/>
<line x1="447.3" y1="976.2" x2="451.7" y2="976.2" stroke="#222" stroke-width="1.5"/>
<text transform="translate(442.3 982.0) scale(1 1.09)" font-size="15" fill="#111" stroke="#111" stroke-width="0.25" text-anchor="end">3</text>
<line x1="447.3" y1="1093.0" x2="451.7" y2="1093.0" stroke="#222" stroke-width="1.5"/>
<text transform="translate(442.3 1098.8) scale(1 1.09)" font-size="15" fill="#111" stroke="#111" stroke-width="0.25" text-anchor="end">2</text>
<line x1="447.3" y1="1210.4" x2="451.7" y2="1210.4" stroke="#222" stroke-width="1.5"/>
<text transform="translate(442.3 1216.2) scale(1 1.09)" font-size="15" fill="#111" stroke="#111" stroke-width="0.25" text-anchor="end">1</text>
<line x1="466.4" y1="1271.1" x2="466.4" y2="1275.5" stroke="#222" stroke-width="1.5"/>
<text transform="translate(466.4 1291.3) scale(1 1.09)" font-size="15" fill="#111" stroke="#111" stroke-width="0.25" text-anchor="middle">1990</text>
<line x1="564.3" y1="1271.1" x2="564.3" y2="1275.5" stroke="#222" stroke-width="1.5"/>
<text transform="translate(564.3 1291.3) scale(1 1.09)" font-size="15" fill="#111" stroke="#111" stroke-width="0.25" text-anchor="middle">2000</text>
<line x1="662.2" y1="1271.1" x2="662.2" y2="1275.5" stroke="#222" stroke-width="1.5"/>
<text transform="translate(662.2 1291.3) scale(1 1.09)" font-size="15" fill="#111" stroke="#111" stroke-width="0.25" text-anchor="middle">2010</text>
<line x1="760.1" y1="1271.1" x2="760.1" y2="1275.5" stroke="#222" stroke-width="1.5"/>
<text transform="translate(760.1 1291.3) scale(1 1.09)" font-size="15" fill="#111" stroke="#111" stroke-width="0.25" text-anchor="middle">2020</text>
<rect x="821.1" y="869.3" width="333.6" height="31.9" fill="#FCEFE6" stroke="#2a2a2a" stroke-width="1.4"/>
<text x="987.9" y="891.9" font-size="17.8" font-weight="bold" fill="#DCAD46" text-anchor="middle">Both-ASMR per 100,000</text>
<rect x="821.1" y="901.2" width="333.6" height="369.9" fill="#ffffff"/>
<line x1="821.1" y1="1223.1" x2="1154.7" y2="1223.1" stroke="#EDEDED" stroke-width="0.8"/>
<line x1="821.1" y1="1141.3" x2="1154.7" y2="1141.3" stroke="#EDEDED" stroke-width="0.8"/>
<line x1="821.1" y1="1059.4" x2="1154.7" y2="1059.4" stroke="#EDEDED" stroke-width="0.8"/>
<line x1="821.1" y1="977.6" x2="1154.7" y2="977.6" stroke="#EDEDED" stroke-width="0.8"/>
<line x1="884.8" y1="901.2" x2="884.8" y2="1271.1" stroke="#EDEDED" stroke-width="0.8"/>
<line x1="982.6" y1="901.2" x2="982.6" y2="1271.1" stroke="#EDEDED" stroke-width="0.8"/>
<line x1="1080.5" y1="901.2" x2="1080.5" y2="1271.1" stroke="#EDEDED" stroke-width="0.8"/>
<line x1="821.1" y1="1264.0" x2="1154.7" y2="1264.0" stroke="#E6E6E6" stroke-width="1.2"/>
<line x1="821.1" y1="1182.2" x2="1154.7" y2="1182.2" stroke="#E6E6E6" stroke-width="1.2"/>
<line x1="821.1" y1="1100.3" x2="1154.7" y2="1100.3" stroke="#E6E6E6" stroke-width="1.2"/>
<line x1="821.1" y1="1018.5" x2="1154.7" y2="1018.5" stroke="#E6E6E6" stroke-width="1.2"/>
<line x1="821.1" y1="936.7" x2="1154.7" y2="936.7" stroke="#E6E6E6" stroke-width="1.2"/>
<line x1="835.8" y1="901.2" x2="835.8" y2="1271.1" stroke="#E6E6E6" stroke-width="1.2"/>
<line x1="933.7" y1="901.2" x2="933.7" y2="1271.1" stroke="#E6E6E6" stroke-width="1.2"/>
<line x1="1031.6" y1="901.2" x2="1031.6" y2="1271.1" stroke="#E6E6E6" stroke-width="1.2"/>
<line x1="1129.5" y1="901.2" x2="1129.5" y2="1271.1" stroke="#E6E6E6" stroke-width="1.2"/>
<polyline points="835.8,1241.6 845.6,1240.3 855.4,1239.1 865.2,1238.3 875.0,1237.1 884.8,1236.3 894.5,1234.6 904.3,1232.8 914.1,1231.3 923.9,1230.1 933.7,1229.1 943.5,1227.8 953.3,1226.6 963.1,1225.3 972.9,1224.1 982.6,1222.6 992.4,1221.3 1002.2,1219.6 1012.0,1217.9 1021.8,1215.9 1031.6,1213.4 1041.4,1211.4 1051.2,1209.1 1061.0,1207.1 1070.8,1205.1 1080.5,1202.9 1090.3,1201.4 1100.1,1199.6 1109.9,1198.4 1119.7,1197.1 1129.5,1196.4 1139.3,1195.4" fill="none" stroke="#F49D18" stroke-width="3.3" stroke-linejoin="round"/>
<polyline points="835.8,937.0 845.6,933.0 855.4,932.0 865.2,924.2 875.0,921.2 884.8,920.0 894.5,922.0 904.3,922.5 914.1,922.0 923.9,918.7 933.7,919.5 943.5,922.0 953.3,921.2 963.1,925.5 972.9,936.2 982.6,940.0 992.4,947.9 1002.2,953.7 1012.0,959.9 1021.8,961.9 1031.6,962.4 1041.4,961.2 1051.2,960.7 1061.0,961.9 1070.8,963.7 1080.5,965.4 1090.3,965.4 1100.1,967.9 1109.9,971.2 1119.7,972.9 1129.5,976.2 1139.3,976.7" fill="none" stroke="#7041A3" stroke-width="3.3" stroke-linejoin="round"/>
<polyline points="835.8,1254.6 845.6,1253.8 855.4,1252.1 865.2,1248.3 875.0,1243.3 884.8,1238.3 894.5,1234.6 904.3,1231.6 914.1,1227.6 923.9,1225.3 933.7,1223.8 943.5,1223.3 953.3,1224.6 963.1,1225.1 972.9,1225.1 982.6,1225.1 992.4,1225.3 1002.2,1224.6 1012.0,1223.3 1021.8,1222.1 1031.6,1220.3 1041.4,1219.6 1051.2,1218.9 1061.0,1217.9 1070.8,1216.6 1080.5,1214.1 1090.3,1212.1 1100.1,1209.6 1109.9,1207.9 1119.7,1205.9 1129.5,1205.9 1139.3,1204.6" fill="none" stroke="#62B42A" stroke-width="3.3" stroke-linejoin="round"/>
<polyline points="835.8,1029.3 845.6,1026.1 855.4,1022.3 865.2,1014.9 875.0,1007.9 884.8,1002.4 894.5,1002.9 904.3,1001.9 914.1,994.1 923.9,991.9 933.7,987.4 943.5,986.1 953.3,984.9 963.1,981.9 972.9,984.4 982.6,987.9 992.4,989.9 1002.2,988.6 1012.0,988.6 1021.8,989.1 1031.6,986.1 1041.4,984.9 1051.2,983.6 1061.0,981.6 1070.8,979.4 1080.5,973.2 1090.3,969.4 1100.1,971.2 1109.9,971.9 1119.7,973.7 1129.5,980.4 1139.3,983.6" fill="none" stroke="#1A44A2" stroke-width="3.3" stroke-linejoin="round"/>
<polyline points="835.8,1134.2 845.6,1133.0 855.4,1131.5 865.2,1127.2 875.0,1123.0 884.8,1119.7 894.5,1118.5 904.3,1117.2 914.1,1114.0 923.9,1112.2 933.7,1110.5 943.5,1111.0 953.3,1111.7 963.1,1113.0 972.9,1116.0 982.6,1118.5 992.4,1121.0 1002.2,1121.0 1012.0,1121.5 1021.8,1122.2 1031.6,1120.5 1041.4,1119.7 1051.2,1119.7 1061.0,1120.2 1070.8,1119.7 1080.5,1118.0 1090.3,1116.7 1100.1,1117.2 1109.9,1117.2 1119.7,1117.7 1129.5,1119.7 1139.3,1121.0" fill="none" stroke="#E21D23" stroke-width="3.3" stroke-linejoin="round"/>
<g fill="#F49D18"><circle cx="835.8" cy="1241.6" r="3.45"/><circle cx="845.6" cy="1240.3" r="3.45"/><circle cx="855.4" cy="1239.1" r="3.45"/><circle cx="865.2" cy="1238.3" r="3.45"/><circle cx="875.0" cy="1237.1" r="3.45"/><circle cx="884.8" cy="1236.3" r="3.45"/><circle cx="894.5" cy="1234.6" r="3.45"/><circle cx="904.3" cy="1232.8" r="3.45"/><circle cx="914.1" cy="1231.3" r="3.45"/><circle cx="923.9" cy="1230.1" r="3.45"/><circle cx="933.7" cy="1229.1" r="3.45"/><circle cx="943.5" cy="1227.8" r="3.45"/><circle cx="953.3" cy="1226.6" r="3.45"/><circle cx="963.1" cy="1225.3" r="3.45"/><circle cx="972.9" cy="1224.1" r="3.45"/><circle cx="982.6" cy="1222.6" r="3.45"/><circle cx="992.4" cy="1221.3" r="3.45"/><circle cx="1002.2" cy="1219.6" r="3.45"/><circle cx="1012.0" cy="1217.9" r="3.45"/><circle cx="1021.8" cy="1215.9" r="3.45"/><circle cx="1031.6" cy="1213.4" r="3.45"/><circle cx="1041.4" cy="1211.4" r="3.45"/><circle cx="1051.2" cy="1209.1" r="3.45"/><circle cx="1061.0" cy="1207.1" r="3.45"/><circle cx="1070.8" cy="1205.1" r="3.45"/><circle cx="1080.5" cy="1202.9" r="3.45"/><circle cx="1090.3" cy="1201.4" r="3.45"/><circle cx="1100.1" cy="1199.6" r="3.45"/><circle cx="1109.9" cy="1198.4" r="3.45"/><circle cx="1119.7" cy="1197.1" r="3.45"/><circle cx="1129.5" cy="1196.4" r="3.45"/><circle cx="1139.3" cy="1195.4" r="3.45"/></g>
<g fill="#7041A3"><circle cx="835.8" cy="937.0" r="3.45"/><circle cx="845.6" cy="933.0" r="3.45"/><circle cx="855.4" cy="932.0" r="3.45"/><circle cx="865.2" cy="924.2" r="3.45"/><circle cx="875.0" cy="921.2" r="3.45"/><circle cx="884.8" cy="920.0" r="3.45"/><circle cx="894.5" cy="922.0" r="3.45"/><circle cx="904.3" cy="922.5" r="3.45"/><circle cx="914.1" cy="922.0" r="3.45"/><circle cx="923.9" cy="918.7" r="3.45"/><circle cx="933.7" cy="919.5" r="3.45"/><circle cx="943.5" cy="922.0" r="3.45"/><circle cx="953.3" cy="921.2" r="3.45"/><circle cx="963.1" cy="925.5" r="3.45"/><circle cx="972.9" cy="936.2" r="3.45"/><circle cx="982.6" cy="940.0" r="3.45"/><circle cx="992.4" cy="947.9" r="3.45"/><circle cx="1002.2" cy="953.7" r="3.45"/><circle cx="1012.0" cy="959.9" r="3.45"/><circle cx="1021.8" cy="961.9" r="3.45"/><circle cx="1031.6" cy="962.4" r="3.45"/><circle cx="1041.4" cy="961.2" r="3.45"/><circle cx="1051.2" cy="960.7" r="3.45"/><circle cx="1061.0" cy="961.9" r="3.45"/><circle cx="1070.8" cy="963.7" r="3.45"/><circle cx="1080.5" cy="965.4" r="3.45"/><circle cx="1090.3" cy="965.4" r="3.45"/><circle cx="1100.1" cy="967.9" r="3.45"/><circle cx="1109.9" cy="971.2" r="3.45"/><circle cx="1119.7" cy="972.9" r="3.45"/><circle cx="1129.5" cy="976.2" r="3.45"/><circle cx="1139.3" cy="976.7" r="3.45"/></g>
<g fill="#62B42A"><circle cx="835.8" cy="1254.6" r="3.45"/><circle cx="845.6" cy="1253.8" r="3.45"/><circle cx="855.4" cy="1252.1" r="3.45"/><circle cx="865.2" cy="1248.3" r="3.45"/><circle cx="875.0" cy="1243.3" r="3.45"/><circle cx="884.8" cy="1238.3" r="3.45"/><circle cx="894.5" cy="1234.6" r="3.45"/><circle cx="904.3" cy="1231.6" r="3.45"/><circle cx="914.1" cy="1227.6" r="3.45"/><circle cx="923.9" cy="1225.3" r="3.45"/><circle cx="933.7" cy="1223.8" r="3.45"/><circle cx="943.5" cy="1223.3" r="3.45"/><circle cx="953.3" cy="1224.6" r="3.45"/><circle cx="963.1" cy="1225.1" r="3.45"/><circle cx="972.9" cy="1225.1" r="3.45"/><circle cx="982.6" cy="1225.1" r="3.45"/><circle cx="992.4" cy="1225.3" r="3.45"/><circle cx="1002.2" cy="1224.6" r="3.45"/><circle cx="1012.0" cy="1223.3" r="3.45"/><circle cx="1021.8" cy="1222.1" r="3.45"/><circle cx="1031.6" cy="1220.3" r="3.45"/><circle cx="1041.4" cy="1219.6" r="3.45"/><circle cx="1051.2" cy="1218.9" r="3.45"/><circle cx="1061.0" cy="1217.9" r="3.45"/><circle cx="1070.8" cy="1216.6" r="3.45"/><circle cx="1080.5" cy="1214.1" r="3.45"/><circle cx="1090.3" cy="1212.1" r="3.45"/><circle cx="1100.1" cy="1209.6" r="3.45"/><circle cx="1109.9" cy="1207.9" r="3.45"/><circle cx="1119.7" cy="1205.9" r="3.45"/><circle cx="1129.5" cy="1205.9" r="3.45"/><circle cx="1139.3" cy="1204.6" r="3.45"/></g>
<g fill="#1A44A2"><circle cx="835.8" cy="1029.3" r="3.45"/><circle cx="845.6" cy="1026.1" r="3.45"/><circle cx="855.4" cy="1022.3" r="3.45"/><circle cx="865.2" cy="1014.9" r="3.45"/><circle cx="875.0" cy="1007.9" r="3.45"/><circle cx="884.8" cy="1002.4" r="3.45"/><circle cx="894.5" cy="1002.9" r="3.45"/><circle cx="904.3" cy="1001.9" r="3.45"/><circle cx="914.1" cy="994.1" r="3.45"/><circle cx="923.9" cy="991.9" r="3.45"/><circle cx="933.7" cy="987.4" r="3.45"/><circle cx="943.5" cy="986.1" r="3.45"/><circle cx="953.3" cy="984.9" r="3.45"/><circle cx="963.1" cy="981.9" r="3.45"/><circle cx="972.9" cy="984.4" r="3.45"/><circle cx="982.6" cy="987.9" r="3.45"/><circle cx="992.4" cy="989.9" r="3.45"/><circle cx="1002.2" cy="988.6" r="3.45"/><circle cx="1012.0" cy="988.6" r="3.45"/><circle cx="1021.8" cy="989.1" r="3.45"/><circle cx="1031.6" cy="986.1" r="3.45"/><circle cx="1041.4" cy="984.9" r="3.45"/><circle cx="1051.2" cy="983.6" r="3.45"/><circle cx="1061.0" cy="981.6" r="3.45"/><circle cx="1070.8" cy="979.4" r="3.45"/><circle cx="1080.5" cy="973.2" r="3.45"/><circle cx="1090.3" cy="969.4" r="3.45"/><circle cx="1100.1" cy="971.2" r="3.45"/><circle cx="1109.9" cy="971.9" r="3.45"/><circle cx="1119.7" cy="973.7" r="3.45"/><circle cx="1129.5" cy="980.4" r="3.45"/><circle cx="1139.3" cy="983.6" r="3.45"/></g>
<g fill="#E21D23"><circle cx="835.8" cy="1134.2" r="3.45"/><circle cx="845.6" cy="1133.0" r="3.45"/><circle cx="855.4" cy="1131.5" r="3.45"/><circle cx="865.2" cy="1127.2" r="3.45"/><circle cx="875.0" cy="1123.0" r="3.45"/><circle cx="884.8" cy="1119.7" r="3.45"/><circle cx="894.5" cy="1118.5" r="3.45"/><circle cx="904.3" cy="1117.2" r="3.45"/><circle cx="914.1" cy="1114.0" r="3.45"/><circle cx="923.9" cy="1112.2" r="3.45"/><circle cx="933.7" cy="1110.5" r="3.45"/><circle cx="943.5" cy="1111.0" r="3.45"/><circle cx="953.3" cy="1111.7" r="3.45"/><circle cx="963.1" cy="1113.0" r="3.45"/><circle cx="972.9" cy="1116.0" r="3.45"/><circle cx="982.6" cy="1118.5" r="3.45"/><circle cx="992.4" cy="1121.0" r="3.45"/><circle cx="1002.2" cy="1121.0" r="3.45"/><circle cx="1012.0" cy="1121.5" r="3.45"/><circle cx="1021.8" cy="1122.2" r="3.45"/><circle cx="1031.6" cy="1120.5" r="3.45"/><circle cx="1041.4" cy="1119.7" r="3.45"/><circle cx="1051.2" cy="1119.7" r="3.45"/><circle cx="1061.0" cy="1120.2" r="3.45"/><circle cx="1070.8" cy="1119.7" r="3.45"/><circle cx="1080.5" cy="1118.0" r="3.45"/><circle cx="1090.3" cy="1116.7" r="3.45"/><circle cx="1100.1" cy="1117.2" r="3.45"/><circle cx="1109.9" cy="1117.2" r="3.45"/><circle cx="1119.7" cy="1117.7" r="3.45"/><circle cx="1129.5" cy="1119.7" r="3.45"/><circle cx="1139.3" cy="1121.0" r="3.45"/></g>
<rect x="821.1" y="901.2" width="333.6" height="369.9" fill="none" stroke="#2a2a2a" stroke-width="1.4"/>
<line x1="816.7" y1="936.7" x2="821.1" y2="936.7" stroke="#222" stroke-width="1.5"/>
<text transform="translate(811.7 942.5) scale(1 1.09)" font-size="15" fill="#111" stroke="#111" stroke-width="0.25" text-anchor="end">2.5</text>
<line x1="816.7" y1="1018.6" x2="821.1" y2="1018.6" stroke="#222" stroke-width="1.5"/>
<text transform="translate(811.7 1024.4) scale(1 1.09)" font-size="15" fill="#111" stroke="#111" stroke-width="0.25" text-anchor="end">2.0</text>
<line x1="816.7" y1="1100.5" x2="821.1" y2="1100.5" stroke="#222" stroke-width="1.5"/>
<text transform="translate(811.7 1106.3) scale(1 1.09)" font-size="15" fill="#111" stroke="#111" stroke-width="0.25" text-anchor="end">1.5</text>
<line x1="816.7" y1="1182.1" x2="821.1" y2="1182.1" stroke="#222" stroke-width="1.5"/>
<text transform="translate(811.7 1187.9) scale(1 1.09)" font-size="15" fill="#111" stroke="#111" stroke-width="0.25" text-anchor="end">1.0</text>
<line x1="816.7" y1="1264.0" x2="821.1" y2="1264.0" stroke="#222" stroke-width="1.5"/>
<text transform="translate(811.7 1269.8) scale(1 1.09)" font-size="15" fill="#111" stroke="#111" stroke-width="0.25" text-anchor="end">0.5</text>
<line x1="835.8" y1="1271.1" x2="835.8" y2="1275.5" stroke="#222" stroke-width="1.5"/>
<text transform="translate(835.8 1291.3) scale(1 1.09)" font-size="15" fill="#111" stroke="#111" stroke-width="0.25" text-anchor="middle">1990</text>
<line x1="933.7" y1="1271.1" x2="933.7" y2="1275.5" stroke="#222" stroke-width="1.5"/>
<text transform="translate(933.7 1291.3) scale(1 1.09)" font-size="15" fill="#111" stroke="#111" stroke-width="0.25" text-anchor="middle">2000</text>
<line x1="1031.6" y1="1271.1" x2="1031.6" y2="1275.5" stroke="#222" stroke-width="1.5"/>
<text transform="translate(1031.6 1291.3) scale(1 1.09)" font-size="15" fill="#111" stroke="#111" stroke-width="0.25" text-anchor="middle">2010</text>
<line x1="1129.5" y1="1271.1" x2="1129.5" y2="1275.5" stroke="#222" stroke-width="1.5"/>
<text transform="translate(1129.5 1291.3) scale(1 1.09)" font-size="15" fill="#111" stroke="#111" stroke-width="0.25" text-anchor="middle">2020</text>
<rect x="1190.4" y="869.3" width="333.6" height="31.9" fill="#E6EDF8" stroke="#2a2a2a" stroke-width="1.4"/>
<text x="1357.2" y="891.9" font-size="17.8" font-weight="bold" fill="#409BD0" text-anchor="middle">Both-ASPR per 100,000</text>
<rect x="1190.4" y="901.2" width="333.6" height="369.9" fill="#ffffff"/>
<line x1="1190.4" y1="1236.1" x2="1524.0" y2="1236.1" stroke="#EDEDED" stroke-width="0.8"/>
<line x1="1190.4" y1="1143.1" x2="1524.0" y2="1143.1" stroke="#EDEDED" stroke-width="0.8"/>
<line x1="1190.4" y1="1050.2" x2="1524.0" y2="1050.2" stroke="#EDEDED" stroke-width="0.8"/>
<line x1="1190.4" y1="957.2" x2="1524.0" y2="957.2" stroke="#EDEDED" stroke-width="0.8"/>
<line x1="1254.0" y1="901.2" x2="1254.0" y2="1271.1" stroke="#EDEDED" stroke-width="0.8"/>
<line x1="1351.9" y1="901.2" x2="1351.9" y2="1271.1" stroke="#EDEDED" stroke-width="0.8"/>
<line x1="1449.8" y1="901.2" x2="1449.8" y2="1271.1" stroke="#EDEDED" stroke-width="0.8"/>
<line x1="1190.4" y1="1189.6" x2="1524.0" y2="1189.6" stroke="#E6E6E6" stroke-width="1.2"/>
<line x1="1190.4" y1="1096.6" x2="1524.0" y2="1096.6" stroke="#E6E6E6" stroke-width="1.2"/>
<line x1="1190.4" y1="1003.7" x2="1524.0" y2="1003.7" stroke="#E6E6E6" stroke-width="1.2"/>
<line x1="1190.4" y1="910.7" x2="1524.0" y2="910.7" stroke="#E6E6E6" stroke-width="1.2"/>
<line x1="1205.1" y1="901.2" x2="1205.1" y2="1271.1" stroke="#E6E6E6" stroke-width="1.2"/>
<line x1="1303.0" y1="901.2" x2="1303.0" y2="1271.1" stroke="#E6E6E6" stroke-width="1.2"/>
<line x1="1400.9" y1="901.2" x2="1400.9" y2="1271.1" stroke="#E6E6E6" stroke-width="1.2"/>
<line x1="1498.8" y1="901.2" x2="1498.8" y2="1271.1" stroke="#E6E6E6" stroke-width="1.2"/>
<polyline points="1205.1,1254.6 1214.9,1254.2 1224.7,1253.8 1234.5,1253.4 1244.3,1253.0 1254.0,1252.6 1263.8,1252.1 1273.6,1251.7 1283.4,1251.2 1293.2,1250.8 1303.0,1250.3 1312.8,1249.8 1322.6,1249.3 1332.4,1248.8 1342.2,1248.3 1351.9,1247.8 1361.7,1247.1 1371.5,1246.5 1381.3,1245.8 1391.1,1244.9 1400.9,1244.1 1410.7,1243.2 1420.5,1242.2 1430.3,1241.3 1440.1,1240.2 1449.8,1239.1 1459.6,1238.2 1469.4,1237.2 1479.2,1236.3 1489.0,1235.3 1498.8,1234.3 1508.6,1233.3" fill="none" stroke="#F49D18" stroke-width="3.3" stroke-linejoin="round"/>
<polyline points="1205.1,1143.4 1214.9,1140.2 1224.7,1137.7 1234.5,1133.0 1244.3,1128.0 1254.0,1124.2 1263.8,1120.5 1273.6,1117.2 1283.4,1114.2 1293.2,1112.2 1303.0,1111.0 1312.8,1109.7 1322.6,1106.7 1332.4,1106.0 1342.2,1107.2 1351.9,1106.0 1361.7,1106.0 1371.5,1105.2 1381.3,1104.2 1391.1,1101.7 1400.9,1099.8 1410.7,1098.5 1420.5,1099.0 1430.3,1101.0 1440.1,1102.7 1449.8,1103.5 1459.6,1103.5 1469.4,1105.2 1479.2,1106.5 1489.0,1106.0 1498.8,1108.5 1508.6,1107.7" fill="none" stroke="#7041A3" stroke-width="3.3" stroke-linejoin="round"/>
<polyline points="1205.1,1244.1 1214.9,1243.8 1224.7,1242.8 1234.5,1241.3 1244.3,1238.8 1254.0,1236.6 1263.8,1234.6 1273.6,1232.8 1283.4,1231.3 1293.2,1230.1 1303.0,1229.1 1312.8,1228.1 1322.6,1227.1 1332.4,1225.8 1342.2,1224.6 1351.9,1222.6 1361.7,1220.8 1371.5,1218.9 1381.3,1217.1 1391.1,1215.9 1400.9,1214.1 1410.7,1212.6 1420.5,1211.4 1430.3,1210.4 1440.1,1209.1 1449.8,1207.6 1459.6,1206.4 1469.4,1205.1 1479.2,1204.1 1489.0,1202.9 1498.8,1202.1 1508.6,1201.4" fill="none" stroke="#62B42A" stroke-width="3.3" stroke-linejoin="round"/>
<polyline points="1205.1,1079.3 1214.9,1074.0 1224.7,1068.0 1234.5,1057.8 1244.3,1044.8 1254.0,1029.8 1263.8,1020.3 1273.6,1011.6 1283.4,1000.6 1293.2,996.9 1303.0,990.4 1312.8,984.9 1322.6,978.7 1332.4,969.4 1342.2,960.7 1351.9,949.9 1361.7,940.7 1371.5,934.2 1381.3,932.0 1391.1,932.5 1400.9,928.2 1410.7,926.7 1420.5,926.7 1430.3,925.5 1440.1,925.7 1449.8,922.0 1459.6,918.2 1469.4,921.7 1479.2,923.0 1489.0,925.7 1498.8,939.2 1508.6,939.2" fill="none" stroke="#1A44A2" stroke-width="3.3" stroke-linejoin="round"/>
<polyline points="1205.1,1185.9 1214.9,1184.1 1224.7,1182.1 1234.5,1178.4 1244.3,1174.2 1254.0,1169.7 1263.8,1165.9 1273.6,1162.9 1283.4,1159.7 1293.2,1157.9 1303.0,1156.4 1312.8,1154.7 1322.6,1152.9 1332.4,1150.9 1342.2,1149.2 1351.9,1147.2 1361.7,1144.7 1371.5,1142.2 1381.3,1140.9 1391.1,1140.4 1400.9,1139.2 1410.7,1138.5 1420.5,1139.0 1430.3,1139.0 1440.1,1138.5 1449.8,1137.7 1459.6,1137.2 1469.4,1138.5 1479.2,1139.0 1489.0,1139.2 1498.8,1141.7 1508.6,1141.7" fill="none" stroke="#E21D23" stroke-width="3.3" stroke-linejoin="round"/>
<g fill="#F49D18"><circle cx="1205.1" cy="1254.6" r="3.45"/><circle cx="1214.9" cy="1254.2" r="3.45"/><circle cx="1224.7" cy="1253.8" r="3.45"/><circle cx="1234.5" cy="1253.4" r="3.45"/><circle cx="1244.3" cy="1253.0" r="3.45"/><circle cx="1254.0" cy="1252.6" r="3.45"/><circle cx="1263.8" cy="1252.1" r="3.45"/><circle cx="1273.6" cy="1251.7" r="3.45"/><circle cx="1283.4" cy="1251.2" r="3.45"/><circle cx="1293.2" cy="1250.8" r="3.45"/><circle cx="1303.0" cy="1250.3" r="3.45"/><circle cx="1312.8" cy="1249.8" r="3.45"/><circle cx="1322.6" cy="1249.3" r="3.45"/><circle cx="1332.4" cy="1248.8" r="3.45"/><circle cx="1342.2" cy="1248.3" r="3.45"/><circle cx="1351.9" cy="1247.8" r="3.45"/><circle cx="1361.7" cy="1247.1" r="3.45"/><circle cx="1371.5" cy="1246.5" r="3.45"/><circle cx="1381.3" cy="1245.8" r="3.45"/><circle cx="1391.1" cy="1244.9" r="3.45"/><circle cx="1400.9" cy="1244.1" r="3.45"/><circle cx="1410.7" cy="1243.2" r="3.45"/><circle cx="1420.5" cy="1242.2" r="3.45"/><circle cx="1430.3" cy="1241.3" r="3.45"/><circle cx="1440.1" cy="1240.2" r="3.45"/><circle cx="1449.8" cy="1239.1" r="3.45"/><circle cx="1459.6" cy="1238.2" r="3.45"/><circle cx="1469.4" cy="1237.2" r="3.45"/><circle cx="1479.2" cy="1236.3" r="3.45"/><circle cx="1489.0" cy="1235.3" r="3.45"/><circle cx="1498.8" cy="1234.3" r="3.45"/><circle cx="1508.6" cy="1233.3" r="3.45"/></g>
<g fill="#7041A3"><circle cx="1205.1" cy="1143.4" r="3.45"/><circle cx="1214.9" cy="1140.2" r="3.45"/><circle cx="1224.7" cy="1137.7" r="3.45"/><circle cx="1234.5" cy="1133.0" r="3.45"/><circle cx="1244.3" cy="1128.0" r="3.45"/><circle cx="1254.0" cy="1124.2" r="3.45"/><circle cx="1263.8" cy="1120.5" r="3.45"/><circle cx="1273.6" cy="1117.2" r="3.45"/><circle cx="1283.4" cy="1114.2" r="3.45"/><circle cx="1293.2" cy="1112.2" r="3.45"/><circle cx="1303.0" cy="1111.0" r="3.45"/><circle cx="1312.8" cy="1109.7" r="3.45"/><circle cx="1322.6" cy="1106.7" r="3.45"/><circle cx="1332.4" cy="1106.0" r="3.45"/><circle cx="1342.2" cy="1107.2" r="3.45"/><circle cx="1351.9" cy="1106.0" r="3.45"/><circle cx="1361.7" cy="1106.0" r="3.45"/><circle cx="1371.5" cy="1105.2" r="3.45"/><circle cx="1381.3" cy="1104.2" r="3.45"/><circle cx="1391.1" cy="1101.7" r="3.45"/><circle cx="1400.9" cy="1099.8" r="3.45"/><circle cx="1410.7" cy="1098.5" r="3.45"/><circle cx="1420.5" cy="1099.0" r="3.45"/><circle cx="1430.3" cy="1101.0" r="3.45"/><circle cx="1440.1" cy="1102.7" r="3.45"/><circle cx="1449.8" cy="1103.5" r="3.45"/><circle cx="1459.6" cy="1103.5" r="3.45"/><circle cx="1469.4" cy="1105.2" r="3.45"/><circle cx="1479.2" cy="1106.5" r="3.45"/><circle cx="1489.0" cy="1106.0" r="3.45"/><circle cx="1498.8" cy="1108.5" r="3.45"/><circle cx="1508.6" cy="1107.7" r="3.45"/></g>
<g fill="#62B42A"><circle cx="1205.1" cy="1244.1" r="3.45"/><circle cx="1214.9" cy="1243.8" r="3.45"/><circle cx="1224.7" cy="1242.8" r="3.45"/><circle cx="1234.5" cy="1241.3" r="3.45"/><circle cx="1244.3" cy="1238.8" r="3.45"/><circle cx="1254.0" cy="1236.6" r="3.45"/><circle cx="1263.8" cy="1234.6" r="3.45"/><circle cx="1273.6" cy="1232.8" r="3.45"/><circle cx="1283.4" cy="1231.3" r="3.45"/><circle cx="1293.2" cy="1230.1" r="3.45"/><circle cx="1303.0" cy="1229.1" r="3.45"/><circle cx="1312.8" cy="1228.1" r="3.45"/><circle cx="1322.6" cy="1227.1" r="3.45"/><circle cx="1332.4" cy="1225.8" r="3.45"/><circle cx="1342.2" cy="1224.6" r="3.45"/><circle cx="1351.9" cy="1222.6" r="3.45"/><circle cx="1361.7" cy="1220.8" r="3.45"/><circle cx="1371.5" cy="1218.9" r="3.45"/><circle cx="1381.3" cy="1217.1" r="3.45"/><circle cx="1391.1" cy="1215.9" r="3.45"/><circle cx="1400.9" cy="1214.1" r="3.45"/><circle cx="1410.7" cy="1212.6" r="3.45"/><circle cx="1420.5" cy="1211.4" r="3.45"/><circle cx="1430.3" cy="1210.4" r="3.45"/><circle cx="1440.1" cy="1209.1" r="3.45"/><circle cx="1449.8" cy="1207.6" r="3.45"/><circle cx="1459.6" cy="1206.4" r="3.45"/><circle cx="1469.4" cy="1205.1" r="3.45"/><circle cx="1479.2" cy="1204.1" r="3.45"/><circle cx="1489.0" cy="1202.9" r="3.45"/><circle cx="1498.8" cy="1202.1" r="3.45"/><circle cx="1508.6" cy="1201.4" r="3.45"/></g>
<g fill="#1A44A2"><circle cx="1205.1" cy="1079.3" r="3.45"/><circle cx="1214.9" cy="1074.0" r="3.45"/><circle cx="1224.7" cy="1068.0" r="3.45"/><circle cx="1234.5" cy="1057.8" r="3.45"/><circle cx="1244.3" cy="1044.8" r="3.45"/><circle cx="1254.0" cy="1029.8" r="3.45"/><circle cx="1263.8" cy="1020.3" r="3.45"/><circle cx="1273.6" cy="1011.6" r="3.45"/><circle cx="1283.4" cy="1000.6" r="3.45"/><circle cx="1293.2" cy="996.9" r="3.45"/><circle cx="1303.0" cy="990.4" r="3.45"/><circle cx="1312.8" cy="984.9" r="3.45"/><circle cx="1322.6" cy="978.7" r="3.45"/><circle cx="1332.4" cy="969.4" r="3.45"/><circle cx="1342.2" cy="960.7" r="3.45"/><circle cx="1351.9" cy="949.9" r="3.45"/><circle cx="1361.7" cy="940.7" r="3.45"/><circle cx="1371.5" cy="934.2" r="3.45"/><circle cx="1381.3" cy="932.0" r="3.45"/><circle cx="1391.1" cy="932.5" r="3.45"/><circle cx="1400.9" cy="928.2" r="3.45"/><circle cx="1410.7" cy="926.7" r="3.45"/><circle cx="1420.5" cy="926.7" r="3.45"/><circle cx="1430.3" cy="925.5" r="3.45"/><circle cx="1440.1" cy="925.7" r="3.45"/><circle cx="1449.8" cy="922.0" r="3.45"/><circle cx="1459.6" cy="918.2" r="3.45"/><circle cx="1469.4" cy="921.7" r="3.45"/><circle cx="1479.2" cy="923.0" r="3.45"/><circle cx="1489.0" cy="925.7" r="3.45"/><circle cx="1498.8" cy="939.2" r="3.45"/><circle cx="1508.6" cy="939.2" r="3.45"/></g>
<g fill="#E21D23"><circle cx="1205.1" cy="1185.9" r="3.45"/><circle cx="1214.9" cy="1184.1" r="3.45"/><circle cx="1224.7" cy="1182.1" r="3.45"/><circle cx="1234.5" cy="1178.4" r="3.45"/><circle cx="1244.3" cy="1174.2" r="3.45"/><circle cx="1254.0" cy="1169.7" r="3.45"/><circle cx="1263.8" cy="1165.9" r="3.45"/><circle cx="1273.6" cy="1162.9" r="3.45"/><circle cx="1283.4" cy="1159.7" r="3.45"/><circle cx="1293.2" cy="1157.9" r="3.45"/><circle cx="1303.0" cy="1156.4" r="3.45"/><circle cx="1312.8" cy="1154.7" r="3.45"/><circle cx="1322.6" cy="1152.9" r="3.45"/><circle cx="1332.4" cy="1150.9" r="3.45"/><circle cx="1342.2" cy="1149.2" r="3.45"/><circle cx="1351.9" cy="1147.2" r="3.45"/><circle cx="1361.7" cy="1144.7" r="3.45"/><circle cx="1371.5" cy="1142.2" r="3.45"/><circle cx="1381.3" cy="1140.9" r="3.45"/><circle cx="1391.1" cy="1140.4" r="3.45"/><circle cx="1400.9" cy="1139.2" r="3.45"/><circle cx="1410.7" cy="1138.5" r="3.45"/><circle cx="1420.5" cy="1139.0" r="3.45"/><circle cx="1430.3" cy="1139.0" r="3.45"/><circle cx="1440.1" cy="1138.5" r="3.45"/><circle cx="1449.8" cy="1137.7" r="3.45"/><circle cx="1459.6" cy="1137.2" r="3.45"/><circle cx="1469.4" cy="1138.5" r="3.45"/><circle cx="1479.2" cy="1139.0" r="3.45"/><circle cx="1489.0" cy="1139.2" r="3.45"/><circle cx="1498.8" cy="1141.7" r="3.45"/><circle cx="1508.6" cy="1141.7" r="3.45"/></g>
<rect x="1190.4" y="901.2" width="333.6" height="369.9" fill="none" stroke="#2a2a2a" stroke-width="1.4"/>
<line x1="1186.0" y1="910.7" x2="1190.4" y2="910.7" stroke="#222" stroke-width="1.5"/>
<text transform="translate(1181.0 916.5) scale(1 1.09)" font-size="15" fill="#111" stroke="#111" stroke-width="0.25" text-anchor="end">12</text>
<line x1="1186.0" y1="1003.6" x2="1190.4" y2="1003.6" stroke="#222" stroke-width="1.5"/>
<text transform="translate(1181.0 1009.4) scale(1 1.09)" font-size="15" fill="#111" stroke="#111" stroke-width="0.25" text-anchor="end">9</text>
<line x1="1186.0" y1="1096.8" x2="1190.4" y2="1096.8" stroke="#222" stroke-width="1.5"/>
<text transform="translate(1181.0 1102.6) scale(1 1.09)" font-size="15" fill="#111" stroke="#111" stroke-width="0.25" text-anchor="end">6</text>
<line x1="1186.0" y1="1189.6" x2="1190.4" y2="1189.6" stroke="#222" stroke-width="1.5"/>
<text transform="translate(1181.0 1195.4) scale(1 1.09)" font-size="15" fill="#111" stroke="#111" stroke-width="0.25" text-anchor="end">3</text>
<line x1="1205.1" y1="1271.1" x2="1205.1" y2="1275.5" stroke="#222" stroke-width="1.5"/>
<text transform="translate(1205.1 1291.3) scale(1 1.09)" font-size="15" fill="#111" stroke="#111" stroke-width="0.25" text-anchor="middle">1990</text>
<line x1="1303.0" y1="1271.1" x2="1303.0" y2="1275.5" stroke="#222" stroke-width="1.5"/>
<text transform="translate(1303.0 1291.3) scale(1 1.09)" font-size="15" fill="#111" stroke="#111" stroke-width="0.25" text-anchor="middle">2000</text>
<line x1="1400.9" y1="1271.1" x2="1400.9" y2="1275.5" stroke="#222" stroke-width="1.5"/>
<text transform="translate(1400.9 1291.3) scale(1 1.09)" font-size="15" fill="#111" stroke="#111" stroke-width="0.25" text-anchor="middle">2010</text>
<line x1="1498.8" y1="1271.1" x2="1498.8" y2="1275.5" stroke="#222" stroke-width="1.5"/>
<text transform="translate(1498.8 1291.3) scale(1 1.09)" font-size="15" fill="#111" stroke="#111" stroke-width="0.25" text-anchor="middle">2020</text>
<rect x="173.5" y="1327.9" width="549.6" height="39.9" fill="#EEEEEE" stroke="#4a4a4a" stroke-width="1.1"/>
<line x1="173.5" y1="1367.8" x2="723.1" y2="1367.8" stroke="#333" stroke-width="1.9"/>
<text x="448.3" y="1355.5" font-size="23" font-weight="bold" fill="#111" text-anchor="middle">Absolute number of Incidence</text>
<line x1="173.5" y1="1391.9" x2="723.1" y2="1391.9" stroke="#ECECEC" stroke-width="1" stroke-dasharray="5.6 4"/>
<line x1="173.5" y1="1416.0" x2="723.1" y2="1416.0" stroke="#ECECEC" stroke-width="1" stroke-dasharray="5.6 4"/>
<line x1="173.5" y1="1440.1" x2="723.1" y2="1440.1" stroke="#ECECEC" stroke-width="1" stroke-dasharray="5.6 4"/>
<line x1="173.5" y1="1464.2" x2="723.1" y2="1464.2" stroke="#ECECEC" stroke-width="1" stroke-dasharray="5.6 4"/>
<line x1="173.5" y1="1488.3" x2="723.1" y2="1488.3" stroke="#ECECEC" stroke-width="1" stroke-dasharray="5.6 4"/>
<line x1="173.5" y1="1512.4" x2="723.1" y2="1512.4" stroke="#ECECEC" stroke-width="1" stroke-dasharray="5.6 4"/>
<line x1="173.5" y1="1536.5" x2="723.1" y2="1536.5" stroke="#ECECEC" stroke-width="1" stroke-dasharray="5.6 4"/>
<line x1="173.5" y1="1560.6" x2="723.1" y2="1560.6" stroke="#ECECEC" stroke-width="1" stroke-dasharray="5.6 4"/>
<line x1="173.5" y1="1584.7" x2="723.1" y2="1584.7" stroke="#ECECEC" stroke-width="1" stroke-dasharray="5.6 4"/>
<line x1="173.5" y1="1608.8" x2="723.1" y2="1608.8" stroke="#ECECEC" stroke-width="1" stroke-dasharray="5.6 4"/>
<line x1="173.5" y1="1632.9" x2="723.1" y2="1632.9" stroke="#ECECEC" stroke-width="1" stroke-dasharray="5.6 4"/>
<line x1="173.5" y1="1657.0" x2="723.1" y2="1657.0" stroke="#ECECEC" stroke-width="1" stroke-dasharray="5.6 4"/>
<line x1="173.5" y1="1681.1" x2="723.1" y2="1681.1" stroke="#ECECEC" stroke-width="1" stroke-dasharray="5.6 4"/>
<line x1="173.5" y1="1705.2" x2="723.1" y2="1705.2" stroke="#ECECEC" stroke-width="1" stroke-dasharray="5.6 4"/>
<line x1="173.5" y1="1729.3" x2="723.1" y2="1729.3" stroke="#ECECEC" stroke-width="1" stroke-dasharray="5.6 4"/>
<line x1="173.5" y1="1753.4" x2="723.1" y2="1753.4" stroke="#ECECEC" stroke-width="1" stroke-dasharray="5.6 4"/>
<line x1="173.5" y1="1777.5" x2="723.1" y2="1777.5" stroke="#ECECEC" stroke-width="1" stroke-dasharray="5.6 4"/>
<line x1="173.5" y1="1801.6" x2="723.1" y2="1801.6" stroke="#ECECEC" stroke-width="1" stroke-dasharray="5.6 4"/>
<line x1="173.5" y1="1825.7" x2="723.1" y2="1825.7" stroke="#ECECEC" stroke-width="1" stroke-dasharray="5.6 4"/>
<line x1="173.5" y1="1767.6" x2="723.1" y2="1767.6" stroke="#D0D0D0" stroke-width="1.5" stroke-dasharray="9.4 9.9"/>
<line x1="173.5" y1="1686.8" x2="723.1" y2="1686.8" stroke="#D0D0D0" stroke-width="1.5" stroke-dasharray="9.4 9.9"/>
<line x1="173.5" y1="1606.0" x2="723.1" y2="1606.0" stroke="#D0D0D0" stroke-width="1.5" stroke-dasharray="9.4 9.9"/>
<line x1="173.5" y1="1525.2" x2="723.1" y2="1525.2" stroke="#D0D0D0" stroke-width="1.5" stroke-dasharray="9.4 9.9"/>
<line x1="173.5" y1="1444.4" x2="723.1" y2="1444.4" stroke="#D0D0D0" stroke-width="1.5" stroke-dasharray="9.4 9.9"/>
<line x1="252.0" y1="1848.4" x2="252.0" y2="1367.8" stroke="#D0D0D0" stroke-width="1.5" stroke-dasharray="8.6 10.8"/>
<line x1="382.9" y1="1848.4" x2="382.9" y2="1367.8" stroke="#D0D0D0" stroke-width="1.5" stroke-dasharray="8.6 10.8"/>
<line x1="513.7" y1="1848.4" x2="513.7" y2="1367.8" stroke="#D0D0D0" stroke-width="1.5" stroke-dasharray="8.6 10.8"/>
<line x1="644.6" y1="1848.4" x2="644.6" y2="1367.8" stroke="#D0D0D0" stroke-width="1.5" stroke-dasharray="8.6 10.8"/>
<rect x="206.2" y="1799.3" width="91.6" height="49.1" fill="#86C48A"/>
<text x="252.0" y="1792.7" font-size="20.8" fill="#111" stroke="#111" stroke-width="0.15" text-anchor="middle">6082</text>
<rect x="337.1" y="1566.7" width="91.6" height="281.7" fill="#F3C544"/>
<text x="382.9" y="1560.1" font-size="20.8" fill="#111" stroke="#111" stroke-width="0.15" text-anchor="middle">34860</text>
<rect x="467.9" y="1418.4" width="91.6" height="430.0" fill="#DC797B"/>
<text x="513.7" y="1411.8" font-size="20.8" fill="#111" stroke="#111" stroke-width="0.15" text-anchor="middle">53218</text>
<rect x="598.8" y="1411.5" width="91.6" height="436.9" fill="#99C5EA"/>
<text x="644.6" y="1404.9" font-size="20.8" fill="#111" stroke="#111" stroke-width="0.15" text-anchor="middle">54073</text>
<rect x="173.5" y="1367.8" width="549.6" height="480.6" fill="none" stroke="#555" stroke-width="1.3"/>
<line x1="166.6" y1="1848.4" x2="173.5" y2="1848.4" stroke="#111" stroke-width="1.7"/>
<text transform="translate(161.4 1856.3) scale(1 1.07)" font-size="20.2" fill="#111" stroke="#111" stroke-width="0.2" text-anchor="end">0</text>
<line x1="166.6" y1="1767.6" x2="173.5" y2="1767.6" stroke="#111" stroke-width="1.7"/>
<text transform="translate(161.4 1775.5) scale(1 1.07)" font-size="20.2" fill="#111" stroke="#111" stroke-width="0.2" text-anchor="end">10000</text>
<line x1="166.6" y1="1686.8" x2="173.5" y2="1686.8" stroke="#111" stroke-width="1.7"/>
<text transform="translate(161.4 1694.7) scale(1 1.07)" font-size="20.2" fill="#111" stroke="#111" stroke-width="0.2" text-anchor="end">20000</text>
<line x1="166.6" y1="1606.0" x2="173.5" y2="1606.0" stroke="#111" stroke-width="1.7"/>
<text transform="translate(161.4 1613.9) scale(1 1.07)" font-size="20.2" fill="#111" stroke="#111" stroke-width="0.2" text-anchor="end">30000</text>
<line x1="166.6" y1="1525.2" x2="173.5" y2="1525.2" stroke="#111" stroke-width="1.7"/>
<text transform="translate(161.4 1533.1) scale(1 1.07)" font-size="20.2" fill="#111" stroke="#111" stroke-width="0.2" text-anchor="end">40000</text>
<line x1="166.6" y1="1444.4" x2="173.5" y2="1444.4" stroke="#111" stroke-width="1.7"/>
<text transform="translate(161.4 1452.3) scale(1 1.07)" font-size="20.2" fill="#111" stroke="#111" stroke-width="0.2" text-anchor="end">50000</text>
<rect x="814.3" y="1327.9" width="549.6" height="39.9" fill="#EEEEEE" stroke="#4a4a4a" stroke-width="1.1"/>
<line x1="814.3" y1="1367.8" x2="1363.9" y2="1367.8" stroke="#333" stroke-width="1.9"/>
<text x="1089.1" y="1355.5" font-size="23" font-weight="bold" fill="#111" text-anchor="middle">Absolute number of Prevalence</text>
<line x1="814.3" y1="1391.9" x2="1363.9" y2="1391.9" stroke="#ECECEC" stroke-width="1" stroke-dasharray="5.6 4"/>
<line x1="814.3" y1="1416.0" x2="1363.9" y2="1416.0" stroke="#ECECEC" stroke-width="1" stroke-dasharray="5.6 4"/>
<line x1="814.3" y1="1440.1" x2="1363.9" y2="1440.1" stroke="#ECECEC" stroke-width="1" stroke-dasharray="5.6 4"/>
<line x1="814.3" y1="1464.2" x2="1363.9" y2="1464.2" stroke="#ECECEC" stroke-width="1" stroke-dasharray="5.6 4"/>
<line x1="814.3" y1="1488.3" x2="1363.9" y2="1488.3" stroke="#ECECEC" stroke-width="1" stroke-dasharray="5.6 4"/>
<line x1="814.3" y1="1512.4" x2="1363.9" y2="1512.4" stroke="#ECECEC" stroke-width="1" stroke-dasharray="5.6 4"/>
<line x1="814.3" y1="1536.5" x2="1363.9" y2="1536.5" stroke="#ECECEC" stroke-width="1" stroke-dasharray="5.6 4"/>
<line x1="814.3" y1="1560.6" x2="1363.9" y2="1560.6" stroke="#ECECEC" stroke-width="1" stroke-dasharray="5.6 4"/>
<line x1="814.3" y1="1584.7" x2="1363.9" y2="1584.7" stroke="#ECECEC" stroke-width="1" stroke-dasharray="5.6 4"/>
<line x1="814.3" y1="1608.8" x2="1363.9" y2="1608.8" stroke="#ECECEC" stroke-width="1" stroke-dasharray="5.6 4"/>
<line x1="814.3" y1="1632.9" x2="1363.9" y2="1632.9" stroke="#ECECEC" stroke-width="1" stroke-dasharray="5.6 4"/>
<line x1="814.3" y1="1657.0" x2="1363.9" y2="1657.0" stroke="#ECECEC" stroke-width="1" stroke-dasharray="5.6 4"/>
<line x1="814.3" y1="1681.1" x2="1363.9" y2="1681.1" stroke="#ECECEC" stroke-width="1" stroke-dasharray="5.6 4"/>
<line x1="814.3" y1="1705.2" x2="1363.9" y2="1705.2" stroke="#ECECEC" stroke-width="1" stroke-dasharray="5.6 4"/>
<line x1="814.3" y1="1729.3" x2="1363.9" y2="1729.3" stroke="#ECECEC" stroke-width="1" stroke-dasharray="5.6 4"/>
<line x1="814.3" y1="1753.4" x2="1363.9" y2="1753.4" stroke="#ECECEC" stroke-width="1" stroke-dasharray="5.6 4"/>
<line x1="814.3" y1="1777.5" x2="1363.9" y2="1777.5" stroke="#ECECEC" stroke-width="1" stroke-dasharray="5.6 4"/>
<line x1="814.3" y1="1801.6" x2="1363.9" y2="1801.6" stroke="#ECECEC" stroke-width="1" stroke-dasharray="5.6 4"/>
<line x1="814.3" y1="1825.7" x2="1363.9" y2="1825.7" stroke="#ECECEC" stroke-width="1" stroke-dasharray="5.6 4"/>
<line x1="814.3" y1="1720.5" x2="1363.9" y2="1720.5" stroke="#D0D0D0" stroke-width="1.5" stroke-dasharray="9.4 9.9"/>
<line x1="814.3" y1="1592.7" x2="1363.9" y2="1592.7" stroke="#D0D0D0" stroke-width="1.5" stroke-dasharray="9.4 9.9"/>
<line x1="814.3" y1="1464.8" x2="1363.9" y2="1464.8" stroke="#D0D0D0" stroke-width="1.5" stroke-dasharray="9.4 9.9"/>
<line x1="892.8" y1="1848.4" x2="892.8" y2="1367.8" stroke="#D0D0D0" stroke-width="1.5" stroke-dasharray="8.6 10.8"/>
<line x1="1023.7" y1="1848.4" x2="1023.7" y2="1367.8" stroke="#D0D0D0" stroke-width="1.5" stroke-dasharray="8.6 10.8"/>
<line x1="1154.5" y1="1848.4" x2="1154.5" y2="1367.8" stroke="#D0D0D0" stroke-width="1.5" stroke-dasharray="8.6 10.8"/>
<line x1="1285.4" y1="1848.4" x2="1285.4" y2="1367.8" stroke="#D0D0D0" stroke-width="1.5" stroke-dasharray="8.6 10.8"/>
<rect x="847.0" y="1819.6" width="91.6" height="28.8" fill="#86C48A"/>
<text x="892.8" y="1813.0" font-size="20.8" fill="#111" stroke="#111" stroke-width="0.15" text-anchor="middle">11268</text>
<rect x="977.9" y="1655.1" width="91.6" height="193.3" fill="#F3C544"/>
<text x="1023.7" y="1648.5" font-size="20.8" fill="#111" stroke="#111" stroke-width="0.15" text-anchor="middle">75580</text>
<rect x="1108.7" y="1503.3" width="91.6" height="345.1" fill="#DC797B"/>
<text x="1154.5" y="1496.7" font-size="20.8" fill="#111" stroke="#111" stroke-width="0.15" text-anchor="middle">134965</text>
<rect x="1239.6" y="1411.5" width="91.6" height="436.9" fill="#99C5EA"/>
<text x="1285.4" y="1404.9" font-size="20.8" fill="#111" stroke="#111" stroke-width="0.15" text-anchor="middle">170850</text>
<rect x="814.3" y="1367.8" width="549.6" height="480.6" fill="none" stroke="#555" stroke-width="1.3"/>
<line x1="807.4" y1="1848.4" x2="814.3" y2="1848.4" stroke="#111" stroke-width="1.7"/>
<text transform="translate(802.2 1856.3) scale(1 1.07)" font-size="20.2" fill="#111" stroke="#111" stroke-width="0.2" text-anchor="end">0</text>
<line x1="807.4" y1="1720.5" x2="814.3" y2="1720.5" stroke="#111" stroke-width="1.7"/>
<text transform="translate(802.2 1728.4) scale(1 1.07)" font-size="20.2" fill="#111" stroke="#111" stroke-width="0.2" text-anchor="end">50000</text>
<line x1="807.4" y1="1592.7" x2="814.3" y2="1592.7" stroke="#111" stroke-width="1.7"/>
<text transform="translate(802.2 1600.6) scale(1 1.07)" font-size="20.2" fill="#111" stroke="#111" stroke-width="0.2" text-anchor="end">100000</text>
<line x1="807.4" y1="1464.8" x2="814.3" y2="1464.8" stroke="#111" stroke-width="1.7"/>
<text transform="translate(802.2 1472.7) scale(1 1.07)" font-size="20.2" fill="#111" stroke="#111" stroke-width="0.2" text-anchor="end">150000</text>
<rect x="173.5" y="1862.3" width="549.6" height="40.1" fill="#EEEEEE" stroke="#4a4a4a" stroke-width="1.1"/>
<line x1="173.5" y1="1902.4" x2="723.1" y2="1902.4" stroke="#333" stroke-width="1.9"/>
<text x="448.3" y="1889.9" font-size="23" font-weight="bold" fill="#111" text-anchor="middle">Absolute number of DALYs</text>
<line x1="173.5" y1="1926.4" x2="723.1" y2="1926.4" stroke="#ECECEC" stroke-width="1" stroke-dasharray="5.6 4"/>
<line x1="173.5" y1="1950.5" x2="723.1" y2="1950.5" stroke="#ECECEC" stroke-width="1" stroke-dasharray="5.6 4"/>
<line x1="173.5" y1="1974.6" x2="723.1" y2="1974.6" stroke="#ECECEC" stroke-width="1" stroke-dasharray="5.6 4"/>
<line x1="173.5" y1="1998.7" x2="723.1" y2="1998.7" stroke="#ECECEC" stroke-width="1" stroke-dasharray="5.6 4"/>
<line x1="173.5" y1="2022.8" x2="723.1" y2="2022.8" stroke="#ECECEC" stroke-width="1" stroke-dasharray="5.6 4"/>
<line x1="173.5" y1="2046.9" x2="723.1" y2="2046.9" stroke="#ECECEC" stroke-width="1" stroke-dasharray="5.6 4"/>
<line x1="173.5" y1="2071.0" x2="723.1" y2="2071.0" stroke="#ECECEC" stroke-width="1" stroke-dasharray="5.6 4"/>
<line x1="173.5" y1="2095.1" x2="723.1" y2="2095.1" stroke="#ECECEC" stroke-width="1" stroke-dasharray="5.6 4"/>
<line x1="173.5" y1="2119.2" x2="723.1" y2="2119.2" stroke="#ECECEC" stroke-width="1" stroke-dasharray="5.6 4"/>
<line x1="173.5" y1="2143.3" x2="723.1" y2="2143.3" stroke="#ECECEC" stroke-width="1" stroke-dasharray="5.6 4"/>
<line x1="173.5" y1="2167.4" x2="723.1" y2="2167.4" stroke="#ECECEC" stroke-width="1" stroke-dasharray="5.6 4"/>
<line x1="173.5" y1="2191.5" x2="723.1" y2="2191.5" stroke="#ECECEC" stroke-width="1" stroke-dasharray="5.6 4"/>
<line x1="173.5" y1="2215.6" x2="723.1" y2="2215.6" stroke="#ECECEC" stroke-width="1" stroke-dasharray="5.6 4"/>
<line x1="173.5" y1="2239.7" x2="723.1" y2="2239.7" stroke="#ECECEC" stroke-width="1" stroke-dasharray="5.6 4"/>
<line x1="173.5" y1="2263.8" x2="723.1" y2="2263.8" stroke="#ECECEC" stroke-width="1" stroke-dasharray="5.6 4"/>
<line x1="173.5" y1="2287.9" x2="723.1" y2="2287.9" stroke="#ECECEC" stroke-width="1" stroke-dasharray="5.6 4"/>
<line x1="173.5" y1="2312.0" x2="723.1" y2="2312.0" stroke="#ECECEC" stroke-width="1" stroke-dasharray="5.6 4"/>
<line x1="173.5" y1="2336.1" x2="723.1" y2="2336.1" stroke="#ECECEC" stroke-width="1" stroke-dasharray="5.6 4"/>
<line x1="173.5" y1="2360.2" x2="723.1" y2="2360.2" stroke="#ECECEC" stroke-width="1" stroke-dasharray="5.6 4"/>
<line x1="173.5" y1="2255.1" x2="723.1" y2="2255.1" stroke="#D0D0D0" stroke-width="1.5" stroke-dasharray="9.4 9.9"/>
<line x1="173.5" y1="2128.1" x2="723.1" y2="2128.1" stroke="#D0D0D0" stroke-width="1.5" stroke-dasharray="9.4 9.9"/>
<line x1="173.5" y1="2001.1" x2="723.1" y2="2001.1" stroke="#D0D0D0" stroke-width="1.5" stroke-dasharray="9.4 9.9"/>
<line x1="252.0" y1="2382.1" x2="252.0" y2="1902.4" stroke="#D0D0D0" stroke-width="1.5" stroke-dasharray="8.6 10.8"/>
<line x1="382.9" y1="2382.1" x2="382.9" y2="1902.4" stroke="#D0D0D0" stroke-width="1.5" stroke-dasharray="8.6 10.8"/>
<line x1="513.7" y1="2382.1" x2="513.7" y2="1902.4" stroke="#D0D0D0" stroke-width="1.5" stroke-dasharray="8.6 10.8"/>
<line x1="644.6" y1="2382.1" x2="644.6" y2="1902.4" stroke="#D0D0D0" stroke-width="1.5" stroke-dasharray="8.6 10.8"/>
<rect x="206.2" y="2316.7" width="91.6" height="65.4" fill="#86C48A"/>
<text x="252.0" y="2310.1" font-size="20.8" fill="#111" stroke="#111" stroke-width="0.15" text-anchor="middle">154511</text>
<rect x="337.1" y="2103.5" width="91.6" height="278.6" fill="#F3C544"/>
<text x="382.9" y="2096.9" font-size="20.8" fill="#111" stroke="#111" stroke-width="0.15" text-anchor="middle">658080</text>
<rect x="467.9" y="1946.0" width="91.6" height="436.1" fill="#DC797B"/>
<text x="513.7" y="1939.4" font-size="20.8" fill="#111" stroke="#111" stroke-width="0.15" text-anchor="middle">1030207</text>
<rect x="598.8" y="2066.5" width="91.6" height="315.6" fill="#99C5EA"/>
<text x="644.6" y="2059.9" font-size="20.8" fill="#111" stroke="#111" stroke-width="0.15" text-anchor="middle">745517</text>
<rect x="173.5" y="1902.4" width="549.6" height="479.7" fill="none" stroke="#555" stroke-width="1.3"/>
<line x1="166.6" y1="2382.1" x2="173.5" y2="2382.1" stroke="#111" stroke-width="1.7"/>
<text transform="translate(161.4 2390.0) scale(1 1.07)" font-size="20.2" fill="#111" stroke="#111" stroke-width="0.2" text-anchor="end">0e+00</text>
<line x1="166.6" y1="2255.1" x2="173.5" y2="2255.1" stroke="#111" stroke-width="1.7"/>
<text transform="translate(161.4 2263.0) scale(1 1.07)" font-size="20.2" fill="#111" stroke="#111" stroke-width="0.2" text-anchor="end">3e+05</text>
<line x1="166.6" y1="2128.1" x2="173.5" y2="2128.1" stroke="#111" stroke-width="1.7"/>
<text transform="translate(161.4 2136.0) scale(1 1.07)" font-size="20.2" fill="#111" stroke="#111" stroke-width="0.2" text-anchor="end">6e+05</text>
<line x1="166.6" y1="2001.1" x2="173.5" y2="2001.1" stroke="#111" stroke-width="1.7"/>
<text transform="translate(161.4 2009.0) scale(1 1.07)" font-size="20.2" fill="#111" stroke="#111" stroke-width="0.2" text-anchor="end">9e+05</text>
<line x1="252.0" y1="2382.1" x2="252.0" y2="2389.0" stroke="#111" stroke-width="1.7"/>
<text x="260.5" y="2407.1" font-size="19.2" fill="#1a1a1a" text-anchor="end" transform="rotate(-45 260.5 2407.1)">Africa</text>
<line x1="382.9" y1="2382.1" x2="382.9" y2="2389.0" stroke="#111" stroke-width="1.7"/>
<text x="391.4" y="2407.1" font-size="19.2" fill="#1a1a1a" text-anchor="end" transform="rotate(-45 391.4 2407.1)">America</text>
<line x1="513.7" y1="2382.1" x2="513.7" y2="2389.0" stroke="#111" stroke-width="1.7"/>
<text x="522.2" y="2407.1" font-size="19.2" fill="#1a1a1a" text-anchor="end" transform="rotate(-45 522.2 2407.1)">Asia</text>
<line x1="644.6" y1="2382.1" x2="644.6" y2="2389.0" stroke="#111" stroke-width="1.7"/>
<text x="653.1" y="2407.1" font-size="19.2" fill="#1a1a1a" text-anchor="end" transform="rotate(-45 653.1 2407.1)">Europe</text>
<rect x="814.3" y="1862.3" width="549.6" height="40.1" fill="#EEEEEE" stroke="#4a4a4a" stroke-width="1.1"/>
<line x1="814.3" y1="1902.4" x2="1363.9" y2="1902.4" stroke="#333" stroke-width="1.9"/>
<text x="1089.1" y="1889.9" font-size="23" font-weight="bold" fill="#111" text-anchor="middle">Absolute number of Deaths</text>
<line x1="814.3" y1="1926.4" x2="1363.9" y2="1926.4" stroke="#ECECEC" stroke-width="1" stroke-dasharray="5.6 4"/>
<line x1="814.3" y1="1950.5" x2="1363.9" y2="1950.5" stroke="#ECECEC" stroke-width="1" stroke-dasharray="5.6 4"/>
<line x1="814.3" y1="1974.6" x2="1363.9" y2="1974.6" stroke="#ECECEC" stroke-width="1" stroke-dasharray="5.6 4"/>
<line x1="814.3" y1="1998.7" x2="1363.9" y2="1998.7" stroke="#ECECEC" stroke-width="1" stroke-dasharray="5.6 4"/>
<line x1="814.3" y1="2022.8" x2="1363.9" y2="2022.8" stroke="#ECECEC" stroke-width="1" stroke-dasharray="5.6 4"/>
<line x1="814.3" y1="2046.9" x2="1363.9" y2="2046.9" stroke="#ECECEC" stroke-width="1" stroke-dasharray="5.6 4"/>
<line x1="814.3" y1="2071.0" x2="1363.9" y2="2071.0" stroke="#ECECEC" stroke-width="1" stroke-dasharray="5.6 4"/>
<line x1="814.3" y1="2095.1" x2="1363.9" y2="2095.1" stroke="#ECECEC" stroke-width="1" stroke-dasharray="5.6 4"/>
<line x1="814.3" y1="2119.2" x2="1363.9" y2="2119.2" stroke="#ECECEC" stroke-width="1" stroke-dasharray="5.6 4"/>
<line x1="814.3" y1="2143.3" x2="1363.9" y2="2143.3" stroke="#ECECEC" stroke-width="1" stroke-dasharray="5.6 4"/>
<line x1="814.3" y1="2167.4" x2="1363.9" y2="2167.4" stroke="#ECECEC" stroke-width="1" stroke-dasharray="5.6 4"/>
<line x1="814.3" y1="2191.5" x2="1363.9" y2="2191.5" stroke="#ECECEC" stroke-width="1" stroke-dasharray="5.6 4"/>
<line x1="814.3" y1="2215.6" x2="1363.9" y2="2215.6" stroke="#ECECEC" stroke-width="1" stroke-dasharray="5.6 4"/>
<line x1="814.3" y1="2239.7" x2="1363.9" y2="2239.7" stroke="#ECECEC" stroke-width="1" stroke-dasharray="5.6 4"/>
<line x1="814.3" y1="2263.8" x2="1363.9" y2="2263.8" stroke="#ECECEC" stroke-width="1" stroke-dasharray="5.6 4"/>
<line x1="814.3" y1="2287.9" x2="1363.9" y2="2287.9" stroke="#ECECEC" stroke-width="1" stroke-dasharray="5.6 4"/>
<line x1="814.3" y1="2312.0" x2="1363.9" y2="2312.0" stroke="#ECECEC" stroke-width="1" stroke-dasharray="5.6 4"/>
<line x1="814.3" y1="2336.1" x2="1363.9" y2="2336.1" stroke="#ECECEC" stroke-width="1" stroke-dasharray="5.6 4"/>
<line x1="814.3" y1="2360.2" x2="1363.9" y2="2360.2" stroke="#ECECEC" stroke-width="1" stroke-dasharray="5.6 4"/>
<line x1="814.3" y1="2279.0" x2="1363.9" y2="2279.0" stroke="#D0D0D0" stroke-width="1.5" stroke-dasharray="9.4 9.9"/>
<line x1="814.3" y1="2175.9" x2="1363.9" y2="2175.9" stroke="#D0D0D0" stroke-width="1.5" stroke-dasharray="9.4 9.9"/>
<line x1="814.3" y1="2072.8" x2="1363.9" y2="2072.8" stroke="#D0D0D0" stroke-width="1.5" stroke-dasharray="9.4 9.9"/>
<line x1="814.3" y1="1969.6" x2="1363.9" y2="1969.6" stroke="#D0D0D0" stroke-width="1.5" stroke-dasharray="9.4 9.9"/>
<line x1="892.8" y1="2382.1" x2="892.8" y2="1902.4" stroke="#D0D0D0" stroke-width="1.5" stroke-dasharray="8.6 10.8"/>
<line x1="1023.7" y1="2382.1" x2="1023.7" y2="1902.4" stroke="#D0D0D0" stroke-width="1.5" stroke-dasharray="8.6 10.8"/>
<line x1="1154.5" y1="2382.1" x2="1154.5" y2="1902.4" stroke="#D0D0D0" stroke-width="1.5" stroke-dasharray="8.6 10.8"/>
<line x1="1285.4" y1="2382.1" x2="1285.4" y2="1902.4" stroke="#D0D0D0" stroke-width="1.5" stroke-dasharray="8.6 10.8"/>
<rect x="847.0" y="2324.3" width="91.6" height="57.8" fill="#86C48A"/>
<text x="892.8" y="2317.7" font-size="20.8" fill="#111" stroke="#111" stroke-width="0.15" text-anchor="middle">5609</text>
<rect x="977.9" y="2065.2" width="91.6" height="316.9" fill="#F3C544"/>
<text x="1023.7" y="2058.6" font-size="20.8" fill="#111" stroke="#111" stroke-width="0.15" text-anchor="middle">30729</text>
<rect x="1108.7" y="1946.0" width="91.6" height="436.1" fill="#DC797B"/>
<text x="1154.5" y="1939.4" font-size="20.8" fill="#111" stroke="#111" stroke-width="0.15" text-anchor="middle">42292</text>
<rect x="1239.6" y="1996.5" width="91.6" height="385.6" fill="#99C5EA"/>
<text x="1285.4" y="1989.9" font-size="20.8" fill="#111" stroke="#111" stroke-width="0.15" text-anchor="middle">37397</text>
<rect x="814.3" y="1902.4" width="549.6" height="479.7" fill="none" stroke="#555" stroke-width="1.3"/>
<line x1="807.4" y1="2382.1" x2="814.3" y2="2382.1" stroke="#111" stroke-width="1.7"/>
<text transform="translate(802.2 2390.0) scale(1 1.07)" font-size="20.2" fill="#111" stroke="#111" stroke-width="0.2" text-anchor="end">0</text>
<line x1="807.4" y1="2279.0" x2="814.3" y2="2279.0" stroke="#111" stroke-width="1.7"/>
<text transform="translate(802.2 2286.9) scale(1 1.07)" font-size="20.2" fill="#111" stroke="#111" stroke-width="0.2" text-anchor="end">10000</text>
<line x1="807.4" y1="2175.9" x2="814.3" y2="2175.9" stroke="#111" stroke-width="1.7"/>
<text transform="translate(802.2 2183.8) scale(1 1.07)" font-size="20.2" fill="#111" stroke="#111" stroke-width="0.2" text-anchor="end">20000</text>
<line x1="807.4" y1="2072.8" x2="814.3" y2="2072.8" stroke="#111" stroke-width="1.7"/>
<text transform="translate(802.2 2080.7) scale(1 1.07)" font-size="20.2" fill="#111" stroke="#111" stroke-width="0.2" text-anchor="end">30000</text>
<line x1="807.4" y1="1969.6" x2="814.3" y2="1969.6" stroke="#111" stroke-width="1.7"/>
<text transform="translate(802.2 1977.5) scale(1 1.07)" font-size="20.2" fill="#111" stroke="#111" stroke-width="0.2" text-anchor="end">40000</text>
<line x1="892.8" y1="2382.1" x2="892.8" y2="2389.0" stroke="#111" stroke-width="1.7"/>
<text x="901.3" y="2407.1" font-size="19.2" fill="#1a1a1a" text-anchor="end" transform="rotate(-45 901.3 2407.1)">Africa</text>
<line x1="1023.7" y1="2382.1" x2="1023.7" y2="2389.0" stroke="#111" stroke-width="1.7"/>
<text x="1032.2" y="2407.1" font-size="19.2" fill="#1a1a1a" text-anchor="end" transform="rotate(-45 1032.2 2407.1)">America</text>
<line x1="1154.5" y1="2382.1" x2="1154.5" y2="2389.0" stroke="#111" stroke-width="1.7"/>
<text x="1163.0" y="2407.1" font-size="19.2" fill="#1a1a1a" text-anchor="end" transform="rotate(-45 1163.0 2407.1)">Asia</text>
<line x1="1285.4" y1="2382.1" x2="1285.4" y2="2389.0" stroke="#111" stroke-width="1.7"/>
<text x="1293.9" y="2407.1" font-size="19.2" fill="#1a1a1a" text-anchor="end" transform="rotate(-45 1293.9 2407.1)">Europe</text>
<text x="768.7" y="2496.5" font-size="25.2" font-weight="bold" fill="#111" text-anchor="middle">Location</text>
<text x="0" y="0" font-size="25.2" font-weight="bold" fill="#111" text-anchor="middle" transform="translate(79.8 1875.7) rotate(-90)">Number of Cases</text>
<text x="1402.8" y="1806.8" font-size="25.2" font-weight="bold" fill="#111">Location</text>
<rect x="1403.5" y="1823.1" width="32.6" height="32.6" fill="#86C48A"/>
<text x="1450.6" y="1847.6" font-size="19.6" fill="#111">Africa</text>
<rect x="1403.5" y="1858.9" width="32.6" height="32.6" fill="#F3C544"/>
<text x="1450.6" y="1883.4" font-size="19.6" fill="#111">America</text>
<rect x="1403.5" y="1895.0" width="32.6" height="32.6" fill="#DC797B"/>
<text x="1450.6" y="1919.5" font-size="19.6" fill="#111">Asia</text>
<rect x="1403.5" y="1931.2" width="32.6" height="32.6" fill="#99C5EA"/>
<text x="1450.6" y="1955.7" font-size="19.6" fill="#111">Europe</text>
</svg></body></html>
